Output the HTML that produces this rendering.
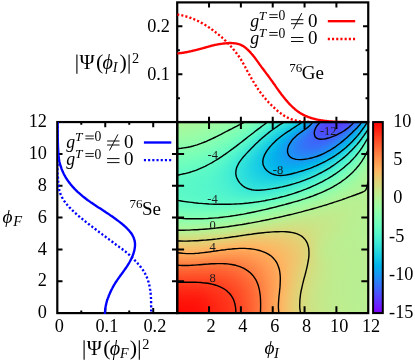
<!DOCTYPE html>
<html><head><meta charset="utf-8"><title>fig</title>
<style>html,body{margin:0;padding:0;background:#fff}body{width:415px;height:362px;overflow:hidden;font-family:"Liberation Serif",serif}</style>
</head><body>
<svg width="415" height="362" viewBox="0 0 415 362" style="display:block">
<rect width="415" height="362" fill="#fff"/>
<defs>
<linearGradient id="r0"><stop offset="0" stop-color="#adf599"/><stop offset="0.03704" stop-color="#abf69a"/><stop offset="0.07407" stop-color="#a9f79c"/><stop offset="0.1111" stop-color="#a6f89d"/><stop offset="0.1481" stop-color="#a4f99f"/><stop offset="0.1852" stop-color="#a0faa1"/><stop offset="0.2222" stop-color="#9cfba4"/><stop offset="0.2593" stop-color="#97fca7"/><stop offset="0.2963" stop-color="#92fdaa"/><stop offset="0.3333" stop-color="#8cfead"/><stop offset="0.3704" stop-color="#83ffb2"/><stop offset="0.4074" stop-color="#78ffb8"/><stop offset="0.4444" stop-color="#6afdc0"/><stop offset="0.4815" stop-color="#58f8c9"/><stop offset="0.5185" stop-color="#46efd1"/><stop offset="0.5556" stop-color="#36e6d8"/><stop offset="0.5926" stop-color="#28dbde"/><stop offset="0.6296" stop-color="#18cde4"/><stop offset="0.6667" stop-color="#04b8eb"/><stop offset="0.7037" stop-color="#1799f2"/><stop offset="0.7407" stop-color="#4061fa"/><stop offset="0.7778" stop-color="#5049fc"/><stop offset="0.8148" stop-color="#5542fd"/><stop offset="0.8519" stop-color="#583dfd"/><stop offset="0.8889" stop-color="#5444fd"/><stop offset="0.9259" stop-color="#3f63fa"/><stop offset="0.963" stop-color="#1997f2"/><stop offset="1" stop-color="#19cee3"/></linearGradient>
<linearGradient id="r1"><stop offset="0" stop-color="#abf69b"/><stop offset="0.03704" stop-color="#a9f79c"/><stop offset="0.07407" stop-color="#a7f89d"/><stop offset="0.1111" stop-color="#a4f99f"/><stop offset="0.1481" stop-color="#a1faa1"/><stop offset="0.1852" stop-color="#9efba3"/><stop offset="0.2222" stop-color="#99fca6"/><stop offset="0.2593" stop-color="#94fda9"/><stop offset="0.2963" stop-color="#8efeac"/><stop offset="0.3333" stop-color="#88ffb0"/><stop offset="0.3704" stop-color="#7fffb5"/><stop offset="0.4074" stop-color="#73febb"/><stop offset="0.4444" stop-color="#64fbc3"/><stop offset="0.4815" stop-color="#52f5cc"/><stop offset="0.5185" stop-color="#3febd4"/><stop offset="0.5556" stop-color="#30e1db"/><stop offset="0.5926" stop-color="#22d6e0"/><stop offset="0.6296" stop-color="#10c6e6"/><stop offset="0.6667" stop-color="#05afed"/><stop offset="0.7037" stop-color="#208df4"/><stop offset="0.7407" stop-color="#4658fb"/><stop offset="0.7778" stop-color="#5247fc"/><stop offset="0.8148" stop-color="#5444fd"/><stop offset="0.8519" stop-color="#5641fd"/><stop offset="0.8889" stop-color="#4f4bfc"/><stop offset="0.9259" stop-color="#366ff9"/><stop offset="0.963" stop-color="#0fa2f0"/><stop offset="1" stop-color="#22d6e0"/></linearGradient>
<linearGradient id="r2"><stop offset="0" stop-color="#a8f79c"/><stop offset="0.03704" stop-color="#a7f89d"/><stop offset="0.07407" stop-color="#a4f89f"/><stop offset="0.1111" stop-color="#a2f9a0"/><stop offset="0.1481" stop-color="#9ffaa2"/><stop offset="0.1852" stop-color="#9bfba5"/><stop offset="0.2222" stop-color="#96fda7"/><stop offset="0.2593" stop-color="#91feaa"/><stop offset="0.2963" stop-color="#8bfeae"/><stop offset="0.3333" stop-color="#84ffb2"/><stop offset="0.3704" stop-color="#7bffb7"/><stop offset="0.4074" stop-color="#6efdbe"/><stop offset="0.4444" stop-color="#5efac6"/><stop offset="0.4815" stop-color="#4bf2cf"/><stop offset="0.5185" stop-color="#38e7d7"/><stop offset="0.5556" stop-color="#2adcdd"/><stop offset="0.5926" stop-color="#1bcfe3"/><stop offset="0.6296" stop-color="#08bde9"/><stop offset="0.6667" stop-color="#0ea5ef"/><stop offset="0.7037" stop-color="#2a81f6"/><stop offset="0.7407" stop-color="#4a52fc"/><stop offset="0.7778" stop-color="#5246fd"/><stop offset="0.8148" stop-color="#5346fd"/><stop offset="0.8519" stop-color="#5246fd"/><stop offset="0.8889" stop-color="#4955fb"/><stop offset="0.9259" stop-color="#2d7df7"/><stop offset="0.963" stop-color="#05afed"/><stop offset="1" stop-color="#2cdedc"/></linearGradient>
<linearGradient id="r3"><stop offset="0" stop-color="#a6f89e"/><stop offset="0.03704" stop-color="#a4f99f"/><stop offset="0.07407" stop-color="#a2f9a0"/><stop offset="0.1111" stop-color="#9ffaa2"/><stop offset="0.1481" stop-color="#9cfba4"/><stop offset="0.1852" stop-color="#98fca6"/><stop offset="0.2222" stop-color="#93fda9"/><stop offset="0.2593" stop-color="#8dfeac"/><stop offset="0.2963" stop-color="#87ffb0"/><stop offset="0.3333" stop-color="#80ffb4"/><stop offset="0.3704" stop-color="#76ffba"/><stop offset="0.4074" stop-color="#68fcc1"/><stop offset="0.4444" stop-color="#57f7c9"/><stop offset="0.4815" stop-color="#44eed2"/><stop offset="0.5185" stop-color="#32e2da"/><stop offset="0.5556" stop-color="#23d7e0"/><stop offset="0.5926" stop-color="#13c8e5"/><stop offset="0.6296" stop-color="#01b3ec"/><stop offset="0.6667" stop-color="#179af2"/><stop offset="0.7037" stop-color="#3276f8"/><stop offset="0.7407" stop-color="#4c4ffc"/><stop offset="0.7778" stop-color="#5247fc"/><stop offset="0.8148" stop-color="#5148fc"/><stop offset="0.8519" stop-color="#4e4cfc"/><stop offset="0.8889" stop-color="#4160fa"/><stop offset="0.9259" stop-color="#228bf5"/><stop offset="0.963" stop-color="#05baea"/><stop offset="1" stop-color="#36e5d8"/></linearGradient>
<linearGradient id="r4"><stop offset="0" stop-color="#a3f99f"/><stop offset="0.03704" stop-color="#a2f9a0"/><stop offset="0.07407" stop-color="#9ffaa2"/><stop offset="0.1111" stop-color="#9dfba3"/><stop offset="0.1481" stop-color="#99fca5"/><stop offset="0.1852" stop-color="#95fda8"/><stop offset="0.2222" stop-color="#90feab"/><stop offset="0.2593" stop-color="#8afeae"/><stop offset="0.2963" stop-color="#84ffb2"/><stop offset="0.3333" stop-color="#7cffb6"/><stop offset="0.3704" stop-color="#71febc"/><stop offset="0.4074" stop-color="#62fbc4"/><stop offset="0.4444" stop-color="#50f4cd"/><stop offset="0.4815" stop-color="#3dead5"/><stop offset="0.5185" stop-color="#2bdddd"/><stop offset="0.5556" stop-color="#1cd1e2"/><stop offset="0.5926" stop-color="#0bc0e8"/><stop offset="0.6296" stop-color="#0aa9ee"/><stop offset="0.6667" stop-color="#1f8ff4"/><stop offset="0.7037" stop-color="#376ef9"/><stop offset="0.7407" stop-color="#4c4ffc"/><stop offset="0.7778" stop-color="#504afc"/><stop offset="0.8148" stop-color="#4e4cfc"/><stop offset="0.8519" stop-color="#4954fb"/><stop offset="0.8889" stop-color="#386df9"/><stop offset="0.9259" stop-color="#1898f2"/><stop offset="0.963" stop-color="#0fc4e7"/><stop offset="1" stop-color="#40ecd4"/></linearGradient>
<linearGradient id="r5"><stop offset="0" stop-color="#a1faa1"/><stop offset="0.03704" stop-color="#9ffaa2"/><stop offset="0.07407" stop-color="#9dfba3"/><stop offset="0.1111" stop-color="#9afca5"/><stop offset="0.1481" stop-color="#97fca7"/><stop offset="0.1852" stop-color="#92fdaa"/><stop offset="0.2222" stop-color="#8dfead"/><stop offset="0.2593" stop-color="#87ffb0"/><stop offset="0.2963" stop-color="#80ffb4"/><stop offset="0.3333" stop-color="#77ffb9"/><stop offset="0.3704" stop-color="#6cfdbf"/><stop offset="0.4074" stop-color="#5cf9c7"/><stop offset="0.4444" stop-color="#49f1d0"/><stop offset="0.4815" stop-color="#36e5d8"/><stop offset="0.5185" stop-color="#25d8df"/><stop offset="0.5556" stop-color="#15cae5"/><stop offset="0.5926" stop-color="#03b8eb"/><stop offset="0.6296" stop-color="#129ff1"/><stop offset="0.6667" stop-color="#2686f5"/><stop offset="0.7037" stop-color="#3b69f9"/><stop offset="0.7407" stop-color="#4b51fc"/><stop offset="0.7778" stop-color="#4d4dfc"/><stop offset="0.8148" stop-color="#4b51fc"/><stop offset="0.8519" stop-color="#435dfb"/><stop offset="0.8889" stop-color="#2e7af7"/><stop offset="0.9259" stop-color="#0ea4f0"/><stop offset="0.963" stop-color="#19cee4"/><stop offset="1" stop-color="#49f1d0"/></linearGradient>
<linearGradient id="r6"><stop offset="0" stop-color="#9efaa3"/><stop offset="0.03704" stop-color="#9dfba3"/><stop offset="0.07407" stop-color="#9afca5"/><stop offset="0.1111" stop-color="#97fca7"/><stop offset="0.1481" stop-color="#94fda9"/><stop offset="0.1852" stop-color="#8ffeab"/><stop offset="0.2222" stop-color="#8affaf"/><stop offset="0.2593" stop-color="#83ffb2"/><stop offset="0.2963" stop-color="#7cffb6"/><stop offset="0.3333" stop-color="#73febb"/><stop offset="0.3704" stop-color="#66fcc2"/><stop offset="0.4074" stop-color="#56f7ca"/><stop offset="0.4444" stop-color="#42edd3"/><stop offset="0.4815" stop-color="#2fe0db"/><stop offset="0.5185" stop-color="#1fd3e1"/><stop offset="0.5556" stop-color="#0fc4e7"/><stop offset="0.5926" stop-color="#05afed"/><stop offset="0.6296" stop-color="#1a95f3"/><stop offset="0.6667" stop-color="#2b7ef6"/><stop offset="0.7037" stop-color="#3c66fa"/><stop offset="0.7407" stop-color="#4855fb"/><stop offset="0.7778" stop-color="#4a52fc"/><stop offset="0.8148" stop-color="#4658fb"/><stop offset="0.8519" stop-color="#3c67fa"/><stop offset="0.8889" stop-color="#2587f5"/><stop offset="0.9259" stop-color="#06aeed"/><stop offset="0.963" stop-color="#23d6e0"/><stop offset="1" stop-color="#53f5cb"/></linearGradient>
<linearGradient id="r7"><stop offset="0" stop-color="#9bfba4"/><stop offset="0.03704" stop-color="#9afca5"/><stop offset="0.07407" stop-color="#98fca6"/><stop offset="0.1111" stop-color="#95fda8"/><stop offset="0.1481" stop-color="#91feaa"/><stop offset="0.1852" stop-color="#8cfead"/><stop offset="0.2222" stop-color="#86ffb0"/><stop offset="0.2593" stop-color="#80ffb4"/><stop offset="0.2963" stop-color="#78ffb8"/><stop offset="0.3333" stop-color="#6efebe"/><stop offset="0.3704" stop-color="#61fac4"/><stop offset="0.4074" stop-color="#4ff4cd"/><stop offset="0.4444" stop-color="#3ce9d6"/><stop offset="0.4815" stop-color="#29dcdd"/><stop offset="0.5185" stop-color="#19cee3"/><stop offset="0.5556" stop-color="#08bde9"/><stop offset="0.5926" stop-color="#0ca7ef"/><stop offset="0.6296" stop-color="#208ef4"/><stop offset="0.6667" stop-color="#2f79f7"/><stop offset="0.7037" stop-color="#3d66fa"/><stop offset="0.7407" stop-color="#4559fb"/><stop offset="0.7778" stop-color="#4658fb"/><stop offset="0.8148" stop-color="#4160fa"/><stop offset="0.8519" stop-color="#3472f8"/><stop offset="0.8889" stop-color="#1b93f3"/><stop offset="0.9259" stop-color="#03b8eb"/><stop offset="0.963" stop-color="#2ddfdc"/><stop offset="1" stop-color="#5cf9c7"/></linearGradient>
<linearGradient id="r8"><stop offset="0" stop-color="#99fca6"/><stop offset="0.03704" stop-color="#97fca7"/><stop offset="0.07407" stop-color="#95fda8"/><stop offset="0.1111" stop-color="#92fdaa"/><stop offset="0.1481" stop-color="#8efeac"/><stop offset="0.1852" stop-color="#89ffaf"/><stop offset="0.2222" stop-color="#83ffb2"/><stop offset="0.2593" stop-color="#7cffb6"/><stop offset="0.2963" stop-color="#74feba"/><stop offset="0.3333" stop-color="#6afdc0"/><stop offset="0.3704" stop-color="#5bf9c7"/><stop offset="0.4074" stop-color="#49f1d0"/><stop offset="0.4444" stop-color="#36e5d8"/><stop offset="0.4815" stop-color="#23d7e0"/><stop offset="0.5185" stop-color="#13c8e5"/><stop offset="0.5556" stop-color="#02b7eb"/><stop offset="0.5926" stop-color="#12a0f1"/><stop offset="0.6296" stop-color="#2488f5"/><stop offset="0.6667" stop-color="#3275f8"/><stop offset="0.7037" stop-color="#3d66fa"/><stop offset="0.7407" stop-color="#425efa"/><stop offset="0.7778" stop-color="#425ffa"/><stop offset="0.8148" stop-color="#3b68f9"/><stop offset="0.8519" stop-color="#2c7ef7"/><stop offset="0.8889" stop-color="#139ff1"/><stop offset="0.9259" stop-color="#0cc2e8"/><stop offset="0.963" stop-color="#37e6d8"/><stop offset="1" stop-color="#65fcc2"/></linearGradient>
<linearGradient id="r9"><stop offset="0" stop-color="#96fda8"/><stop offset="0.03704" stop-color="#94fda8"/><stop offset="0.07407" stop-color="#92fdaa"/><stop offset="0.1111" stop-color="#8ffeac"/><stop offset="0.1481" stop-color="#8bfeae"/><stop offset="0.1852" stop-color="#86ffb1"/><stop offset="0.2222" stop-color="#80ffb4"/><stop offset="0.2593" stop-color="#79ffb8"/><stop offset="0.2963" stop-color="#70febd"/><stop offset="0.3333" stop-color="#65fcc2"/><stop offset="0.3704" stop-color="#55f6ca"/><stop offset="0.4074" stop-color="#43edd3"/><stop offset="0.4444" stop-color="#30e1db"/><stop offset="0.4815" stop-color="#1ed3e2"/><stop offset="0.5185" stop-color="#0ec3e7"/><stop offset="0.5556" stop-color="#03b1ed"/><stop offset="0.5926" stop-color="#179af2"/><stop offset="0.6296" stop-color="#2883f6"/><stop offset="0.6667" stop-color="#3472f8"/><stop offset="0.7037" stop-color="#3c67fa"/><stop offset="0.7407" stop-color="#3f62fa"/><stop offset="0.7778" stop-color="#3d65fa"/><stop offset="0.8148" stop-color="#3571f8"/><stop offset="0.8519" stop-color="#2389f5"/><stop offset="0.8889" stop-color="#0aa9ee"/><stop offset="0.9259" stop-color="#16cbe4"/><stop offset="0.963" stop-color="#40ecd4"/><stop offset="1" stop-color="#6dfdbe"/></linearGradient>
<linearGradient id="r10"><stop offset="0" stop-color="#93fda9"/><stop offset="0.03704" stop-color="#91fdaa"/><stop offset="0.07407" stop-color="#8ffeab"/><stop offset="0.1111" stop-color="#8cfead"/><stop offset="0.1481" stop-color="#88ffb0"/><stop offset="0.1852" stop-color="#82ffb3"/><stop offset="0.2222" stop-color="#7cffb6"/><stop offset="0.2593" stop-color="#75feba"/><stop offset="0.2963" stop-color="#6cfdbf"/><stop offset="0.3333" stop-color="#60fac5"/><stop offset="0.3704" stop-color="#50f4cd"/><stop offset="0.4074" stop-color="#3dead5"/><stop offset="0.4444" stop-color="#2adddd"/><stop offset="0.4815" stop-color="#19cee3"/><stop offset="0.5185" stop-color="#09bee9"/><stop offset="0.5556" stop-color="#08abee"/><stop offset="0.5926" stop-color="#1a95f3"/><stop offset="0.6296" stop-color="#2a80f6"/><stop offset="0.6667" stop-color="#3572f8"/><stop offset="0.7037" stop-color="#3b69f9"/><stop offset="0.7407" stop-color="#3c67fa"/><stop offset="0.7778" stop-color="#386cf9"/><stop offset="0.8148" stop-color="#2e7bf7"/><stop offset="0.8519" stop-color="#1b94f3"/><stop offset="0.8889" stop-color="#01b3ec"/><stop offset="0.9259" stop-color="#20d4e1"/><stop offset="0.963" stop-color="#4af1d0"/><stop offset="1" stop-color="#74feba"/></linearGradient>
<linearGradient id="r11"><stop offset="0" stop-color="#90feab"/><stop offset="0.03704" stop-color="#8efeac"/><stop offset="0.07407" stop-color="#8cfead"/><stop offset="0.1111" stop-color="#89ffaf"/><stop offset="0.1481" stop-color="#84ffb2"/><stop offset="0.1852" stop-color="#7fffb5"/><stop offset="0.2222" stop-color="#79ffb8"/><stop offset="0.2593" stop-color="#71febc"/><stop offset="0.2963" stop-color="#68fcc1"/><stop offset="0.3333" stop-color="#5bf8c8"/><stop offset="0.3704" stop-color="#4af1cf"/><stop offset="0.4074" stop-color="#37e6d8"/><stop offset="0.4444" stop-color="#25d9df"/><stop offset="0.4815" stop-color="#15cae5"/><stop offset="0.5185" stop-color="#05baea"/><stop offset="0.5556" stop-color="#0ca7ef"/><stop offset="0.5926" stop-color="#1d92f3"/><stop offset="0.6296" stop-color="#2b7ff6"/><stop offset="0.6667" stop-color="#3472f8"/><stop offset="0.7037" stop-color="#396bf9"/><stop offset="0.7407" stop-color="#396cf9"/><stop offset="0.7778" stop-color="#3374f8"/><stop offset="0.8148" stop-color="#2784f6"/><stop offset="0.8519" stop-color="#139ef1"/><stop offset="0.8889" stop-color="#08bde9"/><stop offset="0.9259" stop-color="#2adddd"/><stop offset="0.963" stop-color="#52f5cc"/><stop offset="1" stop-color="#7bffb7"/></linearGradient>
<linearGradient id="r12"><stop offset="0" stop-color="#8dfead"/><stop offset="0.03704" stop-color="#8bfeae"/><stop offset="0.07407" stop-color="#89ffaf"/><stop offset="0.1111" stop-color="#85ffb1"/><stop offset="0.1481" stop-color="#81ffb4"/><stop offset="0.1852" stop-color="#7bffb7"/><stop offset="0.2222" stop-color="#75feba"/><stop offset="0.2593" stop-color="#6dfdbe"/><stop offset="0.2963" stop-color="#63fbc3"/><stop offset="0.3333" stop-color="#55f6ca"/><stop offset="0.3704" stop-color="#44eed2"/><stop offset="0.4074" stop-color="#32e3da"/><stop offset="0.4444" stop-color="#21d5e0"/><stop offset="0.4815" stop-color="#11c6e6"/><stop offset="0.5185" stop-color="#02b6eb"/><stop offset="0.5556" stop-color="#0ea4f0"/><stop offset="0.5926" stop-color="#1e90f4"/><stop offset="0.6296" stop-color="#2b7ff6"/><stop offset="0.6667" stop-color="#3374f8"/><stop offset="0.7037" stop-color="#366ff9"/><stop offset="0.7407" stop-color="#3472f8"/><stop offset="0.7778" stop-color="#2d7cf7"/><stop offset="0.8148" stop-color="#1f8ef4"/><stop offset="0.8519" stop-color="#0aa9ee"/><stop offset="0.8889" stop-color="#11c7e6"/><stop offset="0.9259" stop-color="#34e4d9"/><stop offset="0.963" stop-color="#5af8c8"/><stop offset="1" stop-color="#81ffb4"/></linearGradient>
<linearGradient id="r13"><stop offset="0" stop-color="#89ffaf"/><stop offset="0.03704" stop-color="#88ffb0"/><stop offset="0.07407" stop-color="#85ffb1"/><stop offset="0.1111" stop-color="#82ffb3"/><stop offset="0.1481" stop-color="#7dffb6"/><stop offset="0.1852" stop-color="#78ffb9"/><stop offset="0.2222" stop-color="#71febc"/><stop offset="0.2593" stop-color="#69fdc0"/><stop offset="0.2963" stop-color="#5ffac6"/><stop offset="0.3333" stop-color="#50f4cd"/><stop offset="0.3704" stop-color="#3febd4"/><stop offset="0.4074" stop-color="#2edfdc"/><stop offset="0.4444" stop-color="#1dd1e2"/><stop offset="0.4815" stop-color="#0dc3e7"/><stop offset="0.5185" stop-color="#01b3ec"/><stop offset="0.5556" stop-color="#10a1f0"/><stop offset="0.5926" stop-color="#1f8ff4"/><stop offset="0.6296" stop-color="#2a80f6"/><stop offset="0.6667" stop-color="#3177f8"/><stop offset="0.7037" stop-color="#3374f8"/><stop offset="0.7407" stop-color="#3078f7"/><stop offset="0.7778" stop-color="#2784f6"/><stop offset="0.8148" stop-color="#1799f2"/><stop offset="0.8519" stop-color="#01b3ec"/><stop offset="0.8889" stop-color="#1bd0e3"/><stop offset="0.9259" stop-color="#3eead5"/><stop offset="0.963" stop-color="#61fbc4"/><stop offset="1" stop-color="#87ffb0"/></linearGradient>
<linearGradient id="r14"><stop offset="0" stop-color="#86ffb1"/><stop offset="0.03704" stop-color="#84ffb2"/><stop offset="0.07407" stop-color="#82ffb3"/><stop offset="0.1111" stop-color="#7effb5"/><stop offset="0.1481" stop-color="#7affb8"/><stop offset="0.1852" stop-color="#74feba"/><stop offset="0.2222" stop-color="#6efdbe"/><stop offset="0.2593" stop-color="#65fcc2"/><stop offset="0.2963" stop-color="#5af8c8"/><stop offset="0.3333" stop-color="#4bf2cf"/><stop offset="0.3704" stop-color="#3ae8d6"/><stop offset="0.4074" stop-color="#2adcdd"/><stop offset="0.4444" stop-color="#1acee3"/><stop offset="0.4815" stop-color="#0bc0e8"/><stop offset="0.5185" stop-color="#04b0ed"/><stop offset="0.5556" stop-color="#12a0f1"/><stop offset="0.5926" stop-color="#1f8ff4"/><stop offset="0.6296" stop-color="#2982f6"/><stop offset="0.6667" stop-color="#2e7bf7"/><stop offset="0.7037" stop-color="#2f7af7"/><stop offset="0.7407" stop-color="#2a80f6"/><stop offset="0.7778" stop-color="#208ef4"/><stop offset="0.8148" stop-color="#0fa3f0"/><stop offset="0.8519" stop-color="#09bee9"/><stop offset="0.8889" stop-color="#26d9df"/><stop offset="0.9259" stop-color="#46efd1"/><stop offset="0.963" stop-color="#68fcc1"/><stop offset="1" stop-color="#8cfead"/></linearGradient>
<linearGradient id="r15"><stop offset="0" stop-color="#83ffb3"/><stop offset="0.03704" stop-color="#81ffb4"/><stop offset="0.07407" stop-color="#7effb5"/><stop offset="0.1111" stop-color="#7bffb7"/><stop offset="0.1481" stop-color="#76ffb9"/><stop offset="0.1852" stop-color="#71febc"/><stop offset="0.2222" stop-color="#6afdc0"/><stop offset="0.2593" stop-color="#61fbc4"/><stop offset="0.2963" stop-color="#55f6ca"/><stop offset="0.3333" stop-color="#46efd1"/><stop offset="0.3704" stop-color="#36e5d8"/><stop offset="0.4074" stop-color="#26d9df"/><stop offset="0.4444" stop-color="#17cce4"/><stop offset="0.4815" stop-color="#08bde9"/><stop offset="0.5185" stop-color="#05aeed"/><stop offset="0.5556" stop-color="#129ff1"/><stop offset="0.5926" stop-color="#1e90f4"/><stop offset="0.6296" stop-color="#2685f5"/><stop offset="0.6667" stop-color="#2a80f6"/><stop offset="0.7037" stop-color="#2a81f6"/><stop offset="0.7407" stop-color="#2488f5"/><stop offset="0.7778" stop-color="#1898f2"/><stop offset="0.8148" stop-color="#05aeed"/><stop offset="0.8519" stop-color="#13c8e6"/><stop offset="0.8889" stop-color="#2fe1db"/><stop offset="0.9259" stop-color="#4ef3cd"/><stop offset="0.963" stop-color="#6ffebd"/><stop offset="1" stop-color="#91feaa"/></linearGradient>
<linearGradient id="r16"><stop offset="0" stop-color="#7fffb5"/><stop offset="0.03704" stop-color="#7dffb6"/><stop offset="0.07407" stop-color="#7bffb7"/><stop offset="0.1111" stop-color="#77ffb9"/><stop offset="0.1481" stop-color="#73febb"/><stop offset="0.1852" stop-color="#6dfdbe"/><stop offset="0.2222" stop-color="#66fcc2"/><stop offset="0.2593" stop-color="#5df9c6"/><stop offset="0.2963" stop-color="#51f5cc"/><stop offset="0.3333" stop-color="#42edd3"/><stop offset="0.3704" stop-color="#32e3da"/><stop offset="0.4074" stop-color="#23d7e0"/><stop offset="0.4444" stop-color="#14c9e5"/><stop offset="0.4815" stop-color="#07bbea"/><stop offset="0.5185" stop-color="#06aded"/><stop offset="0.5556" stop-color="#129ff1"/><stop offset="0.5926" stop-color="#1c93f3"/><stop offset="0.6296" stop-color="#2389f5"/><stop offset="0.6667" stop-color="#2686f5"/><stop offset="0.7037" stop-color="#2488f5"/><stop offset="0.7407" stop-color="#1d92f3"/><stop offset="0.7778" stop-color="#0fa3f0"/><stop offset="0.8148" stop-color="#04b9ea"/><stop offset="0.8519" stop-color="#1dd1e2"/><stop offset="0.8889" stop-color="#39e7d7"/><stop offset="0.9259" stop-color="#56f7ca"/><stop offset="0.963" stop-color="#76ffba"/><stop offset="1" stop-color="#95fda8"/></linearGradient>
<linearGradient id="r17"><stop offset="0" stop-color="#7cffb6"/><stop offset="0.03704" stop-color="#7affb7"/><stop offset="0.07407" stop-color="#77ffb9"/><stop offset="0.1111" stop-color="#74febb"/><stop offset="0.1481" stop-color="#6ffebd"/><stop offset="0.1852" stop-color="#6afdc0"/><stop offset="0.2222" stop-color="#63fbc4"/><stop offset="0.2593" stop-color="#59f8c8"/><stop offset="0.2963" stop-color="#4df3ce"/><stop offset="0.3333" stop-color="#3eead5"/><stop offset="0.3704" stop-color="#2fe0db"/><stop offset="0.4074" stop-color="#20d4e1"/><stop offset="0.4444" stop-color="#12c8e6"/><stop offset="0.4815" stop-color="#06baea"/><stop offset="0.5185" stop-color="#06aded"/><stop offset="0.5556" stop-color="#11a0f0"/><stop offset="0.5926" stop-color="#1a95f3"/><stop offset="0.6296" stop-color="#1f8ef4"/><stop offset="0.6667" stop-color="#218df4"/><stop offset="0.7037" stop-color="#1d91f3"/><stop offset="0.7407" stop-color="#159cf1"/><stop offset="0.7778" stop-color="#06aeed"/><stop offset="0.8148" stop-color="#0ec4e7"/><stop offset="0.8519" stop-color="#26dade"/><stop offset="0.8889" stop-color="#42edd3"/><stop offset="0.9259" stop-color="#5ef9c6"/><stop offset="0.963" stop-color="#7cffb7"/><stop offset="1" stop-color="#99fca6"/></linearGradient>
<linearGradient id="r18"><stop offset="0" stop-color="#78ffb8"/><stop offset="0.03704" stop-color="#76ffb9"/><stop offset="0.07407" stop-color="#74febb"/><stop offset="0.1111" stop-color="#70febd"/><stop offset="0.1481" stop-color="#6cfdbf"/><stop offset="0.1852" stop-color="#66fcc2"/><stop offset="0.2222" stop-color="#5ffac5"/><stop offset="0.2593" stop-color="#56f7ca"/><stop offset="0.2963" stop-color="#49f1d0"/><stop offset="0.3333" stop-color="#3ae8d6"/><stop offset="0.3704" stop-color="#2cdedc"/><stop offset="0.4074" stop-color="#1ed3e2"/><stop offset="0.4444" stop-color="#11c6e6"/><stop offset="0.4815" stop-color="#05baea"/><stop offset="0.5185" stop-color="#06aded"/><stop offset="0.5556" stop-color="#10a2f0"/><stop offset="0.5926" stop-color="#1799f2"/><stop offset="0.6296" stop-color="#1b94f3"/><stop offset="0.6667" stop-color="#1b94f3"/><stop offset="0.7037" stop-color="#169af2"/><stop offset="0.7407" stop-color="#0ca7ef"/><stop offset="0.7778" stop-color="#04b9ea"/><stop offset="0.8148" stop-color="#18cde4"/><stop offset="0.8519" stop-color="#30e1db"/><stop offset="0.8889" stop-color="#4af1cf"/><stop offset="0.9259" stop-color="#65fcc3"/><stop offset="0.963" stop-color="#81ffb3"/><stop offset="1" stop-color="#9cfba4"/></linearGradient>
<linearGradient id="r19"><stop offset="0" stop-color="#75feba"/><stop offset="0.03704" stop-color="#73febb"/><stop offset="0.07407" stop-color="#70febd"/><stop offset="0.1111" stop-color="#6dfdbe"/><stop offset="0.1481" stop-color="#68fcc1"/><stop offset="0.1852" stop-color="#63fbc3"/><stop offset="0.2222" stop-color="#5cf9c7"/><stop offset="0.2593" stop-color="#52f5cc"/><stop offset="0.2963" stop-color="#45efd2"/><stop offset="0.3333" stop-color="#37e6d8"/><stop offset="0.3704" stop-color="#29dcdd"/><stop offset="0.4074" stop-color="#1dd1e2"/><stop offset="0.4444" stop-color="#11c6e6"/><stop offset="0.4815" stop-color="#05baea"/><stop offset="0.5185" stop-color="#05aeed"/><stop offset="0.5556" stop-color="#0ea4f0"/><stop offset="0.5926" stop-color="#149df1"/><stop offset="0.6296" stop-color="#169af2"/><stop offset="0.6667" stop-color="#149df1"/><stop offset="0.7037" stop-color="#0ea4f0"/><stop offset="0.7407" stop-color="#02b2ec"/><stop offset="0.7778" stop-color="#0ec3e7"/><stop offset="0.8148" stop-color="#22d6e0"/><stop offset="0.8519" stop-color="#39e7d7"/><stop offset="0.8889" stop-color="#52f5cc"/><stop offset="0.9259" stop-color="#6cfdbf"/><stop offset="0.963" stop-color="#86ffb0"/><stop offset="1" stop-color="#a0faa2"/></linearGradient>
<linearGradient id="r20"><stop offset="0" stop-color="#72febc"/><stop offset="0.03704" stop-color="#6ffebd"/><stop offset="0.07407" stop-color="#6dfdbe"/><stop offset="0.1111" stop-color="#6afdc0"/><stop offset="0.1481" stop-color="#65fcc2"/><stop offset="0.1852" stop-color="#60fac5"/><stop offset="0.2222" stop-color="#59f8c8"/><stop offset="0.2593" stop-color="#4ff4cd"/><stop offset="0.2963" stop-color="#42edd3"/><stop offset="0.3333" stop-color="#34e4d9"/><stop offset="0.3704" stop-color="#28dbde"/><stop offset="0.4074" stop-color="#1cd0e2"/><stop offset="0.4444" stop-color="#10c6e6"/><stop offset="0.4815" stop-color="#06bbea"/><stop offset="0.5185" stop-color="#04b0ed"/><stop offset="0.5556" stop-color="#0ca7ef"/><stop offset="0.5926" stop-color="#10a2f0"/><stop offset="0.6296" stop-color="#10a1f0"/><stop offset="0.6667" stop-color="#0da5ef"/><stop offset="0.7037" stop-color="#05aeed"/><stop offset="0.7407" stop-color="#07bce9"/><stop offset="0.7778" stop-color="#17cce4"/><stop offset="0.8148" stop-color="#2bdddd"/><stop offset="0.8519" stop-color="#42edd3"/><stop offset="0.8889" stop-color="#5af8c8"/><stop offset="0.9259" stop-color="#72febb"/><stop offset="0.963" stop-color="#8bfeae"/><stop offset="1" stop-color="#a3f9a0"/></linearGradient>
<linearGradient id="r21"><stop offset="0" stop-color="#6ffebd"/><stop offset="0.03704" stop-color="#6cfdbf"/><stop offset="0.07407" stop-color="#6afdc0"/><stop offset="0.1111" stop-color="#67fcc2"/><stop offset="0.1481" stop-color="#62fbc4"/><stop offset="0.1852" stop-color="#5df9c6"/><stop offset="0.2222" stop-color="#56f7ca"/><stop offset="0.2593" stop-color="#4df3ce"/><stop offset="0.2963" stop-color="#40ecd4"/><stop offset="0.3333" stop-color="#33e3da"/><stop offset="0.3704" stop-color="#26d9de"/><stop offset="0.4074" stop-color="#1bd0e3"/><stop offset="0.4444" stop-color="#11c6e6"/><stop offset="0.4815" stop-color="#07bce9"/><stop offset="0.5185" stop-color="#02b2ec"/><stop offset="0.5556" stop-color="#09aaee"/><stop offset="0.5926" stop-color="#0ba7ef"/><stop offset="0.6296" stop-color="#0aa8ef"/><stop offset="0.6667" stop-color="#06aeed"/><stop offset="0.7037" stop-color="#03b8eb"/><stop offset="0.7407" stop-color="#10c5e6"/><stop offset="0.7778" stop-color="#21d5e1"/><stop offset="0.8148" stop-color="#34e4d9"/><stop offset="0.8519" stop-color="#4af1cf"/><stop offset="0.8889" stop-color="#61fbc4"/><stop offset="0.9259" stop-color="#79ffb8"/><stop offset="0.963" stop-color="#90feab"/><stop offset="1" stop-color="#a5f89e"/></linearGradient>
<linearGradient id="r22"><stop offset="0" stop-color="#6cfdbf"/><stop offset="0.03704" stop-color="#69fdc0"/><stop offset="0.07407" stop-color="#67fcc1"/><stop offset="0.1111" stop-color="#64fbc3"/><stop offset="0.1481" stop-color="#60fac5"/><stop offset="0.1852" stop-color="#5bf9c7"/><stop offset="0.2222" stop-color="#54f6cb"/><stop offset="0.2593" stop-color="#4af1cf"/><stop offset="0.2963" stop-color="#3eebd5"/><stop offset="0.3333" stop-color="#31e2da"/><stop offset="0.3704" stop-color="#26d9df"/><stop offset="0.4074" stop-color="#1bd0e3"/><stop offset="0.4444" stop-color="#12c7e6"/><stop offset="0.4815" stop-color="#09bee9"/><stop offset="0.5185" stop-color="#00b5ec"/><stop offset="0.5556" stop-color="#05aeed"/><stop offset="0.5926" stop-color="#07adee"/><stop offset="0.6296" stop-color="#04b0ed"/><stop offset="0.6667" stop-color="#02b7eb"/><stop offset="0.7037" stop-color="#0cc1e8"/><stop offset="0.7407" stop-color="#19cee3"/><stop offset="0.7778" stop-color="#2adcdd"/><stop offset="0.8148" stop-color="#3dead5"/><stop offset="0.8519" stop-color="#52f5cc"/><stop offset="0.8889" stop-color="#68fcc1"/><stop offset="0.9259" stop-color="#7fffb5"/><stop offset="0.963" stop-color="#94fda8"/><stop offset="1" stop-color="#a8f79d"/></linearGradient>
<linearGradient id="r23"><stop offset="0" stop-color="#69fdc0"/><stop offset="0.03704" stop-color="#67fcc2"/><stop offset="0.07407" stop-color="#64fbc3"/><stop offset="0.1111" stop-color="#61fbc4"/><stop offset="0.1481" stop-color="#5ef9c6"/><stop offset="0.1852" stop-color="#59f8c8"/><stop offset="0.2222" stop-color="#52f5cc"/><stop offset="0.2593" stop-color="#49f1d0"/><stop offset="0.2963" stop-color="#3dead5"/><stop offset="0.3333" stop-color="#30e1db"/><stop offset="0.3704" stop-color="#25d9df"/><stop offset="0.4074" stop-color="#1bd0e3"/><stop offset="0.4444" stop-color="#13c8e6"/><stop offset="0.4815" stop-color="#0bc0e8"/><stop offset="0.5185" stop-color="#03b8eb"/><stop offset="0.5556" stop-color="#01b3ec"/><stop offset="0.5926" stop-color="#01b3ec"/><stop offset="0.6296" stop-color="#03b7eb"/><stop offset="0.6667" stop-color="#0abfe8"/><stop offset="0.7037" stop-color="#14cae5"/><stop offset="0.7407" stop-color="#22d6e0"/><stop offset="0.7778" stop-color="#32e3da"/><stop offset="0.8148" stop-color="#45efd1"/><stop offset="0.8519" stop-color="#5af8c8"/><stop offset="0.8889" stop-color="#6ffebd"/><stop offset="0.9259" stop-color="#84ffb2"/><stop offset="0.963" stop-color="#98fca6"/><stop offset="1" stop-color="#aaf69b"/></linearGradient>
<linearGradient id="r24"><stop offset="0" stop-color="#66fcc2"/><stop offset="0.03704" stop-color="#64fbc3"/><stop offset="0.07407" stop-color="#62fbc4"/><stop offset="0.1111" stop-color="#5ffac5"/><stop offset="0.1481" stop-color="#5cf9c7"/><stop offset="0.1852" stop-color="#57f7c9"/><stop offset="0.2222" stop-color="#50f4cc"/><stop offset="0.2593" stop-color="#47f0d1"/><stop offset="0.2963" stop-color="#3ce9d6"/><stop offset="0.3333" stop-color="#30e1db"/><stop offset="0.3704" stop-color="#25d9df"/><stop offset="0.4074" stop-color="#1cd1e2"/><stop offset="0.4444" stop-color="#14cae5"/><stop offset="0.4815" stop-color="#0dc2e7"/><stop offset="0.5185" stop-color="#06bbea"/><stop offset="0.5556" stop-color="#03b8eb"/><stop offset="0.5926" stop-color="#05b9ea"/><stop offset="0.6296" stop-color="#0abfe9"/><stop offset="0.6667" stop-color="#12c7e6"/><stop offset="0.7037" stop-color="#1dd1e2"/><stop offset="0.7407" stop-color="#2bdddd"/><stop offset="0.7778" stop-color="#3be9d6"/><stop offset="0.8148" stop-color="#4ef3ce"/><stop offset="0.8519" stop-color="#62fbc4"/><stop offset="0.8889" stop-color="#76ffba"/><stop offset="0.9259" stop-color="#8afeaf"/><stop offset="0.963" stop-color="#9cfba4"/><stop offset="1" stop-color="#acf59a"/></linearGradient>
<linearGradient id="r25"><stop offset="0" stop-color="#64fbc3"/><stop offset="0.03704" stop-color="#62fbc4"/><stop offset="0.07407" stop-color="#60fac5"/><stop offset="0.1111" stop-color="#5df9c6"/><stop offset="0.1481" stop-color="#5af8c8"/><stop offset="0.1852" stop-color="#56f7ca"/><stop offset="0.2222" stop-color="#4ff4cd"/><stop offset="0.2593" stop-color="#46efd1"/><stop offset="0.2963" stop-color="#3be9d6"/><stop offset="0.3333" stop-color="#30e1db"/><stop offset="0.3704" stop-color="#26d9df"/><stop offset="0.4074" stop-color="#1dd2e2"/><stop offset="0.4444" stop-color="#16cbe4"/><stop offset="0.4815" stop-color="#10c5e6"/><stop offset="0.5185" stop-color="#0abfe8"/><stop offset="0.5556" stop-color="#08bde9"/><stop offset="0.5926" stop-color="#0bc0e8"/><stop offset="0.6296" stop-color="#11c6e6"/><stop offset="0.6667" stop-color="#1acfe3"/><stop offset="0.7037" stop-color="#25d9df"/><stop offset="0.7407" stop-color="#33e3d9"/><stop offset="0.7778" stop-color="#44eed2"/><stop offset="0.8148" stop-color="#56f7ca"/><stop offset="0.8519" stop-color="#69fdc0"/><stop offset="0.8889" stop-color="#7cffb6"/><stop offset="0.9259" stop-color="#8ffeac"/><stop offset="0.963" stop-color="#9ffaa2"/><stop offset="1" stop-color="#aef599"/></linearGradient>
<linearGradient id="r26"><stop offset="0" stop-color="#62fbc4"/><stop offset="0.03704" stop-color="#60fac5"/><stop offset="0.07407" stop-color="#5efac6"/><stop offset="0.1111" stop-color="#5cf9c7"/><stop offset="0.1481" stop-color="#59f8c9"/><stop offset="0.1852" stop-color="#54f6cb"/><stop offset="0.2222" stop-color="#4ef3cd"/><stop offset="0.2593" stop-color="#46efd1"/><stop offset="0.2963" stop-color="#3be9d6"/><stop offset="0.3333" stop-color="#31e2da"/><stop offset="0.3704" stop-color="#27dade"/><stop offset="0.4074" stop-color="#1fd3e1"/><stop offset="0.4444" stop-color="#19cee4"/><stop offset="0.4815" stop-color="#13c8e5"/><stop offset="0.5185" stop-color="#0fc4e7"/><stop offset="0.5556" stop-color="#0ec3e7"/><stop offset="0.5926" stop-color="#11c7e6"/><stop offset="0.6296" stop-color="#19cde4"/><stop offset="0.6667" stop-color="#22d6e0"/><stop offset="0.7037" stop-color="#2edfdc"/><stop offset="0.7407" stop-color="#3ce9d6"/><stop offset="0.7778" stop-color="#4cf2ce"/><stop offset="0.8148" stop-color="#5efac6"/><stop offset="0.8519" stop-color="#70febc"/><stop offset="0.8889" stop-color="#82ffb3"/><stop offset="0.9259" stop-color="#93fda9"/><stop offset="0.963" stop-color="#a2f9a0"/><stop offset="1" stop-color="#aff498"/></linearGradient>
<linearGradient id="r27"><stop offset="0" stop-color="#60fac5"/><stop offset="0.03704" stop-color="#5efac6"/><stop offset="0.07407" stop-color="#5df9c7"/><stop offset="0.1111" stop-color="#5af8c8"/><stop offset="0.1481" stop-color="#58f7c9"/><stop offset="0.1852" stop-color="#53f6cb"/><stop offset="0.2222" stop-color="#4ef3ce"/><stop offset="0.2593" stop-color="#46efd1"/><stop offset="0.2963" stop-color="#3ce9d6"/><stop offset="0.3333" stop-color="#32e2da"/><stop offset="0.3704" stop-color="#28dbde"/><stop offset="0.4074" stop-color="#21d5e1"/><stop offset="0.4444" stop-color="#1bd0e3"/><stop offset="0.4815" stop-color="#17cce4"/><stop offset="0.5185" stop-color="#14c9e5"/><stop offset="0.5556" stop-color="#14c9e5"/><stop offset="0.5926" stop-color="#19cde4"/><stop offset="0.6296" stop-color="#20d4e1"/><stop offset="0.6667" stop-color="#2adcdd"/><stop offset="0.7037" stop-color="#36e5d8"/><stop offset="0.7407" stop-color="#44eed2"/><stop offset="0.7778" stop-color="#55f6ca"/><stop offset="0.8148" stop-color="#66fcc2"/><stop offset="0.8519" stop-color="#77ffb9"/><stop offset="0.8889" stop-color="#88ffaf"/><stop offset="0.9259" stop-color="#97fca7"/><stop offset="0.963" stop-color="#a4f89f"/><stop offset="1" stop-color="#b1f397"/></linearGradient>
<linearGradient id="r28"><stop offset="0" stop-color="#5ffac6"/><stop offset="0.03704" stop-color="#5df9c7"/><stop offset="0.07407" stop-color="#5bf9c7"/><stop offset="0.1111" stop-color="#59f8c8"/><stop offset="0.1481" stop-color="#57f7ca"/><stop offset="0.1852" stop-color="#53f5cb"/><stop offset="0.2222" stop-color="#4ef3ce"/><stop offset="0.2593" stop-color="#46efd1"/><stop offset="0.2963" stop-color="#3dead5"/><stop offset="0.3333" stop-color="#33e3d9"/><stop offset="0.3704" stop-color="#2adddd"/><stop offset="0.4074" stop-color="#23d7e0"/><stop offset="0.4444" stop-color="#1ed3e1"/><stop offset="0.4815" stop-color="#1bd0e3"/><stop offset="0.5185" stop-color="#19cee3"/><stop offset="0.5556" stop-color="#1bcfe3"/><stop offset="0.5926" stop-color="#20d4e1"/><stop offset="0.6296" stop-color="#28dbde"/><stop offset="0.6667" stop-color="#32e3da"/><stop offset="0.7037" stop-color="#3eebd5"/><stop offset="0.7407" stop-color="#4df3ce"/><stop offset="0.7778" stop-color="#5df9c6"/><stop offset="0.8148" stop-color="#6efdbe"/><stop offset="0.8519" stop-color="#7effb5"/><stop offset="0.8889" stop-color="#8dfeac"/><stop offset="0.9259" stop-color="#9bfba4"/><stop offset="0.963" stop-color="#a7f89d"/><stop offset="1" stop-color="#b2f396"/></linearGradient>
<linearGradient id="r29"><stop offset="0" stop-color="#5ef9c6"/><stop offset="0.03704" stop-color="#5cf9c7"/><stop offset="0.07407" stop-color="#5af8c8"/><stop offset="0.1111" stop-color="#58f8c9"/><stop offset="0.1481" stop-color="#56f7ca"/><stop offset="0.1852" stop-color="#52f5cc"/><stop offset="0.2222" stop-color="#4ef3ce"/><stop offset="0.2593" stop-color="#47f0d1"/><stop offset="0.2963" stop-color="#3eead5"/><stop offset="0.3333" stop-color="#35e4d9"/><stop offset="0.3704" stop-color="#2cdedc"/><stop offset="0.4074" stop-color="#26d9df"/><stop offset="0.4444" stop-color="#22d6e0"/><stop offset="0.4815" stop-color="#20d4e1"/><stop offset="0.5185" stop-color="#1fd4e1"/><stop offset="0.5556" stop-color="#22d6e0"/><stop offset="0.5926" stop-color="#28dbde"/><stop offset="0.6296" stop-color="#30e1db"/><stop offset="0.6667" stop-color="#3be8d6"/><stop offset="0.7037" stop-color="#47f0d1"/><stop offset="0.7407" stop-color="#56f7ca"/><stop offset="0.7778" stop-color="#65fcc2"/><stop offset="0.8148" stop-color="#75feba"/><stop offset="0.8519" stop-color="#84ffb2"/><stop offset="0.8889" stop-color="#92fdaa"/><stop offset="0.9259" stop-color="#9efaa2"/><stop offset="0.963" stop-color="#a9f79c"/><stop offset="1" stop-color="#b2f396"/></linearGradient>
<linearGradient id="r30"><stop offset="0" stop-color="#5df9c7"/><stop offset="0.03704" stop-color="#5bf9c8"/><stop offset="0.07407" stop-color="#59f8c8"/><stop offset="0.1111" stop-color="#58f7c9"/><stop offset="0.1481" stop-color="#56f7ca"/><stop offset="0.1852" stop-color="#52f5cc"/><stop offset="0.2222" stop-color="#4ef3ce"/><stop offset="0.2593" stop-color="#48f0d1"/><stop offset="0.2963" stop-color="#3febd4"/><stop offset="0.3333" stop-color="#37e6d8"/><stop offset="0.3704" stop-color="#2fe0db"/><stop offset="0.4074" stop-color="#29dcdd"/><stop offset="0.4444" stop-color="#26d9df"/><stop offset="0.4815" stop-color="#25d8df"/><stop offset="0.5185" stop-color="#26d9df"/><stop offset="0.5556" stop-color="#29dcdd"/><stop offset="0.5926" stop-color="#30e1db"/><stop offset="0.6296" stop-color="#39e7d7"/><stop offset="0.6667" stop-color="#43eed3"/><stop offset="0.7037" stop-color="#50f4cd"/><stop offset="0.7407" stop-color="#5efac6"/><stop offset="0.7778" stop-color="#6dfdbe"/><stop offset="0.8148" stop-color="#7cffb6"/><stop offset="0.8519" stop-color="#8afeae"/><stop offset="0.8889" stop-color="#97fca7"/><stop offset="0.9259" stop-color="#a2f9a0"/><stop offset="0.963" stop-color="#aaf69b"/><stop offset="1" stop-color="#b3f296"/></linearGradient>
<linearGradient id="r31"><stop offset="0" stop-color="#5cf9c7"/><stop offset="0.03704" stop-color="#5af8c8"/><stop offset="0.07407" stop-color="#59f8c9"/><stop offset="0.1111" stop-color="#57f7c9"/><stop offset="0.1481" stop-color="#55f6ca"/><stop offset="0.1852" stop-color="#52f5cc"/><stop offset="0.2222" stop-color="#4ef3ce"/><stop offset="0.2593" stop-color="#49f1d0"/><stop offset="0.2963" stop-color="#41ecd4"/><stop offset="0.3333" stop-color="#39e7d7"/><stop offset="0.3704" stop-color="#31e2da"/><stop offset="0.4074" stop-color="#2cdedc"/><stop offset="0.4444" stop-color="#2adddd"/><stop offset="0.4815" stop-color="#2adddd"/><stop offset="0.5185" stop-color="#2ddedc"/><stop offset="0.5556" stop-color="#31e2da"/><stop offset="0.5926" stop-color="#38e7d7"/><stop offset="0.6296" stop-color="#41ecd4"/><stop offset="0.6667" stop-color="#4cf2cf"/><stop offset="0.7037" stop-color="#58f8c9"/><stop offset="0.7407" stop-color="#66fcc2"/><stop offset="0.7778" stop-color="#75feba"/><stop offset="0.8148" stop-color="#83ffb3"/><stop offset="0.8519" stop-color="#90feab"/><stop offset="0.8889" stop-color="#9cfba4"/><stop offset="0.9259" stop-color="#a5f89e"/><stop offset="0.963" stop-color="#acf59a"/><stop offset="1" stop-color="#b3f295"/></linearGradient>
<linearGradient id="r32"><stop offset="0" stop-color="#5cf9c7"/><stop offset="0.03704" stop-color="#5af8c8"/><stop offset="0.07407" stop-color="#58f8c9"/><stop offset="0.1111" stop-color="#57f7c9"/><stop offset="0.1481" stop-color="#55f6ca"/><stop offset="0.1852" stop-color="#52f5cc"/><stop offset="0.2222" stop-color="#4ff4cd"/><stop offset="0.2593" stop-color="#4af1d0"/><stop offset="0.2963" stop-color="#42edd3"/><stop offset="0.3333" stop-color="#3be9d6"/><stop offset="0.3704" stop-color="#35e4d9"/><stop offset="0.4074" stop-color="#30e1db"/><stop offset="0.4444" stop-color="#2fe0db"/><stop offset="0.4815" stop-color="#30e1db"/><stop offset="0.5185" stop-color="#34e4d9"/><stop offset="0.5556" stop-color="#39e7d7"/><stop offset="0.5926" stop-color="#40ecd4"/><stop offset="0.6296" stop-color="#49f1d0"/><stop offset="0.6667" stop-color="#54f6cb"/><stop offset="0.7037" stop-color="#61fbc4"/><stop offset="0.7407" stop-color="#6ffebd"/><stop offset="0.7778" stop-color="#7cffb6"/><stop offset="0.8148" stop-color="#89ffaf"/><stop offset="0.8519" stop-color="#95fda8"/><stop offset="0.8889" stop-color="#a0faa2"/><stop offset="0.9259" stop-color="#a8f79d"/><stop offset="0.963" stop-color="#aef599"/><stop offset="1" stop-color="#b4f295"/></linearGradient>
<linearGradient id="r33"><stop offset="0" stop-color="#5cf9c7"/><stop offset="0.03704" stop-color="#5af8c8"/><stop offset="0.07407" stop-color="#58f8c9"/><stop offset="0.1111" stop-color="#57f7c9"/><stop offset="0.1481" stop-color="#55f6ca"/><stop offset="0.1852" stop-color="#53f5cb"/><stop offset="0.2222" stop-color="#4ff4cd"/><stop offset="0.2593" stop-color="#4bf2cf"/><stop offset="0.2963" stop-color="#44eed2"/><stop offset="0.3333" stop-color="#3eebd5"/><stop offset="0.3704" stop-color="#38e7d7"/><stop offset="0.4074" stop-color="#35e4d9"/><stop offset="0.4444" stop-color="#34e4d9"/><stop offset="0.4815" stop-color="#37e6d8"/><stop offset="0.5185" stop-color="#3be8d6"/><stop offset="0.5556" stop-color="#40ecd4"/><stop offset="0.5926" stop-color="#48f0d0"/><stop offset="0.6296" stop-color="#52f5cc"/><stop offset="0.6667" stop-color="#5df9c6"/><stop offset="0.7037" stop-color="#6afdc0"/><stop offset="0.7407" stop-color="#77ffb9"/><stop offset="0.7778" stop-color="#83ffb2"/><stop offset="0.8148" stop-color="#8ffeab"/><stop offset="0.8519" stop-color="#9bfba5"/><stop offset="0.8889" stop-color="#a4f99f"/><stop offset="0.9259" stop-color="#abf69b"/><stop offset="0.963" stop-color="#aff498"/><stop offset="1" stop-color="#b4f295"/></linearGradient>
<linearGradient id="r34"><stop offset="0" stop-color="#5cf9c7"/><stop offset="0.03704" stop-color="#5af8c8"/><stop offset="0.07407" stop-color="#58f8c9"/><stop offset="0.1111" stop-color="#57f7c9"/><stop offset="0.1481" stop-color="#56f7ca"/><stop offset="0.1852" stop-color="#53f6cb"/><stop offset="0.2222" stop-color="#50f4cd"/><stop offset="0.2593" stop-color="#4cf2ce"/><stop offset="0.2963" stop-color="#47f0d1"/><stop offset="0.3333" stop-color="#41ecd3"/><stop offset="0.3704" stop-color="#3ce9d5"/><stop offset="0.4074" stop-color="#3ae8d7"/><stop offset="0.4444" stop-color="#3ae8d6"/><stop offset="0.4815" stop-color="#3dead5"/><stop offset="0.5185" stop-color="#42edd3"/><stop offset="0.5556" stop-color="#48f0d0"/><stop offset="0.5926" stop-color="#50f4cd"/><stop offset="0.6296" stop-color="#5af8c8"/><stop offset="0.6667" stop-color="#66fcc2"/><stop offset="0.7037" stop-color="#72febc"/><stop offset="0.7407" stop-color="#7fffb5"/><stop offset="0.7778" stop-color="#8afeae"/><stop offset="0.8148" stop-color="#95fda8"/><stop offset="0.8519" stop-color="#9ffaa2"/><stop offset="0.8889" stop-color="#a8f79d"/><stop offset="0.9259" stop-color="#adf599"/><stop offset="0.963" stop-color="#b1f397"/><stop offset="1" stop-color="#b5f194"/></linearGradient>
<linearGradient id="r35"><stop offset="0" stop-color="#5cf9c7"/><stop offset="0.03704" stop-color="#5af8c8"/><stop offset="0.07407" stop-color="#59f8c8"/><stop offset="0.1111" stop-color="#58f7c9"/><stop offset="0.1481" stop-color="#56f7ca"/><stop offset="0.1852" stop-color="#54f6cb"/><stop offset="0.2222" stop-color="#51f5cc"/><stop offset="0.2593" stop-color="#4ef3ce"/><stop offset="0.2963" stop-color="#49f1d0"/><stop offset="0.3333" stop-color="#45efd2"/><stop offset="0.3704" stop-color="#41ecd3"/><stop offset="0.4074" stop-color="#3febd4"/><stop offset="0.4444" stop-color="#40ecd4"/><stop offset="0.4815" stop-color="#44eed2"/><stop offset="0.5185" stop-color="#49f1d0"/><stop offset="0.5556" stop-color="#50f4cd"/><stop offset="0.5926" stop-color="#59f8c8"/><stop offset="0.6296" stop-color="#63fbc3"/><stop offset="0.6667" stop-color="#6ffebd"/><stop offset="0.7037" stop-color="#7bffb7"/><stop offset="0.7407" stop-color="#86ffb1"/><stop offset="0.7778" stop-color="#91feaa"/><stop offset="0.8148" stop-color="#9bfba4"/><stop offset="0.8519" stop-color="#a4f99f"/><stop offset="0.8889" stop-color="#abf69b"/><stop offset="0.9259" stop-color="#b0f498"/><stop offset="0.963" stop-color="#b3f396"/><stop offset="1" stop-color="#b5f194"/></linearGradient>
<linearGradient id="r36"><stop offset="0" stop-color="#5df9c6"/><stop offset="0.03704" stop-color="#5bf9c7"/><stop offset="0.07407" stop-color="#5af8c8"/><stop offset="0.1111" stop-color="#58f8c9"/><stop offset="0.1481" stop-color="#57f7c9"/><stop offset="0.1852" stop-color="#55f6ca"/><stop offset="0.2222" stop-color="#53f5cb"/><stop offset="0.2593" stop-color="#50f4cd"/><stop offset="0.2963" stop-color="#4cf2ce"/><stop offset="0.3333" stop-color="#49f1d0"/><stop offset="0.3704" stop-color="#46efd1"/><stop offset="0.4074" stop-color="#45efd2"/><stop offset="0.4444" stop-color="#47f0d1"/><stop offset="0.4815" stop-color="#4bf2cf"/><stop offset="0.5185" stop-color="#51f5cc"/><stop offset="0.5556" stop-color="#59f8c8"/><stop offset="0.5926" stop-color="#62fbc4"/><stop offset="0.6296" stop-color="#6dfdbf"/><stop offset="0.6667" stop-color="#78ffb9"/><stop offset="0.7037" stop-color="#83ffb2"/><stop offset="0.7407" stop-color="#8efeac"/><stop offset="0.7778" stop-color="#98fca6"/><stop offset="0.8148" stop-color="#a1faa1"/><stop offset="0.8519" stop-color="#a8f79c"/><stop offset="0.8889" stop-color="#aef599"/><stop offset="0.9259" stop-color="#b2f396"/><stop offset="0.963" stop-color="#b4f295"/><stop offset="1" stop-color="#b6f193"/></linearGradient>
<linearGradient id="r37"><stop offset="0" stop-color="#5efac6"/><stop offset="0.03704" stop-color="#5cf9c7"/><stop offset="0.07407" stop-color="#5bf9c7"/><stop offset="0.1111" stop-color="#5af8c8"/><stop offset="0.1481" stop-color="#58f8c9"/><stop offset="0.1852" stop-color="#57f7c9"/><stop offset="0.2222" stop-color="#55f6ca"/><stop offset="0.2593" stop-color="#52f5cc"/><stop offset="0.2963" stop-color="#50f4cd"/><stop offset="0.3333" stop-color="#4df3ce"/><stop offset="0.3704" stop-color="#4cf2cf"/><stop offset="0.4074" stop-color="#4cf2ce"/><stop offset="0.4444" stop-color="#4ff4cd"/><stop offset="0.4815" stop-color="#53f6cb"/><stop offset="0.5185" stop-color="#5af8c8"/><stop offset="0.5556" stop-color="#62fbc4"/><stop offset="0.5926" stop-color="#6bfdbf"/><stop offset="0.6296" stop-color="#76ffba"/><stop offset="0.6667" stop-color="#81ffb4"/><stop offset="0.7037" stop-color="#8bfeae"/><stop offset="0.7407" stop-color="#95fda8"/><stop offset="0.7778" stop-color="#9efba3"/><stop offset="0.8148" stop-color="#a6f89e"/><stop offset="0.8519" stop-color="#acf59a"/><stop offset="0.8889" stop-color="#b1f397"/><stop offset="0.9259" stop-color="#b4f295"/><stop offset="0.963" stop-color="#b5f194"/><stop offset="1" stop-color="#b7f093"/></linearGradient>
<linearGradient id="r38"><stop offset="0" stop-color="#60fac5"/><stop offset="0.03704" stop-color="#5ef9c6"/><stop offset="0.07407" stop-color="#5cf9c7"/><stop offset="0.1111" stop-color="#5bf9c7"/><stop offset="0.1481" stop-color="#5af8c8"/><stop offset="0.1852" stop-color="#59f8c9"/><stop offset="0.2222" stop-color="#57f7c9"/><stop offset="0.2593" stop-color="#55f6ca"/><stop offset="0.2963" stop-color="#54f6cb"/><stop offset="0.3333" stop-color="#52f5cc"/><stop offset="0.3704" stop-color="#52f5cc"/><stop offset="0.4074" stop-color="#53f6cb"/><stop offset="0.4444" stop-color="#57f7ca"/><stop offset="0.4815" stop-color="#5cf9c7"/><stop offset="0.5185" stop-color="#63fbc4"/><stop offset="0.5556" stop-color="#6bfdbf"/><stop offset="0.5926" stop-color="#75feba"/><stop offset="0.6296" stop-color="#7fffb4"/><stop offset="0.6667" stop-color="#89ffaf"/><stop offset="0.7037" stop-color="#93fda9"/><stop offset="0.7407" stop-color="#9bfba4"/><stop offset="0.7778" stop-color="#a3f99f"/><stop offset="0.8148" stop-color="#aaf69b"/><stop offset="0.8519" stop-color="#b0f498"/><stop offset="0.8889" stop-color="#b3f295"/><stop offset="0.9259" stop-color="#b5f194"/><stop offset="0.963" stop-color="#b6f194"/><stop offset="1" stop-color="#b8f093"/></linearGradient>
<linearGradient id="r39"><stop offset="0" stop-color="#62fbc4"/><stop offset="0.03704" stop-color="#60fac5"/><stop offset="0.07407" stop-color="#5ffac6"/><stop offset="0.1111" stop-color="#5df9c6"/><stop offset="0.1481" stop-color="#5cf9c7"/><stop offset="0.1852" stop-color="#5bf9c7"/><stop offset="0.2222" stop-color="#5af8c8"/><stop offset="0.2593" stop-color="#59f8c8"/><stop offset="0.2963" stop-color="#58f7c9"/><stop offset="0.3333" stop-color="#58f7c9"/><stop offset="0.3704" stop-color="#58f8c9"/><stop offset="0.4074" stop-color="#5bf8c8"/><stop offset="0.4444" stop-color="#5ffac5"/><stop offset="0.4815" stop-color="#65fcc3"/><stop offset="0.5185" stop-color="#6cfdbf"/><stop offset="0.5556" stop-color="#75feba"/><stop offset="0.5926" stop-color="#7fffb5"/><stop offset="0.6296" stop-color="#88ffaf"/><stop offset="0.6667" stop-color="#91fdaa"/><stop offset="0.7037" stop-color="#9afca5"/><stop offset="0.7407" stop-color="#a2f9a0"/><stop offset="0.7778" stop-color="#a9f79c"/><stop offset="0.8148" stop-color="#aff498"/><stop offset="0.8519" stop-color="#b3f296"/><stop offset="0.8889" stop-color="#b6f194"/><stop offset="0.9259" stop-color="#b7f093"/><stop offset="0.963" stop-color="#b7f093"/><stop offset="1" stop-color="#b8f092"/></linearGradient>
<linearGradient id="r40"><stop offset="0" stop-color="#65fcc3"/><stop offset="0.03704" stop-color="#63fbc4"/><stop offset="0.07407" stop-color="#61fbc4"/><stop offset="0.1111" stop-color="#60fac5"/><stop offset="0.1481" stop-color="#5ffac5"/><stop offset="0.1852" stop-color="#5efac6"/><stop offset="0.2222" stop-color="#5ef9c6"/><stop offset="0.2593" stop-color="#5df9c6"/><stop offset="0.2963" stop-color="#5df9c6"/><stop offset="0.3333" stop-color="#5ef9c6"/><stop offset="0.3704" stop-color="#5ffac5"/><stop offset="0.4074" stop-color="#63fbc4"/><stop offset="0.4444" stop-color="#68fcc1"/><stop offset="0.4815" stop-color="#6efebe"/><stop offset="0.5185" stop-color="#76ffb9"/><stop offset="0.5556" stop-color="#7fffb5"/><stop offset="0.5926" stop-color="#88ffb0"/><stop offset="0.6296" stop-color="#91feab"/><stop offset="0.6667" stop-color="#99fca6"/><stop offset="0.7037" stop-color="#a0faa1"/><stop offset="0.7407" stop-color="#a7f79d"/><stop offset="0.7778" stop-color="#aef599"/><stop offset="0.8148" stop-color="#b2f396"/><stop offset="0.8519" stop-color="#b6f194"/><stop offset="0.8889" stop-color="#b7f093"/><stop offset="0.9259" stop-color="#b8f093"/><stop offset="0.963" stop-color="#b7f093"/><stop offset="1" stop-color="#b9ef92"/></linearGradient>
<linearGradient id="r41"><stop offset="0" stop-color="#68fcc1"/><stop offset="0.03704" stop-color="#66fcc2"/><stop offset="0.07407" stop-color="#64fbc3"/><stop offset="0.1111" stop-color="#63fbc3"/><stop offset="0.1481" stop-color="#63fbc4"/><stop offset="0.1852" stop-color="#62fbc4"/><stop offset="0.2222" stop-color="#62fbc4"/><stop offset="0.2593" stop-color="#62fbc4"/><stop offset="0.2963" stop-color="#62fbc4"/><stop offset="0.3333" stop-color="#64fbc3"/><stop offset="0.3704" stop-color="#67fcc1"/><stop offset="0.4074" stop-color="#6bfdbf"/><stop offset="0.4444" stop-color="#71febc"/><stop offset="0.4815" stop-color="#78ffb9"/><stop offset="0.5185" stop-color="#80ffb4"/><stop offset="0.5556" stop-color="#88ffaf"/><stop offset="0.5926" stop-color="#91feab"/><stop offset="0.6296" stop-color="#98fca6"/><stop offset="0.6667" stop-color="#a0faa2"/><stop offset="0.7037" stop-color="#a7f89d"/><stop offset="0.7407" stop-color="#adf59a"/><stop offset="0.7778" stop-color="#b2f396"/><stop offset="0.8148" stop-color="#b6f194"/><stop offset="0.8519" stop-color="#b8f092"/><stop offset="0.8889" stop-color="#b9ef92"/><stop offset="0.9259" stop-color="#b8f092"/><stop offset="0.963" stop-color="#b8f092"/><stop offset="1" stop-color="#b9ef92"/></linearGradient>
<linearGradient id="r42"><stop offset="0" stop-color="#6cfdbf"/><stop offset="0.03704" stop-color="#6afdc0"/><stop offset="0.07407" stop-color="#68fcc1"/><stop offset="0.1111" stop-color="#67fcc1"/><stop offset="0.1481" stop-color="#67fcc2"/><stop offset="0.1852" stop-color="#66fcc2"/><stop offset="0.2222" stop-color="#66fcc2"/><stop offset="0.2593" stop-color="#67fcc1"/><stop offset="0.2963" stop-color="#69fcc1"/><stop offset="0.3333" stop-color="#6bfdbf"/><stop offset="0.3704" stop-color="#6ffebd"/><stop offset="0.4074" stop-color="#74febb"/><stop offset="0.4444" stop-color="#7affb7"/><stop offset="0.4815" stop-color="#81ffb3"/><stop offset="0.5185" stop-color="#89ffaf"/><stop offset="0.5556" stop-color="#91feaa"/><stop offset="0.5926" stop-color="#98fca6"/><stop offset="0.6296" stop-color="#a0faa2"/><stop offset="0.6667" stop-color="#a6f89e"/><stop offset="0.7037" stop-color="#acf59a"/><stop offset="0.7407" stop-color="#b2f396"/><stop offset="0.7778" stop-color="#b6f194"/><stop offset="0.8148" stop-color="#b8ef92"/><stop offset="0.8519" stop-color="#baef91"/><stop offset="0.8889" stop-color="#baef91"/><stop offset="0.9259" stop-color="#b9ef92"/><stop offset="0.963" stop-color="#b8f092"/><stop offset="1" stop-color="#b9ef92"/></linearGradient>
<linearGradient id="r43"><stop offset="0" stop-color="#70febc"/><stop offset="0.03704" stop-color="#6efebe"/><stop offset="0.07407" stop-color="#6dfdbf"/><stop offset="0.1111" stop-color="#6cfdbf"/><stop offset="0.1481" stop-color="#6bfdbf"/><stop offset="0.1852" stop-color="#6bfdbf"/><stop offset="0.2222" stop-color="#6cfdbf"/><stop offset="0.2593" stop-color="#6dfdbe"/><stop offset="0.2963" stop-color="#6ffebd"/><stop offset="0.3333" stop-color="#72febb"/><stop offset="0.3704" stop-color="#77ffb9"/><stop offset="0.4074" stop-color="#7cffb6"/><stop offset="0.4444" stop-color="#83ffb3"/><stop offset="0.4815" stop-color="#8afeae"/><stop offset="0.5185" stop-color="#92fdaa"/><stop offset="0.5556" stop-color="#99fca6"/><stop offset="0.5926" stop-color="#a0faa2"/><stop offset="0.6296" stop-color="#a6f89e"/><stop offset="0.6667" stop-color="#acf59a"/><stop offset="0.7037" stop-color="#b1f397"/><stop offset="0.7407" stop-color="#b6f194"/><stop offset="0.7778" stop-color="#b9ef92"/><stop offset="0.8148" stop-color="#bbee91"/><stop offset="0.8519" stop-color="#bbee90"/><stop offset="0.8889" stop-color="#bbee91"/><stop offset="0.9259" stop-color="#b9ef92"/><stop offset="0.963" stop-color="#b8f092"/><stop offset="1" stop-color="#b9ef92"/></linearGradient>
<linearGradient id="r44"><stop offset="0" stop-color="#75feba"/><stop offset="0.03704" stop-color="#73febb"/><stop offset="0.07407" stop-color="#71febc"/><stop offset="0.1111" stop-color="#71febc"/><stop offset="0.1481" stop-color="#70febd"/><stop offset="0.1852" stop-color="#71febc"/><stop offset="0.2222" stop-color="#72febc"/><stop offset="0.2593" stop-color="#73febb"/><stop offset="0.2963" stop-color="#76ffb9"/><stop offset="0.3333" stop-color="#7affb7"/><stop offset="0.3704" stop-color="#7fffb5"/><stop offset="0.4074" stop-color="#85ffb1"/><stop offset="0.4444" stop-color="#8bfeae"/><stop offset="0.4815" stop-color="#92fdaa"/><stop offset="0.5185" stop-color="#99fca5"/><stop offset="0.5556" stop-color="#a0faa1"/><stop offset="0.5926" stop-color="#a6f89d"/><stop offset="0.6296" stop-color="#acf59a"/><stop offset="0.6667" stop-color="#b1f397"/><stop offset="0.7037" stop-color="#b6f194"/><stop offset="0.7407" stop-color="#b9ef91"/><stop offset="0.7778" stop-color="#bcee90"/><stop offset="0.8148" stop-color="#bded8f"/><stop offset="0.8519" stop-color="#bced8f"/><stop offset="0.8889" stop-color="#bbee90"/><stop offset="0.9259" stop-color="#baef91"/><stop offset="0.963" stop-color="#b8f092"/><stop offset="1" stop-color="#b8ef92"/></linearGradient>
<linearGradient id="r45"><stop offset="0" stop-color="#7affb7"/><stop offset="0.03704" stop-color="#78ffb8"/><stop offset="0.07407" stop-color="#77ffb9"/><stop offset="0.1111" stop-color="#76ffba"/><stop offset="0.1481" stop-color="#76ffba"/><stop offset="0.1852" stop-color="#77ffb9"/><stop offset="0.2222" stop-color="#78ffb8"/><stop offset="0.2593" stop-color="#7affb7"/><stop offset="0.2963" stop-color="#7effb5"/><stop offset="0.3333" stop-color="#82ffb3"/><stop offset="0.3704" stop-color="#87ffb0"/><stop offset="0.4074" stop-color="#8dfead"/><stop offset="0.4444" stop-color="#94fda9"/><stop offset="0.4815" stop-color="#9afca5"/><stop offset="0.5185" stop-color="#a1faa1"/><stop offset="0.5556" stop-color="#a7f89d"/><stop offset="0.5926" stop-color="#adf59a"/><stop offset="0.6296" stop-color="#b2f396"/><stop offset="0.6667" stop-color="#b6f193"/><stop offset="0.7037" stop-color="#baef91"/><stop offset="0.7407" stop-color="#bded8f"/><stop offset="0.7778" stop-color="#beec8f"/><stop offset="0.8148" stop-color="#beec8e"/><stop offset="0.8519" stop-color="#bded8f"/><stop offset="0.8889" stop-color="#bcee90"/><stop offset="0.9259" stop-color="#baef91"/><stop offset="0.963" stop-color="#b8f092"/><stop offset="1" stop-color="#b8f092"/></linearGradient>
<linearGradient id="r46"><stop offset="0" stop-color="#80ffb4"/><stop offset="0.03704" stop-color="#7dffb5"/><stop offset="0.07407" stop-color="#7cffb6"/><stop offset="0.1111" stop-color="#7cffb6"/><stop offset="0.1481" stop-color="#7cffb6"/><stop offset="0.1852" stop-color="#7dffb6"/><stop offset="0.2222" stop-color="#7fffb5"/><stop offset="0.2593" stop-color="#82ffb3"/><stop offset="0.2963" stop-color="#85ffb1"/><stop offset="0.3333" stop-color="#8afeae"/><stop offset="0.3704" stop-color="#8ffeab"/><stop offset="0.4074" stop-color="#95fda8"/><stop offset="0.4444" stop-color="#9bfba4"/><stop offset="0.4815" stop-color="#a2f9a0"/><stop offset="0.5185" stop-color="#a8f79d"/><stop offset="0.5556" stop-color="#adf599"/><stop offset="0.5926" stop-color="#b3f396"/><stop offset="0.6296" stop-color="#b7f093"/><stop offset="0.6667" stop-color="#bbee91"/><stop offset="0.7037" stop-color="#beed8f"/><stop offset="0.7407" stop-color="#bfec8e"/><stop offset="0.7778" stop-color="#c0eb8d"/><stop offset="0.8148" stop-color="#bfeb8e"/><stop offset="0.8519" stop-color="#beec8e"/><stop offset="0.8889" stop-color="#bcee90"/><stop offset="0.9259" stop-color="#baef91"/><stop offset="0.963" stop-color="#b8f092"/><stop offset="1" stop-color="#b8f092"/></linearGradient>
<linearGradient id="r47"><stop offset="0" stop-color="#85ffb1"/><stop offset="0.03704" stop-color="#83ffb2"/><stop offset="0.07407" stop-color="#82ffb3"/><stop offset="0.1111" stop-color="#82ffb3"/><stop offset="0.1481" stop-color="#83ffb3"/><stop offset="0.1852" stop-color="#84ffb2"/><stop offset="0.2222" stop-color="#86ffb1"/><stop offset="0.2593" stop-color="#89ffaf"/><stop offset="0.2963" stop-color="#8dfead"/><stop offset="0.3333" stop-color="#92fdaa"/><stop offset="0.3704" stop-color="#97fca7"/><stop offset="0.4074" stop-color="#9dfba3"/><stop offset="0.4444" stop-color="#a3f9a0"/><stop offset="0.4815" stop-color="#a9f79c"/><stop offset="0.5185" stop-color="#aef499"/><stop offset="0.5556" stop-color="#b3f295"/><stop offset="0.5926" stop-color="#b8f092"/><stop offset="0.6296" stop-color="#bced90"/><stop offset="0.6667" stop-color="#bfec8e"/><stop offset="0.7037" stop-color="#c1eb8d"/><stop offset="0.7407" stop-color="#c2ea8c"/><stop offset="0.7778" stop-color="#c1ea8c"/><stop offset="0.8148" stop-color="#c0eb8d"/><stop offset="0.8519" stop-color="#beec8e"/><stop offset="0.8889" stop-color="#bced90"/><stop offset="0.9259" stop-color="#baef91"/><stop offset="0.963" stop-color="#b8f093"/><stop offset="1" stop-color="#b8f093"/></linearGradient>
<linearGradient id="r48"><stop offset="0" stop-color="#8bfeae"/><stop offset="0.03704" stop-color="#8affaf"/><stop offset="0.07407" stop-color="#89ffaf"/><stop offset="0.1111" stop-color="#89ffaf"/><stop offset="0.1481" stop-color="#8affaf"/><stop offset="0.1852" stop-color="#8bfeae"/><stop offset="0.2222" stop-color="#8efeac"/><stop offset="0.2593" stop-color="#91feaa"/><stop offset="0.2963" stop-color="#95fda8"/><stop offset="0.3333" stop-color="#9afca5"/><stop offset="0.3704" stop-color="#9ffaa2"/><stop offset="0.4074" stop-color="#a5f89f"/><stop offset="0.4444" stop-color="#aaf69b"/><stop offset="0.4815" stop-color="#b0f498"/><stop offset="0.5185" stop-color="#b5f194"/><stop offset="0.5556" stop-color="#b9ef91"/><stop offset="0.5926" stop-color="#bded8f"/><stop offset="0.6296" stop-color="#c1eb8d"/><stop offset="0.6667" stop-color="#c3e98b"/><stop offset="0.7037" stop-color="#c4e98b"/><stop offset="0.7407" stop-color="#c4e98b"/><stop offset="0.7778" stop-color="#c3e98b"/><stop offset="0.8148" stop-color="#c1eb8d"/><stop offset="0.8519" stop-color="#bfec8e"/><stop offset="0.8889" stop-color="#bced90"/><stop offset="0.9259" stop-color="#b9ef91"/><stop offset="0.963" stop-color="#b7f093"/><stop offset="1" stop-color="#b7f093"/></linearGradient>
<linearGradient id="r49"><stop offset="0" stop-color="#91fdaa"/><stop offset="0.03704" stop-color="#90feab"/><stop offset="0.07407" stop-color="#90feab"/><stop offset="0.1111" stop-color="#90feab"/><stop offset="0.1481" stop-color="#91feaa"/><stop offset="0.1852" stop-color="#93fda9"/><stop offset="0.2222" stop-color="#96fda8"/><stop offset="0.2593" stop-color="#99fca6"/><stop offset="0.2963" stop-color="#9dfba3"/><stop offset="0.3333" stop-color="#a2f9a0"/><stop offset="0.3704" stop-color="#a7f79d"/><stop offset="0.4074" stop-color="#acf59a"/><stop offset="0.4444" stop-color="#b2f396"/><stop offset="0.4815" stop-color="#b7f093"/><stop offset="0.5185" stop-color="#bbee90"/><stop offset="0.5556" stop-color="#bfec8e"/><stop offset="0.5926" stop-color="#c3ea8c"/><stop offset="0.6296" stop-color="#c5e88a"/><stop offset="0.6667" stop-color="#c6e789"/><stop offset="0.7037" stop-color="#c6e789"/><stop offset="0.7407" stop-color="#c5e88a"/><stop offset="0.7778" stop-color="#c4e98b"/><stop offset="0.8148" stop-color="#c1ea8c"/><stop offset="0.8519" stop-color="#bfec8e"/><stop offset="0.8889" stop-color="#bcee90"/><stop offset="0.9259" stop-color="#b9ef92"/><stop offset="0.963" stop-color="#b7f093"/><stop offset="1" stop-color="#b7f093"/></linearGradient>
<linearGradient id="r50"><stop offset="0" stop-color="#98fca6"/><stop offset="0.03704" stop-color="#97fca7"/><stop offset="0.07407" stop-color="#97fca7"/><stop offset="0.1111" stop-color="#97fca7"/><stop offset="0.1481" stop-color="#99fca6"/><stop offset="0.1852" stop-color="#9bfba5"/><stop offset="0.2222" stop-color="#9efba3"/><stop offset="0.2593" stop-color="#a1f9a1"/><stop offset="0.2963" stop-color="#a5f89e"/><stop offset="0.3333" stop-color="#aaf69b"/><stop offset="0.3704" stop-color="#aff498"/><stop offset="0.4074" stop-color="#b4f295"/><stop offset="0.4444" stop-color="#b9ef92"/><stop offset="0.4815" stop-color="#bded8f"/><stop offset="0.5185" stop-color="#c2ea8c"/><stop offset="0.5556" stop-color="#c5e88a"/><stop offset="0.5926" stop-color="#c7e688"/><stop offset="0.6296" stop-color="#c9e587"/><stop offset="0.6667" stop-color="#c9e587"/><stop offset="0.7037" stop-color="#c8e688"/><stop offset="0.7407" stop-color="#c7e789"/><stop offset="0.7778" stop-color="#c4e88a"/><stop offset="0.8148" stop-color="#c2ea8c"/><stop offset="0.8519" stop-color="#bfec8e"/><stop offset="0.8889" stop-color="#bcee90"/><stop offset="0.9259" stop-color="#b9ef92"/><stop offset="0.963" stop-color="#b7f093"/><stop offset="1" stop-color="#b7f093"/></linearGradient>
<linearGradient id="r51"><stop offset="0" stop-color="#9ffaa2"/><stop offset="0.03704" stop-color="#9efba3"/><stop offset="0.07407" stop-color="#9efba3"/><stop offset="0.1111" stop-color="#9ffaa2"/><stop offset="0.1481" stop-color="#a1faa1"/><stop offset="0.1852" stop-color="#a3f9a0"/><stop offset="0.2222" stop-color="#a6f89e"/><stop offset="0.2593" stop-color="#a9f79c"/><stop offset="0.2963" stop-color="#aef599"/><stop offset="0.3333" stop-color="#b2f396"/><stop offset="0.3704" stop-color="#b7f093"/><stop offset="0.4074" stop-color="#bbee90"/><stop offset="0.4444" stop-color="#c0eb8d"/><stop offset="0.4815" stop-color="#c4e98b"/><stop offset="0.5185" stop-color="#c8e688"/><stop offset="0.5556" stop-color="#cae486"/><stop offset="0.5926" stop-color="#cce385"/><stop offset="0.6296" stop-color="#cde385"/><stop offset="0.6667" stop-color="#cce385"/><stop offset="0.7037" stop-color="#cae486"/><stop offset="0.7407" stop-color="#c8e688"/><stop offset="0.7778" stop-color="#c5e88a"/><stop offset="0.8148" stop-color="#c2ea8c"/><stop offset="0.8519" stop-color="#bfec8e"/><stop offset="0.8889" stop-color="#bcee90"/><stop offset="0.9259" stop-color="#b9ef92"/><stop offset="0.963" stop-color="#b7f093"/><stop offset="1" stop-color="#b7f093"/></linearGradient>
<linearGradient id="r52"><stop offset="0" stop-color="#a5f89e"/><stop offset="0.03704" stop-color="#a5f89e"/><stop offset="0.07407" stop-color="#a5f89e"/><stop offset="0.1111" stop-color="#a7f89d"/><stop offset="0.1481" stop-color="#a8f79c"/><stop offset="0.1852" stop-color="#abf69b"/><stop offset="0.2222" stop-color="#aef599"/><stop offset="0.2593" stop-color="#b2f397"/><stop offset="0.2963" stop-color="#b5f194"/><stop offset="0.3333" stop-color="#baef91"/><stop offset="0.3704" stop-color="#beec8e"/><stop offset="0.4074" stop-color="#c3e98b"/><stop offset="0.4444" stop-color="#c7e789"/><stop offset="0.4815" stop-color="#cbe486"/><stop offset="0.5185" stop-color="#cde284"/><stop offset="0.5556" stop-color="#cfe183"/><stop offset="0.5926" stop-color="#d0e082"/><stop offset="0.6296" stop-color="#d0e082"/><stop offset="0.6667" stop-color="#cfe183"/><stop offset="0.7037" stop-color="#cce385"/><stop offset="0.7407" stop-color="#c9e687"/><stop offset="0.7778" stop-color="#c5e88a"/><stop offset="0.8148" stop-color="#c2ea8c"/><stop offset="0.8519" stop-color="#beec8e"/><stop offset="0.8889" stop-color="#bbee90"/><stop offset="0.9259" stop-color="#b9ef92"/><stop offset="0.963" stop-color="#b7f093"/><stop offset="1" stop-color="#b7f093"/></linearGradient>
<linearGradient id="r53"><stop offset="0" stop-color="#acf59a"/><stop offset="0.03704" stop-color="#acf59a"/><stop offset="0.07407" stop-color="#adf599"/><stop offset="0.1111" stop-color="#aef498"/><stop offset="0.1481" stop-color="#b0f497"/><stop offset="0.1852" stop-color="#b3f296"/><stop offset="0.2222" stop-color="#b6f194"/><stop offset="0.2593" stop-color="#b9ef92"/><stop offset="0.2963" stop-color="#bded8f"/><stop offset="0.3333" stop-color="#c1ea8c"/><stop offset="0.3704" stop-color="#c6e889"/><stop offset="0.4074" stop-color="#cae587"/><stop offset="0.4444" stop-color="#cee284"/><stop offset="0.4815" stop-color="#d1e082"/><stop offset="0.5185" stop-color="#d3de80"/><stop offset="0.5556" stop-color="#d4dd80"/><stop offset="0.5926" stop-color="#d4dd80"/><stop offset="0.6296" stop-color="#d3de80"/><stop offset="0.6667" stop-color="#d1df82"/><stop offset="0.7037" stop-color="#cee284"/><stop offset="0.7407" stop-color="#c9e587"/><stop offset="0.7778" stop-color="#c5e88a"/><stop offset="0.8148" stop-color="#c1ea8c"/><stop offset="0.8519" stop-color="#beec8e"/><stop offset="0.8889" stop-color="#bbee90"/><stop offset="0.9259" stop-color="#b8ef92"/><stop offset="0.963" stop-color="#b7f093"/><stop offset="1" stop-color="#b7f093"/></linearGradient>
<linearGradient id="r54"><stop offset="0" stop-color="#b4f295"/><stop offset="0.03704" stop-color="#b4f295"/><stop offset="0.07407" stop-color="#b5f195"/><stop offset="0.1111" stop-color="#b6f194"/><stop offset="0.1481" stop-color="#b8f092"/><stop offset="0.1852" stop-color="#bbee91"/><stop offset="0.2222" stop-color="#beed8f"/><stop offset="0.2593" stop-color="#c1eb8d"/><stop offset="0.2963" stop-color="#c5e88a"/><stop offset="0.3333" stop-color="#c9e687"/><stop offset="0.3704" stop-color="#cde385"/><stop offset="0.4074" stop-color="#d1e082"/><stop offset="0.4444" stop-color="#d4dd80"/><stop offset="0.4815" stop-color="#d7db7e"/><stop offset="0.5185" stop-color="#d8da7d"/><stop offset="0.5556" stop-color="#d9d97d"/><stop offset="0.5926" stop-color="#d8da7d"/><stop offset="0.6296" stop-color="#d6db7e"/><stop offset="0.6667" stop-color="#d3de80"/><stop offset="0.7037" stop-color="#cfe183"/><stop offset="0.7407" stop-color="#cae587"/><stop offset="0.7778" stop-color="#c5e88a"/><stop offset="0.8148" stop-color="#c1ea8c"/><stop offset="0.8519" stop-color="#beec8f"/><stop offset="0.8889" stop-color="#bbee91"/><stop offset="0.9259" stop-color="#b8f092"/><stop offset="0.963" stop-color="#b7f093"/><stop offset="1" stop-color="#b7f093"/></linearGradient>
<linearGradient id="r55"><stop offset="0" stop-color="#bbee90"/><stop offset="0.03704" stop-color="#bbee90"/><stop offset="0.07407" stop-color="#bced90"/><stop offset="0.1111" stop-color="#beec8f"/><stop offset="0.1481" stop-color="#c0eb8d"/><stop offset="0.1852" stop-color="#c2ea8c"/><stop offset="0.2222" stop-color="#c5e88a"/><stop offset="0.2593" stop-color="#c8e688"/><stop offset="0.2963" stop-color="#cce385"/><stop offset="0.3333" stop-color="#d0e083"/><stop offset="0.3704" stop-color="#d4dd80"/><stop offset="0.4074" stop-color="#d7da7d"/><stop offset="0.4444" stop-color="#dad87c"/><stop offset="0.4815" stop-color="#dcd77a"/><stop offset="0.5185" stop-color="#ddd67a"/><stop offset="0.5556" stop-color="#ddd67a"/><stop offset="0.5926" stop-color="#dcd77a"/><stop offset="0.6296" stop-color="#d9d97c"/><stop offset="0.6667" stop-color="#d6dc7f"/><stop offset="0.7037" stop-color="#d0e082"/><stop offset="0.7407" stop-color="#cae587"/><stop offset="0.7778" stop-color="#c5e88a"/><stop offset="0.8148" stop-color="#c1eb8d"/><stop offset="0.8519" stop-color="#bded8f"/><stop offset="0.8889" stop-color="#bbee91"/><stop offset="0.9259" stop-color="#b8f092"/><stop offset="0.963" stop-color="#b7f093"/><stop offset="1" stop-color="#b7f093"/></linearGradient>
<linearGradient id="r56"><stop offset="0" stop-color="#c3e98b"/><stop offset="0.03704" stop-color="#c3e98b"/><stop offset="0.07407" stop-color="#c4e98b"/><stop offset="0.1111" stop-color="#c5e88a"/><stop offset="0.1481" stop-color="#c7e688"/><stop offset="0.1852" stop-color="#cae587"/><stop offset="0.2222" stop-color="#cde385"/><stop offset="0.2593" stop-color="#d0e083"/><stop offset="0.2963" stop-color="#d3de80"/><stop offset="0.3333" stop-color="#d7db7e"/><stop offset="0.3704" stop-color="#dbd87b"/><stop offset="0.4074" stop-color="#ded579"/><stop offset="0.4444" stop-color="#e0d378"/><stop offset="0.4815" stop-color="#e1d277"/><stop offset="0.5185" stop-color="#e2d276"/><stop offset="0.5556" stop-color="#e1d277"/><stop offset="0.5926" stop-color="#dfd478"/><stop offset="0.6296" stop-color="#dcd77a"/><stop offset="0.6667" stop-color="#d7da7d"/><stop offset="0.7037" stop-color="#d1df82"/><stop offset="0.7407" stop-color="#cae486"/><stop offset="0.7778" stop-color="#c4e88a"/><stop offset="0.8148" stop-color="#c0eb8d"/><stop offset="0.8519" stop-color="#bded8f"/><stop offset="0.8889" stop-color="#baee91"/><stop offset="0.9259" stop-color="#b8f092"/><stop offset="0.963" stop-color="#b7f093"/><stop offset="1" stop-color="#b8f093"/></linearGradient>
<linearGradient id="r57"><stop offset="0" stop-color="#cae486"/><stop offset="0.03704" stop-color="#cae486"/><stop offset="0.07407" stop-color="#cbe486"/><stop offset="0.1111" stop-color="#cde385"/><stop offset="0.1481" stop-color="#cfe183"/><stop offset="0.1852" stop-color="#d1e082"/><stop offset="0.2222" stop-color="#d4dd80"/><stop offset="0.2593" stop-color="#d7db7e"/><stop offset="0.2963" stop-color="#dbd87b"/><stop offset="0.3333" stop-color="#ded579"/><stop offset="0.3704" stop-color="#e1d277"/><stop offset="0.4074" stop-color="#e4d075"/><stop offset="0.4444" stop-color="#e5ce74"/><stop offset="0.4815" stop-color="#e6ce73"/><stop offset="0.5185" stop-color="#e6ce74"/><stop offset="0.5556" stop-color="#e5cf74"/><stop offset="0.5926" stop-color="#e2d176"/><stop offset="0.6296" stop-color="#ded579"/><stop offset="0.6667" stop-color="#d9d97c"/><stop offset="0.7037" stop-color="#d2df81"/><stop offset="0.7407" stop-color="#cae486"/><stop offset="0.7778" stop-color="#c4e98b"/><stop offset="0.8148" stop-color="#c0eb8d"/><stop offset="0.8519" stop-color="#bded8f"/><stop offset="0.8889" stop-color="#baef91"/><stop offset="0.9259" stop-color="#b8f092"/><stop offset="0.963" stop-color="#b7f093"/><stop offset="1" stop-color="#b8f093"/></linearGradient>
<linearGradient id="r58"><stop offset="0" stop-color="#d2df81"/><stop offset="0.03704" stop-color="#d2df81"/><stop offset="0.07407" stop-color="#d3de81"/><stop offset="0.1111" stop-color="#d4dd80"/><stop offset="0.1481" stop-color="#d6dc7f"/><stop offset="0.1852" stop-color="#d8da7d"/><stop offset="0.2222" stop-color="#dbd87b"/><stop offset="0.2593" stop-color="#ded579"/><stop offset="0.2963" stop-color="#e2d276"/><stop offset="0.3333" stop-color="#e5cf74"/><stop offset="0.3704" stop-color="#e8cc72"/><stop offset="0.4074" stop-color="#eaca71"/><stop offset="0.4444" stop-color="#eaca70"/><stop offset="0.4815" stop-color="#ebca70"/><stop offset="0.5185" stop-color="#eaca71"/><stop offset="0.5556" stop-color="#e8cc72"/><stop offset="0.5926" stop-color="#e5cf74"/><stop offset="0.6296" stop-color="#e1d377"/><stop offset="0.6667" stop-color="#dbd87b"/><stop offset="0.7037" stop-color="#d3de81"/><stop offset="0.7407" stop-color="#cae587"/><stop offset="0.7778" stop-color="#c3e98b"/><stop offset="0.8148" stop-color="#bfec8e"/><stop offset="0.8519" stop-color="#bced90"/><stop offset="0.8889" stop-color="#baef91"/><stop offset="0.9259" stop-color="#b8f092"/><stop offset="0.963" stop-color="#b8f093"/><stop offset="1" stop-color="#b8f092"/></linearGradient>
<linearGradient id="r59"><stop offset="0" stop-color="#d9d97c"/><stop offset="0.03704" stop-color="#d9d97c"/><stop offset="0.07407" stop-color="#dad97c"/><stop offset="0.1111" stop-color="#dbd87b"/><stop offset="0.1481" stop-color="#ddd67a"/><stop offset="0.1852" stop-color="#dfd478"/><stop offset="0.2222" stop-color="#e2d176"/><stop offset="0.2593" stop-color="#e5ce74"/><stop offset="0.2963" stop-color="#e9cb72"/><stop offset="0.3333" stop-color="#ecc96f"/><stop offset="0.3704" stop-color="#eec66e"/><stop offset="0.4074" stop-color="#efc56d"/><stop offset="0.4444" stop-color="#efc56d"/><stop offset="0.4815" stop-color="#efc66d"/><stop offset="0.5185" stop-color="#edc76e"/><stop offset="0.5556" stop-color="#ebc970"/><stop offset="0.5926" stop-color="#e7cd72"/><stop offset="0.6296" stop-color="#e3d176"/><stop offset="0.6667" stop-color="#ddd67a"/><stop offset="0.7037" stop-color="#d4dd80"/><stop offset="0.7407" stop-color="#cae587"/><stop offset="0.7778" stop-color="#c3ea8c"/><stop offset="0.8148" stop-color="#beec8e"/><stop offset="0.8519" stop-color="#bcee90"/><stop offset="0.8889" stop-color="#baef91"/><stop offset="0.9259" stop-color="#b8ef92"/><stop offset="0.963" stop-color="#b8f093"/><stop offset="1" stop-color="#b8f092"/></linearGradient>
<linearGradient id="r60"><stop offset="0" stop-color="#e1d377"/><stop offset="0.03704" stop-color="#e0d378"/><stop offset="0.07407" stop-color="#e0d377"/><stop offset="0.1111" stop-color="#e1d277"/><stop offset="0.1481" stop-color="#e3d075"/><stop offset="0.1852" stop-color="#e6ce73"/><stop offset="0.2222" stop-color="#e9cb71"/><stop offset="0.2593" stop-color="#ecc86f"/><stop offset="0.2963" stop-color="#f0c56d"/><stop offset="0.3333" stop-color="#f2c26b"/><stop offset="0.3704" stop-color="#f4c06a"/><stop offset="0.4074" stop-color="#f4c069"/><stop offset="0.4444" stop-color="#f4c16a"/><stop offset="0.4815" stop-color="#f2c26b"/><stop offset="0.5185" stop-color="#f0c46c"/><stop offset="0.5556" stop-color="#edc76e"/><stop offset="0.5926" stop-color="#eaca71"/><stop offset="0.6296" stop-color="#e5cf74"/><stop offset="0.6667" stop-color="#ded579"/><stop offset="0.7037" stop-color="#d4dd80"/><stop offset="0.7407" stop-color="#c9e587"/><stop offset="0.7778" stop-color="#c2ea8c"/><stop offset="0.8148" stop-color="#beec8e"/><stop offset="0.8519" stop-color="#bcee90"/><stop offset="0.8889" stop-color="#baef91"/><stop offset="0.9259" stop-color="#b9ef92"/><stop offset="0.963" stop-color="#b8f092"/><stop offset="1" stop-color="#b8f092"/></linearGradient>
<linearGradient id="r61"><stop offset="0" stop-color="#e8cc72"/><stop offset="0.03704" stop-color="#e7cd73"/><stop offset="0.07407" stop-color="#e7cd73"/><stop offset="0.1111" stop-color="#e8cc72"/><stop offset="0.1481" stop-color="#eaca71"/><stop offset="0.1852" stop-color="#edc86f"/><stop offset="0.2222" stop-color="#f0c46c"/><stop offset="0.2593" stop-color="#f3c16a"/><stop offset="0.2963" stop-color="#f6be68"/><stop offset="0.3333" stop-color="#f8bc66"/><stop offset="0.3704" stop-color="#f9bb66"/><stop offset="0.4074" stop-color="#f9bb66"/><stop offset="0.4444" stop-color="#f8bc67"/><stop offset="0.4815" stop-color="#f6be68"/><stop offset="0.5185" stop-color="#f3c16a"/><stop offset="0.5556" stop-color="#f0c46c"/><stop offset="0.5926" stop-color="#ecc86f"/><stop offset="0.6296" stop-color="#e6cd73"/><stop offset="0.6667" stop-color="#dfd478"/><stop offset="0.7037" stop-color="#d5dc7f"/><stop offset="0.7407" stop-color="#c9e687"/><stop offset="0.7778" stop-color="#c1ea8c"/><stop offset="0.8148" stop-color="#beed8f"/><stop offset="0.8519" stop-color="#bbee90"/><stop offset="0.8889" stop-color="#baef91"/><stop offset="0.9259" stop-color="#b9ef92"/><stop offset="0.963" stop-color="#b8f092"/><stop offset="1" stop-color="#b8f092"/></linearGradient>
<linearGradient id="r62"><stop offset="0" stop-color="#eec66d"/><stop offset="0.03704" stop-color="#edc76e"/><stop offset="0.07407" stop-color="#edc76e"/><stop offset="0.1111" stop-color="#eec66e"/><stop offset="0.1481" stop-color="#f0c46c"/><stop offset="0.1852" stop-color="#f3c16a"/><stop offset="0.2222" stop-color="#f7bd68"/><stop offset="0.2593" stop-color="#faba65"/><stop offset="0.2963" stop-color="#fdb763"/><stop offset="0.3333" stop-color="#feb562"/><stop offset="0.3704" stop-color="#ffb562"/><stop offset="0.4074" stop-color="#feb663"/><stop offset="0.4444" stop-color="#fcb864"/><stop offset="0.4815" stop-color="#f9bb66"/><stop offset="0.5185" stop-color="#f6be68"/><stop offset="0.5556" stop-color="#f2c26b"/><stop offset="0.5926" stop-color="#edc76e"/><stop offset="0.6296" stop-color="#e8cc72"/><stop offset="0.6667" stop-color="#e1d377"/><stop offset="0.7037" stop-color="#d5dc7f"/><stop offset="0.7407" stop-color="#c8e688"/><stop offset="0.7778" stop-color="#c1eb8d"/><stop offset="0.8148" stop-color="#bded8f"/><stop offset="0.8519" stop-color="#bbee90"/><stop offset="0.8889" stop-color="#baef91"/><stop offset="0.9259" stop-color="#b9ef92"/><stop offset="0.963" stop-color="#b8f092"/><stop offset="1" stop-color="#b9ef92"/></linearGradient>
<linearGradient id="r63"><stop offset="0" stop-color="#f5bf69"/><stop offset="0.03704" stop-color="#f4c06a"/><stop offset="0.07407" stop-color="#f3c16a"/><stop offset="0.1111" stop-color="#f5c069"/><stop offset="0.1481" stop-color="#f7bd67"/><stop offset="0.1852" stop-color="#faba65"/><stop offset="0.2222" stop-color="#fdb663"/><stop offset="0.2593" stop-color="#ffb260"/><stop offset="0.2963" stop-color="#ffb05f"/><stop offset="0.3333" stop-color="#ffaf5e"/><stop offset="0.3704" stop-color="#ffaf5e"/><stop offset="0.4074" stop-color="#ffb160"/><stop offset="0.4444" stop-color="#ffb461"/><stop offset="0.4815" stop-color="#fcb864"/><stop offset="0.5185" stop-color="#f8bc66"/><stop offset="0.5556" stop-color="#f4c069"/><stop offset="0.5926" stop-color="#efc56d"/><stop offset="0.6296" stop-color="#e9cb71"/><stop offset="0.6667" stop-color="#e1d277"/><stop offset="0.7037" stop-color="#d6dc7f"/><stop offset="0.7407" stop-color="#c8e688"/><stop offset="0.7778" stop-color="#c0eb8d"/><stop offset="0.8148" stop-color="#bded8f"/><stop offset="0.8519" stop-color="#bbee90"/><stop offset="0.8889" stop-color="#baef91"/><stop offset="0.9259" stop-color="#b9ef92"/><stop offset="0.963" stop-color="#b8f092"/><stop offset="1" stop-color="#b9ef92"/></linearGradient>
<linearGradient id="r64"><stop offset="0" stop-color="#fcb864"/><stop offset="0.03704" stop-color="#faba65"/><stop offset="0.07407" stop-color="#faba65"/><stop offset="0.1111" stop-color="#fbb965"/><stop offset="0.1481" stop-color="#fdb663"/><stop offset="0.1852" stop-color="#ffb360"/><stop offset="0.2222" stop-color="#ffaf5e"/><stop offset="0.2593" stop-color="#ffab5c"/><stop offset="0.2963" stop-color="#ffa95a"/><stop offset="0.3333" stop-color="#ffa85a"/><stop offset="0.3704" stop-color="#ffaa5b"/><stop offset="0.4074" stop-color="#ffac5d"/><stop offset="0.4444" stop-color="#ffb05f"/><stop offset="0.4815" stop-color="#ffb562"/><stop offset="0.5185" stop-color="#fab965"/><stop offset="0.5556" stop-color="#f6be68"/><stop offset="0.5926" stop-color="#f0c46c"/><stop offset="0.6296" stop-color="#eaca71"/><stop offset="0.6667" stop-color="#e2d276"/><stop offset="0.7037" stop-color="#d6dc7e"/><stop offset="0.7407" stop-color="#c8e688"/><stop offset="0.7778" stop-color="#c0eb8d"/><stop offset="0.8148" stop-color="#bded8f"/><stop offset="0.8519" stop-color="#bbee90"/><stop offset="0.8889" stop-color="#baef91"/><stop offset="0.9259" stop-color="#b9ef92"/><stop offset="0.963" stop-color="#b9ef92"/><stop offset="1" stop-color="#b9ef92"/></linearGradient>
<linearGradient id="r65"><stop offset="0" stop-color="#ffb05f"/><stop offset="0.03704" stop-color="#ffb360"/><stop offset="0.07407" stop-color="#ffb361"/><stop offset="0.1111" stop-color="#ffb260"/><stop offset="0.1481" stop-color="#ffaf5e"/><stop offset="0.1852" stop-color="#ffab5b"/><stop offset="0.2222" stop-color="#ffa759"/><stop offset="0.2593" stop-color="#ffa457"/><stop offset="0.2963" stop-color="#ffa256"/><stop offset="0.3333" stop-color="#ffa256"/><stop offset="0.3704" stop-color="#ffa457"/><stop offset="0.4074" stop-color="#ffa85a"/><stop offset="0.4444" stop-color="#ffad5d"/><stop offset="0.4815" stop-color="#ffb260"/><stop offset="0.5185" stop-color="#fdb763"/><stop offset="0.5556" stop-color="#f7bd67"/><stop offset="0.5926" stop-color="#f1c36b"/><stop offset="0.6296" stop-color="#ebca70"/><stop offset="0.6667" stop-color="#e2d176"/><stop offset="0.7037" stop-color="#d6dc7e"/><stop offset="0.7407" stop-color="#c8e688"/><stop offset="0.7778" stop-color="#c0eb8d"/><stop offset="0.8148" stop-color="#bded8f"/><stop offset="0.8519" stop-color="#bcee90"/><stop offset="0.8889" stop-color="#baee91"/><stop offset="0.9259" stop-color="#b9ef92"/><stop offset="0.963" stop-color="#b9ef92"/><stop offset="1" stop-color="#b9ef92"/></linearGradient>
<linearGradient id="r66"><stop offset="0" stop-color="#ffa85a"/><stop offset="0.03704" stop-color="#ffab5c"/><stop offset="0.07407" stop-color="#ffab5c"/><stop offset="0.1111" stop-color="#ffaa5b"/><stop offset="0.1481" stop-color="#ffa659"/><stop offset="0.1852" stop-color="#ffa356"/><stop offset="0.2222" stop-color="#ff9f54"/><stop offset="0.2593" stop-color="#ff9c53"/><stop offset="0.2963" stop-color="#ff9b52"/><stop offset="0.3333" stop-color="#ff9c53"/><stop offset="0.3704" stop-color="#ff9f54"/><stop offset="0.4074" stop-color="#ffa357"/><stop offset="0.4444" stop-color="#ffa95a"/><stop offset="0.4815" stop-color="#ffaf5e"/><stop offset="0.5185" stop-color="#feb562"/><stop offset="0.5556" stop-color="#f9bb66"/><stop offset="0.5926" stop-color="#f2c26b"/><stop offset="0.6296" stop-color="#ebc970"/><stop offset="0.6667" stop-color="#e2d176"/><stop offset="0.7037" stop-color="#d6dc7e"/><stop offset="0.7407" stop-color="#c8e688"/><stop offset="0.7778" stop-color="#c1eb8d"/><stop offset="0.8148" stop-color="#bded8f"/><stop offset="0.8519" stop-color="#bcee90"/><stop offset="0.8889" stop-color="#baee91"/><stop offset="0.9259" stop-color="#b9ef92"/><stop offset="0.963" stop-color="#b9ef92"/><stop offset="1" stop-color="#b9ef92"/></linearGradient>
<linearGradient id="r67"><stop offset="0" stop-color="#ffa055"/><stop offset="0.03704" stop-color="#ffa356"/><stop offset="0.07407" stop-color="#ffa357"/><stop offset="0.1111" stop-color="#ffa156"/><stop offset="0.1481" stop-color="#ff9e54"/><stop offset="0.1852" stop-color="#ff9a51"/><stop offset="0.2222" stop-color="#ff974f"/><stop offset="0.2593" stop-color="#ff954e"/><stop offset="0.2963" stop-color="#ff954e"/><stop offset="0.3333" stop-color="#ff964f"/><stop offset="0.3704" stop-color="#ff9a51"/><stop offset="0.4074" stop-color="#ff9f54"/><stop offset="0.4444" stop-color="#ffa658"/><stop offset="0.4815" stop-color="#ffac5c"/><stop offset="0.5185" stop-color="#ffb361"/><stop offset="0.5556" stop-color="#faba65"/><stop offset="0.5926" stop-color="#f3c16a"/><stop offset="0.6296" stop-color="#ebc970"/><stop offset="0.6667" stop-color="#e2d176"/><stop offset="0.7037" stop-color="#d6dc7e"/><stop offset="0.7407" stop-color="#c9e587"/><stop offset="0.7778" stop-color="#c1ea8c"/><stop offset="0.8148" stop-color="#beed8f"/><stop offset="0.8519" stop-color="#bced90"/><stop offset="0.8889" stop-color="#bbee91"/><stop offset="0.9259" stop-color="#b9ef91"/><stop offset="0.963" stop-color="#b9ef92"/><stop offset="1" stop-color="#b9ef92"/></linearGradient>
<linearGradient id="r68"><stop offset="0" stop-color="#ff9850"/><stop offset="0.03704" stop-color="#ff9a51"/><stop offset="0.07407" stop-color="#ff9a51"/><stop offset="0.1111" stop-color="#ff9850"/><stop offset="0.1481" stop-color="#ff954e"/><stop offset="0.1852" stop-color="#ff924c"/><stop offset="0.2222" stop-color="#ff8f4b"/><stop offset="0.2593" stop-color="#ff8e4a"/><stop offset="0.2963" stop-color="#ff8e4a"/><stop offset="0.3333" stop-color="#ff914c"/><stop offset="0.3704" stop-color="#ff954e"/><stop offset="0.4074" stop-color="#ff9b52"/><stop offset="0.4444" stop-color="#ffa256"/><stop offset="0.4815" stop-color="#ffaa5b"/><stop offset="0.5185" stop-color="#ffb160"/><stop offset="0.5556" stop-color="#fbb965"/><stop offset="0.5926" stop-color="#f3c16a"/><stop offset="0.6296" stop-color="#ebc970"/><stop offset="0.6667" stop-color="#e2d276"/><stop offset="0.7037" stop-color="#d6dc7f"/><stop offset="0.7407" stop-color="#cae587"/><stop offset="0.7778" stop-color="#c2ea8c"/><stop offset="0.8148" stop-color="#beec8e"/><stop offset="0.8519" stop-color="#bced90"/><stop offset="0.8889" stop-color="#bbee91"/><stop offset="0.9259" stop-color="#baef91"/><stop offset="0.963" stop-color="#b9ef92"/><stop offset="1" stop-color="#b9ef92"/></linearGradient>
<linearGradient id="r69"><stop offset="0" stop-color="#ff904b"/><stop offset="0.03704" stop-color="#ff914c"/><stop offset="0.07407" stop-color="#ff914c"/><stop offset="0.1111" stop-color="#ff8f4b"/><stop offset="0.1481" stop-color="#ff8c49"/><stop offset="0.1852" stop-color="#ff8947"/><stop offset="0.2222" stop-color="#ff8746"/><stop offset="0.2593" stop-color="#ff8746"/><stop offset="0.2963" stop-color="#ff8847"/><stop offset="0.3333" stop-color="#ff8b49"/><stop offset="0.3704" stop-color="#ff914c"/><stop offset="0.4074" stop-color="#ff9750"/><stop offset="0.4444" stop-color="#ff9f54"/><stop offset="0.4815" stop-color="#ffa759"/><stop offset="0.5185" stop-color="#ffb05f"/><stop offset="0.5556" stop-color="#fcb864"/><stop offset="0.5926" stop-color="#f4c06a"/><stop offset="0.6296" stop-color="#ebc970"/><stop offset="0.6667" stop-color="#e1d277"/><stop offset="0.7037" stop-color="#d6dc7f"/><stop offset="0.7407" stop-color="#cae587"/><stop offset="0.7778" stop-color="#c2ea8c"/><stop offset="0.8148" stop-color="#beec8e"/><stop offset="0.8519" stop-color="#bded8f"/><stop offset="0.8889" stop-color="#bbee90"/><stop offset="0.9259" stop-color="#baef91"/><stop offset="0.963" stop-color="#b9ef92"/><stop offset="1" stop-color="#b9ef92"/></linearGradient>
<linearGradient id="r70"><stop offset="0" stop-color="#ff8746"/><stop offset="0.03704" stop-color="#ff8947"/><stop offset="0.07407" stop-color="#ff8847"/><stop offset="0.1111" stop-color="#ff8646"/><stop offset="0.1481" stop-color="#ff8344"/><stop offset="0.1852" stop-color="#ff8143"/><stop offset="0.2222" stop-color="#ff7f42"/><stop offset="0.2593" stop-color="#ff8042"/><stop offset="0.2963" stop-color="#ff8243"/><stop offset="0.3333" stop-color="#ff8646"/><stop offset="0.3704" stop-color="#ff8c49"/><stop offset="0.4074" stop-color="#ff934d"/><stop offset="0.4444" stop-color="#ff9c52"/><stop offset="0.4815" stop-color="#ffa558"/><stop offset="0.5185" stop-color="#ffae5e"/><stop offset="0.5556" stop-color="#fcb763"/><stop offset="0.5926" stop-color="#f4c06a"/><stop offset="0.6296" stop-color="#ebc970"/><stop offset="0.6667" stop-color="#e1d377"/><stop offset="0.7037" stop-color="#d5dc7f"/><stop offset="0.7407" stop-color="#cae486"/><stop offset="0.7778" stop-color="#c3ea8b"/><stop offset="0.8148" stop-color="#bfec8e"/><stop offset="0.8519" stop-color="#bded8f"/><stop offset="0.8889" stop-color="#bbee90"/><stop offset="0.9259" stop-color="#baef91"/><stop offset="0.963" stop-color="#b9ef92"/><stop offset="1" stop-color="#b9ef92"/></linearGradient>
<linearGradient id="r71"><stop offset="0" stop-color="#ff7f42"/><stop offset="0.03704" stop-color="#ff8042"/><stop offset="0.07407" stop-color="#ff7f42"/><stop offset="0.1111" stop-color="#ff7d41"/><stop offset="0.1481" stop-color="#ff7a3f"/><stop offset="0.1852" stop-color="#ff793e"/><stop offset="0.2222" stop-color="#ff783e"/><stop offset="0.2593" stop-color="#ff793f"/><stop offset="0.2963" stop-color="#ff7c40"/><stop offset="0.3333" stop-color="#ff8143"/><stop offset="0.3704" stop-color="#ff8847"/><stop offset="0.4074" stop-color="#ff904b"/><stop offset="0.4444" stop-color="#ff9951"/><stop offset="0.4815" stop-color="#ffa357"/><stop offset="0.5185" stop-color="#ffad5d"/><stop offset="0.5556" stop-color="#fdb663"/><stop offset="0.5926" stop-color="#f4c069"/><stop offset="0.6296" stop-color="#eaca70"/><stop offset="0.6667" stop-color="#e0d378"/><stop offset="0.7037" stop-color="#d5dd7f"/><stop offset="0.7407" stop-color="#cae486"/><stop offset="0.7778" stop-color="#c3e98b"/><stop offset="0.8148" stop-color="#bfec8e"/><stop offset="0.8519" stop-color="#bded8f"/><stop offset="0.8889" stop-color="#bbee90"/><stop offset="0.9259" stop-color="#baef91"/><stop offset="0.963" stop-color="#b9ef92"/><stop offset="1" stop-color="#b9ef92"/></linearGradient>
<linearGradient id="r72"><stop offset="0" stop-color="#ff773d"/><stop offset="0.03704" stop-color="#ff773d"/><stop offset="0.07407" stop-color="#ff773d"/><stop offset="0.1111" stop-color="#ff743c"/><stop offset="0.1481" stop-color="#ff723b"/><stop offset="0.1852" stop-color="#ff713a"/><stop offset="0.2222" stop-color="#ff713a"/><stop offset="0.2593" stop-color="#ff733b"/><stop offset="0.2963" stop-color="#ff773d"/><stop offset="0.3333" stop-color="#ff7c40"/><stop offset="0.3704" stop-color="#ff8444"/><stop offset="0.4074" stop-color="#ff8c49"/><stop offset="0.4444" stop-color="#ff964f"/><stop offset="0.4815" stop-color="#ffa155"/><stop offset="0.5185" stop-color="#ffab5c"/><stop offset="0.5556" stop-color="#feb663"/><stop offset="0.5926" stop-color="#f4c069"/><stop offset="0.6296" stop-color="#eaca71"/><stop offset="0.6667" stop-color="#dfd478"/><stop offset="0.7037" stop-color="#d4dd80"/><stop offset="0.7407" stop-color="#cae486"/><stop offset="0.7778" stop-color="#c3e98b"/><stop offset="0.8148" stop-color="#bfec8e"/><stop offset="0.8519" stop-color="#bded8f"/><stop offset="0.8889" stop-color="#bbee90"/><stop offset="0.9259" stop-color="#baef91"/><stop offset="0.963" stop-color="#b9ef92"/><stop offset="1" stop-color="#b9ef92"/></linearGradient>
<linearGradient id="r73"><stop offset="0" stop-color="#ff6f39"/><stop offset="0.03704" stop-color="#ff6f39"/><stop offset="0.07407" stop-color="#ff6e39"/><stop offset="0.1111" stop-color="#ff6c38"/><stop offset="0.1481" stop-color="#ff6b37"/><stop offset="0.1852" stop-color="#ff6a36"/><stop offset="0.2222" stop-color="#ff6b37"/><stop offset="0.2593" stop-color="#ff6d38"/><stop offset="0.2963" stop-color="#ff723a"/><stop offset="0.3333" stop-color="#ff783e"/><stop offset="0.3704" stop-color="#ff8042"/><stop offset="0.4074" stop-color="#ff8947"/><stop offset="0.4444" stop-color="#ff944e"/><stop offset="0.4815" stop-color="#ff9f54"/><stop offset="0.5185" stop-color="#ffaa5b"/><stop offset="0.5556" stop-color="#feb562"/><stop offset="0.5926" stop-color="#f4c06a"/><stop offset="0.6296" stop-color="#e9cb71"/><stop offset="0.6667" stop-color="#dfd479"/><stop offset="0.7037" stop-color="#d4dd80"/><stop offset="0.7407" stop-color="#cae486"/><stop offset="0.7778" stop-color="#c3e98b"/><stop offset="0.8148" stop-color="#bfec8e"/><stop offset="0.8519" stop-color="#bded8f"/><stop offset="0.8889" stop-color="#bbee90"/><stop offset="0.9259" stop-color="#baef91"/><stop offset="0.963" stop-color="#b9ef92"/><stop offset="1" stop-color="#b9ef92"/></linearGradient>
<linearGradient id="r74"><stop offset="0" stop-color="#ff6835"/><stop offset="0.03704" stop-color="#ff6735"/><stop offset="0.07407" stop-color="#ff6634"/><stop offset="0.1111" stop-color="#ff6534"/><stop offset="0.1481" stop-color="#ff6433"/><stop offset="0.1852" stop-color="#ff6333"/><stop offset="0.2222" stop-color="#ff6533"/><stop offset="0.2593" stop-color="#ff6835"/><stop offset="0.2963" stop-color="#ff6d38"/><stop offset="0.3333" stop-color="#ff733b"/><stop offset="0.3704" stop-color="#ff7c40"/><stop offset="0.4074" stop-color="#ff8646"/><stop offset="0.4444" stop-color="#ff914c"/><stop offset="0.4815" stop-color="#ff9d53"/><stop offset="0.5185" stop-color="#ffa95a"/><stop offset="0.5556" stop-color="#feb562"/><stop offset="0.5926" stop-color="#f4c06a"/><stop offset="0.6296" stop-color="#e9cb71"/><stop offset="0.6667" stop-color="#ded579"/><stop offset="0.7037" stop-color="#d3de80"/><stop offset="0.7407" stop-color="#cae486"/><stop offset="0.7778" stop-color="#c4e98b"/><stop offset="0.8148" stop-color="#bfec8e"/><stop offset="0.8519" stop-color="#bded8f"/><stop offset="0.8889" stop-color="#bbee90"/><stop offset="0.9259" stop-color="#baef91"/><stop offset="0.963" stop-color="#b9ef92"/><stop offset="1" stop-color="#b9ef92"/></linearGradient>
<linearGradient id="r75"><stop offset="0" stop-color="#ff6031"/><stop offset="0.03704" stop-color="#ff6031"/><stop offset="0.07407" stop-color="#ff5f30"/><stop offset="0.1111" stop-color="#ff5e30"/><stop offset="0.1481" stop-color="#ff5d2f"/><stop offset="0.1852" stop-color="#ff5d2f"/><stop offset="0.2222" stop-color="#ff5f30"/><stop offset="0.2593" stop-color="#ff6232"/><stop offset="0.2963" stop-color="#ff6835"/><stop offset="0.3333" stop-color="#ff6f39"/><stop offset="0.3704" stop-color="#ff783e"/><stop offset="0.4074" stop-color="#ff8344"/><stop offset="0.4444" stop-color="#ff8f4b"/><stop offset="0.4815" stop-color="#ff9c52"/><stop offset="0.5185" stop-color="#ffa85a"/><stop offset="0.5556" stop-color="#ffb562"/><stop offset="0.5926" stop-color="#f3c16a"/><stop offset="0.6296" stop-color="#e8cc72"/><stop offset="0.6667" stop-color="#ddd67a"/><stop offset="0.7037" stop-color="#d3de81"/><stop offset="0.7407" stop-color="#cae587"/><stop offset="0.7778" stop-color="#c4e98b"/><stop offset="0.8148" stop-color="#bfec8e"/><stop offset="0.8519" stop-color="#bded8f"/><stop offset="0.8889" stop-color="#bbee90"/><stop offset="0.9259" stop-color="#baef91"/><stop offset="0.963" stop-color="#b9ef92"/><stop offset="1" stop-color="#b9ef92"/></linearGradient>
<linearGradient id="r76"><stop offset="0" stop-color="#ff592d"/><stop offset="0.03704" stop-color="#ff592d"/><stop offset="0.07407" stop-color="#ff582d"/><stop offset="0.1111" stop-color="#ff572c"/><stop offset="0.1481" stop-color="#ff572c"/><stop offset="0.1852" stop-color="#ff582c"/><stop offset="0.2222" stop-color="#ff5a2e"/><stop offset="0.2593" stop-color="#ff5d30"/><stop offset="0.2963" stop-color="#ff6333"/><stop offset="0.3333" stop-color="#ff6b37"/><stop offset="0.3704" stop-color="#ff753c"/><stop offset="0.4074" stop-color="#ff8042"/><stop offset="0.4444" stop-color="#ff8d49"/><stop offset="0.4815" stop-color="#ff9a51"/><stop offset="0.5185" stop-color="#ffa759"/><stop offset="0.5556" stop-color="#ffb562"/><stop offset="0.5926" stop-color="#f3c16a"/><stop offset="0.6296" stop-color="#e7cd72"/><stop offset="0.6667" stop-color="#dcd67a"/><stop offset="0.7037" stop-color="#d2df81"/><stop offset="0.7407" stop-color="#cae587"/><stop offset="0.7778" stop-color="#c3e98b"/><stop offset="0.8148" stop-color="#bfec8e"/><stop offset="0.8519" stop-color="#bded8f"/><stop offset="0.8889" stop-color="#bbee91"/><stop offset="0.9259" stop-color="#baef91"/><stop offset="0.963" stop-color="#b9ef92"/><stop offset="1" stop-color="#b9ef92"/></linearGradient>
<linearGradient id="r77"><stop offset="0" stop-color="#ff532a"/><stop offset="0.03704" stop-color="#ff522a"/><stop offset="0.07407" stop-color="#ff5129"/><stop offset="0.1111" stop-color="#ff5129"/><stop offset="0.1481" stop-color="#ff5129"/><stop offset="0.1852" stop-color="#ff522a"/><stop offset="0.2222" stop-color="#ff552b"/><stop offset="0.2593" stop-color="#ff592d"/><stop offset="0.2963" stop-color="#ff5f30"/><stop offset="0.3333" stop-color="#ff6835"/><stop offset="0.3704" stop-color="#ff723a"/><stop offset="0.4074" stop-color="#ff7d41"/><stop offset="0.4444" stop-color="#ff8b48"/><stop offset="0.4815" stop-color="#ff9951"/><stop offset="0.5185" stop-color="#ffa759"/><stop offset="0.5556" stop-color="#ffb562"/><stop offset="0.5926" stop-color="#f3c26a"/><stop offset="0.6296" stop-color="#e7cd73"/><stop offset="0.6667" stop-color="#dcd77b"/><stop offset="0.7037" stop-color="#d2df81"/><stop offset="0.7407" stop-color="#c9e587"/><stop offset="0.7778" stop-color="#c3e98b"/><stop offset="0.8148" stop-color="#bfec8e"/><stop offset="0.8519" stop-color="#bded8f"/><stop offset="0.8889" stop-color="#bbee91"/><stop offset="0.9259" stop-color="#baef91"/><stop offset="0.963" stop-color="#b9ef92"/><stop offset="1" stop-color="#b9ef92"/></linearGradient>
<linearGradient id="r78"><stop offset="0" stop-color="#ff4c27"/><stop offset="0.03704" stop-color="#ff4b26"/><stop offset="0.07407" stop-color="#ff4b26"/><stop offset="0.1111" stop-color="#ff4b26"/><stop offset="0.1481" stop-color="#ff4c26"/><stop offset="0.1852" stop-color="#ff4d27"/><stop offset="0.2222" stop-color="#ff5028"/><stop offset="0.2593" stop-color="#ff552b"/><stop offset="0.2963" stop-color="#ff5b2e"/><stop offset="0.3333" stop-color="#ff6433"/><stop offset="0.3704" stop-color="#ff6f39"/><stop offset="0.4074" stop-color="#ff7b40"/><stop offset="0.4444" stop-color="#ff8947"/><stop offset="0.4815" stop-color="#ff9850"/><stop offset="0.5185" stop-color="#ffa659"/><stop offset="0.5556" stop-color="#ffb562"/><stop offset="0.5926" stop-color="#f2c26b"/><stop offset="0.6296" stop-color="#e6ce73"/><stop offset="0.6667" stop-color="#dbd87b"/><stop offset="0.7037" stop-color="#d1df82"/><stop offset="0.7407" stop-color="#c9e587"/><stop offset="0.7778" stop-color="#c3e98b"/><stop offset="0.8148" stop-color="#bfec8e"/><stop offset="0.8519" stop-color="#bded8f"/><stop offset="0.8889" stop-color="#bbee91"/><stop offset="0.9259" stop-color="#baef91"/><stop offset="0.963" stop-color="#b9ef92"/><stop offset="1" stop-color="#b9ef92"/></linearGradient>
<linearGradient id="r79"><stop offset="0" stop-color="#ff4623"/><stop offset="0.03704" stop-color="#ff4523"/><stop offset="0.07407" stop-color="#ff4523"/><stop offset="0.1111" stop-color="#ff4523"/><stop offset="0.1481" stop-color="#ff4623"/><stop offset="0.1852" stop-color="#ff4825"/><stop offset="0.2222" stop-color="#ff4c26"/><stop offset="0.2593" stop-color="#ff5129"/><stop offset="0.2963" stop-color="#ff572c"/><stop offset="0.3333" stop-color="#ff6131"/><stop offset="0.3704" stop-color="#ff6c37"/><stop offset="0.4074" stop-color="#ff793e"/><stop offset="0.4444" stop-color="#ff8746"/><stop offset="0.4815" stop-color="#ff974f"/><stop offset="0.5185" stop-color="#ffa659"/><stop offset="0.5556" stop-color="#ffb562"/><stop offset="0.5926" stop-color="#f2c36b"/><stop offset="0.6296" stop-color="#e5cf74"/><stop offset="0.6667" stop-color="#dad87c"/><stop offset="0.7037" stop-color="#d0e082"/><stop offset="0.7407" stop-color="#c9e587"/><stop offset="0.7778" stop-color="#c3e98b"/><stop offset="0.8148" stop-color="#bfec8e"/><stop offset="0.8519" stop-color="#bced8f"/><stop offset="0.8889" stop-color="#bbee91"/><stop offset="0.9259" stop-color="#b9ef91"/><stop offset="0.963" stop-color="#b9ef92"/><stop offset="1" stop-color="#b9ef92"/></linearGradient>
<linearGradient id="r80"><stop offset="0" stop-color="#ff4020"/><stop offset="0.03704" stop-color="#ff3f20"/><stop offset="0.07407" stop-color="#ff3f20"/><stop offset="0.1111" stop-color="#ff4020"/><stop offset="0.1481" stop-color="#ff4121"/><stop offset="0.1852" stop-color="#ff4422"/><stop offset="0.2222" stop-color="#ff4724"/><stop offset="0.2593" stop-color="#ff4d27"/><stop offset="0.2963" stop-color="#ff542b"/><stop offset="0.3333" stop-color="#ff5e30"/><stop offset="0.3704" stop-color="#ff6936"/><stop offset="0.4074" stop-color="#ff773d"/><stop offset="0.4444" stop-color="#ff8646"/><stop offset="0.4815" stop-color="#ff964f"/><stop offset="0.5185" stop-color="#ffa658"/><stop offset="0.5556" stop-color="#feb562"/><stop offset="0.5926" stop-color="#f1c36c"/><stop offset="0.6296" stop-color="#e4cf75"/><stop offset="0.6667" stop-color="#d9d97c"/><stop offset="0.7037" stop-color="#d0e083"/><stop offset="0.7407" stop-color="#c8e688"/><stop offset="0.7778" stop-color="#c3e98b"/><stop offset="0.8148" stop-color="#bfec8e"/><stop offset="0.8519" stop-color="#bced90"/><stop offset="0.8889" stop-color="#bbee91"/><stop offset="0.9259" stop-color="#b9ef91"/><stop offset="0.963" stop-color="#b9ef92"/><stop offset="1" stop-color="#b9ef92"/></linearGradient>
<linearGradient id="r81"><stop offset="0" stop-color="#ff3a1d"/><stop offset="0.03704" stop-color="#ff3a1d"/><stop offset="0.07407" stop-color="#ff391d"/><stop offset="0.1111" stop-color="#ff3a1d"/><stop offset="0.1481" stop-color="#ff3c1e"/><stop offset="0.1852" stop-color="#ff4020"/><stop offset="0.2222" stop-color="#ff4422"/><stop offset="0.2593" stop-color="#ff4925"/><stop offset="0.2963" stop-color="#ff5129"/><stop offset="0.3333" stop-color="#ff5b2e"/><stop offset="0.3704" stop-color="#ff6735"/><stop offset="0.4074" stop-color="#ff753c"/><stop offset="0.4444" stop-color="#ff8545"/><stop offset="0.4815" stop-color="#ff954e"/><stop offset="0.5185" stop-color="#ffa658"/><stop offset="0.5556" stop-color="#feb562"/><stop offset="0.5926" stop-color="#f0c46c"/><stop offset="0.6296" stop-color="#e4d075"/><stop offset="0.6667" stop-color="#d8da7d"/><stop offset="0.7037" stop-color="#cfe183"/><stop offset="0.7407" stop-color="#c8e688"/><stop offset="0.7778" stop-color="#c3ea8c"/><stop offset="0.8148" stop-color="#bfec8e"/><stop offset="0.8519" stop-color="#bced90"/><stop offset="0.8889" stop-color="#bbee91"/><stop offset="0.9259" stop-color="#b9ef92"/><stop offset="0.963" stop-color="#b9ef92"/><stop offset="1" stop-color="#b8ef92"/></linearGradient>
<linearGradient id="r82"><stop offset="0" stop-color="#ff351b"/><stop offset="0.03704" stop-color="#ff341a"/><stop offset="0.07407" stop-color="#ff341a"/><stop offset="0.1111" stop-color="#ff351b"/><stop offset="0.1481" stop-color="#ff381c"/><stop offset="0.1852" stop-color="#ff3c1e"/><stop offset="0.2222" stop-color="#ff4020"/><stop offset="0.2593" stop-color="#ff4623"/><stop offset="0.2963" stop-color="#ff4e27"/><stop offset="0.3333" stop-color="#ff582d"/><stop offset="0.3704" stop-color="#ff6533"/><stop offset="0.4074" stop-color="#ff733b"/><stop offset="0.4444" stop-color="#ff8344"/><stop offset="0.4815" stop-color="#ff954e"/><stop offset="0.5185" stop-color="#ffa658"/><stop offset="0.5556" stop-color="#feb663"/><stop offset="0.5926" stop-color="#f0c46d"/><stop offset="0.6296" stop-color="#e3d176"/><stop offset="0.6667" stop-color="#d8da7d"/><stop offset="0.7037" stop-color="#cfe183"/><stop offset="0.7407" stop-color="#c8e688"/><stop offset="0.7778" stop-color="#c2ea8c"/><stop offset="0.8148" stop-color="#bfec8e"/><stop offset="0.8519" stop-color="#bced90"/><stop offset="0.8889" stop-color="#bbee91"/><stop offset="0.9259" stop-color="#b9ef92"/><stop offset="0.963" stop-color="#b9ef92"/><stop offset="1" stop-color="#b8f092"/></linearGradient>
<linearGradient id="r83"><stop offset="0" stop-color="#ff3018"/><stop offset="0.03704" stop-color="#ff2f17"/><stop offset="0.07407" stop-color="#ff2f18"/><stop offset="0.1111" stop-color="#ff3018"/><stop offset="0.1481" stop-color="#ff331a"/><stop offset="0.1852" stop-color="#ff381c"/><stop offset="0.2222" stop-color="#ff3d1f"/><stop offset="0.2593" stop-color="#ff4322"/><stop offset="0.2963" stop-color="#ff4b26"/><stop offset="0.3333" stop-color="#ff562b"/><stop offset="0.3704" stop-color="#ff6332"/><stop offset="0.4074" stop-color="#ff723a"/><stop offset="0.4444" stop-color="#ff8244"/><stop offset="0.4815" stop-color="#ff944e"/><stop offset="0.5185" stop-color="#ffa659"/><stop offset="0.5556" stop-color="#fdb663"/><stop offset="0.5926" stop-color="#efc56d"/><stop offset="0.6296" stop-color="#e2d176"/><stop offset="0.6667" stop-color="#d7db7e"/><stop offset="0.7037" stop-color="#cee284"/><stop offset="0.7407" stop-color="#c7e788"/><stop offset="0.7778" stop-color="#c2ea8c"/><stop offset="0.8148" stop-color="#bfec8e"/><stop offset="0.8519" stop-color="#bced90"/><stop offset="0.8889" stop-color="#bbee91"/><stop offset="0.9259" stop-color="#b9ef92"/><stop offset="0.963" stop-color="#b8ef92"/><stop offset="1" stop-color="#b8f092"/></linearGradient>
<linearGradient id="r84"><stop offset="0" stop-color="#ff2b16"/><stop offset="0.03704" stop-color="#ff2a15"/><stop offset="0.07407" stop-color="#ff2a15"/><stop offset="0.1111" stop-color="#ff2b16"/><stop offset="0.1481" stop-color="#ff2f18"/><stop offset="0.1852" stop-color="#ff341a"/><stop offset="0.2222" stop-color="#ff3a1d"/><stop offset="0.2593" stop-color="#ff4020"/><stop offset="0.2963" stop-color="#ff4925"/><stop offset="0.3333" stop-color="#ff532a"/><stop offset="0.3704" stop-color="#ff6131"/><stop offset="0.4074" stop-color="#ff703a"/><stop offset="0.4444" stop-color="#ff8243"/><stop offset="0.4815" stop-color="#ff944e"/><stop offset="0.5185" stop-color="#ffa659"/><stop offset="0.5556" stop-color="#fdb763"/><stop offset="0.5926" stop-color="#eec66d"/><stop offset="0.6296" stop-color="#e2d277"/><stop offset="0.6667" stop-color="#d6db7e"/><stop offset="0.7037" stop-color="#cee284"/><stop offset="0.7407" stop-color="#c7e789"/><stop offset="0.7778" stop-color="#c2ea8c"/><stop offset="0.8148" stop-color="#bfec8e"/><stop offset="0.8519" stop-color="#bced90"/><stop offset="0.8889" stop-color="#bbee91"/><stop offset="0.9259" stop-color="#b9ef92"/><stop offset="0.963" stop-color="#b8ef92"/><stop offset="1" stop-color="#b8f092"/></linearGradient>
<linearGradient id="r85"><stop offset="0" stop-color="#ff2713"/><stop offset="0.03704" stop-color="#ff2513"/><stop offset="0.07407" stop-color="#ff2513"/><stop offset="0.1111" stop-color="#ff2714"/><stop offset="0.1481" stop-color="#ff2b16"/><stop offset="0.1852" stop-color="#ff3119"/><stop offset="0.2222" stop-color="#ff371c"/><stop offset="0.2593" stop-color="#ff3e1f"/><stop offset="0.2963" stop-color="#ff4623"/><stop offset="0.3333" stop-color="#ff5129"/><stop offset="0.3704" stop-color="#ff5f30"/><stop offset="0.4074" stop-color="#ff6f39"/><stop offset="0.4444" stop-color="#ff8143"/><stop offset="0.4815" stop-color="#ff944e"/><stop offset="0.5185" stop-color="#ffa759"/><stop offset="0.5556" stop-color="#fcb864"/><stop offset="0.5926" stop-color="#eec66e"/><stop offset="0.6296" stop-color="#e1d277"/><stop offset="0.6667" stop-color="#d6dc7f"/><stop offset="0.7037" stop-color="#cde284"/><stop offset="0.7407" stop-color="#c6e789"/><stop offset="0.7778" stop-color="#c2ea8c"/><stop offset="0.8148" stop-color="#bfec8e"/><stop offset="0.8519" stop-color="#bced90"/><stop offset="0.8889" stop-color="#bbee91"/><stop offset="0.9259" stop-color="#b9ef92"/><stop offset="0.963" stop-color="#b8ef92"/><stop offset="1" stop-color="#b8f092"/></linearGradient>
<linearGradient id="r86"><stop offset="0" stop-color="#ff2211"/><stop offset="0.03704" stop-color="#ff2111"/><stop offset="0.07407" stop-color="#ff2111"/><stop offset="0.1111" stop-color="#ff2311"/><stop offset="0.1481" stop-color="#ff2814"/><stop offset="0.1852" stop-color="#ff2e17"/><stop offset="0.2222" stop-color="#ff351a"/><stop offset="0.2593" stop-color="#ff3c1e"/><stop offset="0.2963" stop-color="#ff4422"/><stop offset="0.3333" stop-color="#ff5028"/><stop offset="0.3704" stop-color="#ff5e30"/><stop offset="0.4074" stop-color="#ff6e38"/><stop offset="0.4444" stop-color="#ff8042"/><stop offset="0.4815" stop-color="#ff944e"/><stop offset="0.5185" stop-color="#ffa759"/><stop offset="0.5556" stop-color="#fbb864"/><stop offset="0.5926" stop-color="#edc76e"/><stop offset="0.6296" stop-color="#e0d377"/><stop offset="0.6667" stop-color="#d5dc7f"/><stop offset="0.7037" stop-color="#cde385"/><stop offset="0.7407" stop-color="#c6e789"/><stop offset="0.7778" stop-color="#c2ea8c"/><stop offset="0.8148" stop-color="#bfec8e"/><stop offset="0.8519" stop-color="#bced90"/><stop offset="0.8889" stop-color="#bbee91"/><stop offset="0.9259" stop-color="#b9ef92"/><stop offset="0.963" stop-color="#b8f092"/><stop offset="1" stop-color="#b8f092"/></linearGradient>
<linearGradient id="r87"><stop offset="0" stop-color="#ff1f0f"/><stop offset="0.03704" stop-color="#ff1d0f"/><stop offset="0.07407" stop-color="#ff1d0f"/><stop offset="0.1111" stop-color="#ff1f10"/><stop offset="0.1481" stop-color="#ff2412"/><stop offset="0.1852" stop-color="#ff2c16"/><stop offset="0.2222" stop-color="#ff3319"/><stop offset="0.2593" stop-color="#ff3a1d"/><stop offset="0.2963" stop-color="#ff4222"/><stop offset="0.3333" stop-color="#ff4e28"/><stop offset="0.3704" stop-color="#ff5d2f"/><stop offset="0.4074" stop-color="#ff6d38"/><stop offset="0.4444" stop-color="#ff8042"/><stop offset="0.4815" stop-color="#ff944e"/><stop offset="0.5185" stop-color="#ffa759"/><stop offset="0.5556" stop-color="#fbb965"/><stop offset="0.5926" stop-color="#edc76f"/><stop offset="0.6296" stop-color="#e0d378"/><stop offset="0.6667" stop-color="#d5dc7f"/><stop offset="0.7037" stop-color="#cde385"/><stop offset="0.7407" stop-color="#c6e789"/><stop offset="0.7778" stop-color="#c2ea8c"/><stop offset="0.8148" stop-color="#bfec8e"/><stop offset="0.8519" stop-color="#bced8f"/><stop offset="0.8889" stop-color="#bbee91"/><stop offset="0.9259" stop-color="#b9ef92"/><stop offset="0.963" stop-color="#b8f092"/><stop offset="1" stop-color="#b8f092"/></linearGradient>
<linearGradient id="r88"><stop offset="0" stop-color="#ff1b0e"/><stop offset="0.03704" stop-color="#ff1a0d"/><stop offset="0.07407" stop-color="#ff1a0d"/><stop offset="0.1111" stop-color="#ff1c0e"/><stop offset="0.1481" stop-color="#ff2111"/><stop offset="0.1852" stop-color="#ff2915"/><stop offset="0.2222" stop-color="#ff3118"/><stop offset="0.2593" stop-color="#ff381c"/><stop offset="0.2963" stop-color="#ff4121"/><stop offset="0.3333" stop-color="#ff4d27"/><stop offset="0.3704" stop-color="#ff5c2f"/><stop offset="0.4074" stop-color="#ff6d38"/><stop offset="0.4444" stop-color="#ff8042"/><stop offset="0.4815" stop-color="#ff944e"/><stop offset="0.5185" stop-color="#ffa85a"/><stop offset="0.5556" stop-color="#fab965"/><stop offset="0.5926" stop-color="#ecc86f"/><stop offset="0.6296" stop-color="#dfd478"/><stop offset="0.6667" stop-color="#d5dd7f"/><stop offset="0.7037" stop-color="#cce385"/><stop offset="0.7407" stop-color="#c6e789"/><stop offset="0.7778" stop-color="#c1ea8c"/><stop offset="0.8148" stop-color="#bfec8e"/><stop offset="0.8519" stop-color="#bded8f"/><stop offset="0.8889" stop-color="#bbee91"/><stop offset="0.9259" stop-color="#b9ef92"/><stop offset="0.963" stop-color="#b8f092"/><stop offset="1" stop-color="#b8f092"/></linearGradient>
<linearGradient id="r89"><stop offset="0" stop-color="#ff180c"/><stop offset="0.03704" stop-color="#ff170c"/><stop offset="0.07407" stop-color="#ff170c"/><stop offset="0.1111" stop-color="#ff190c"/><stop offset="0.1481" stop-color="#ff1f10"/><stop offset="0.1852" stop-color="#ff2814"/><stop offset="0.2222" stop-color="#ff2f18"/><stop offset="0.2593" stop-color="#ff371b"/><stop offset="0.2963" stop-color="#ff4020"/><stop offset="0.3333" stop-color="#ff4c26"/><stop offset="0.3704" stop-color="#ff5b2e"/><stop offset="0.4074" stop-color="#ff6c37"/><stop offset="0.4444" stop-color="#ff7f42"/><stop offset="0.4815" stop-color="#ff944e"/><stop offset="0.5185" stop-color="#ffa85a"/><stop offset="0.5556" stop-color="#faba65"/><stop offset="0.5926" stop-color="#ecc86f"/><stop offset="0.6296" stop-color="#dfd478"/><stop offset="0.6667" stop-color="#d5dd7f"/><stop offset="0.7037" stop-color="#cce385"/><stop offset="0.7407" stop-color="#c6e789"/><stop offset="0.7778" stop-color="#c2ea8c"/><stop offset="0.8148" stop-color="#bfec8e"/><stop offset="0.8519" stop-color="#bded8f"/><stop offset="0.8889" stop-color="#bbee91"/><stop offset="0.9259" stop-color="#b9ef92"/><stop offset="0.963" stop-color="#b8ef92"/><stop offset="1" stop-color="#b8f092"/></linearGradient>
<linearGradient id="r90"><stop offset="0" stop-color="#ff150b"/><stop offset="0.03704" stop-color="#ff140a"/><stop offset="0.07407" stop-color="#ff150a"/><stop offset="0.1111" stop-color="#ff170b"/><stop offset="0.1481" stop-color="#ff1d0f"/><stop offset="0.1852" stop-color="#ff2613"/><stop offset="0.2222" stop-color="#ff2e17"/><stop offset="0.2593" stop-color="#ff351b"/><stop offset="0.2963" stop-color="#ff3e1f"/><stop offset="0.3333" stop-color="#ff4b26"/><stop offset="0.3704" stop-color="#ff5a2e"/><stop offset="0.4074" stop-color="#ff6c37"/><stop offset="0.4444" stop-color="#ff7f42"/><stop offset="0.4815" stop-color="#ff944e"/><stop offset="0.5185" stop-color="#ffa95a"/><stop offset="0.5556" stop-color="#faba65"/><stop offset="0.5926" stop-color="#ecc96f"/><stop offset="0.6296" stop-color="#dfd478"/><stop offset="0.6667" stop-color="#d4dd80"/><stop offset="0.7037" stop-color="#cce385"/><stop offset="0.7407" stop-color="#c6e789"/><stop offset="0.7778" stop-color="#c2ea8c"/><stop offset="0.8148" stop-color="#bfec8e"/><stop offset="0.8519" stop-color="#bded8f"/><stop offset="0.8889" stop-color="#bbee90"/><stop offset="0.9259" stop-color="#b9ef91"/><stop offset="0.963" stop-color="#b8ef92"/><stop offset="1" stop-color="#b8f092"/></linearGradient>
<linearGradient id="r91"><stop offset="0" stop-color="#ff1309"/><stop offset="0.03704" stop-color="#ff1209"/><stop offset="0.07407" stop-color="#ff1209"/><stop offset="0.1111" stop-color="#ff150a"/><stop offset="0.1481" stop-color="#ff1c0e"/><stop offset="0.1852" stop-color="#ff2512"/><stop offset="0.2222" stop-color="#ff2d17"/><stop offset="0.2593" stop-color="#ff341a"/><stop offset="0.2963" stop-color="#ff3e1f"/><stop offset="0.3333" stop-color="#ff4a26"/><stop offset="0.3704" stop-color="#ff5a2e"/><stop offset="0.4074" stop-color="#ff6b37"/><stop offset="0.4444" stop-color="#ff7f42"/><stop offset="0.4815" stop-color="#ff944e"/><stop offset="0.5185" stop-color="#ffa95a"/><stop offset="0.5556" stop-color="#faba66"/><stop offset="0.5926" stop-color="#ebc970"/><stop offset="0.6296" stop-color="#dfd478"/><stop offset="0.6667" stop-color="#d4dd80"/><stop offset="0.7037" stop-color="#cce385"/><stop offset="0.7407" stop-color="#c6e789"/><stop offset="0.7778" stop-color="#c2ea8c"/><stop offset="0.8148" stop-color="#bfec8e"/><stop offset="0.8519" stop-color="#bded8f"/><stop offset="0.8889" stop-color="#bbee90"/><stop offset="0.9259" stop-color="#baef91"/><stop offset="0.963" stop-color="#b9ef92"/><stop offset="1" stop-color="#b8f092"/></linearGradient>
<linearGradient id="r92"><stop offset="0" stop-color="#ff1108"/><stop offset="0.03704" stop-color="#ff1008"/><stop offset="0.07407" stop-color="#ff1108"/><stop offset="0.1111" stop-color="#ff130a"/><stop offset="0.1481" stop-color="#ff1a0d"/><stop offset="0.1852" stop-color="#ff2412"/><stop offset="0.2222" stop-color="#ff2c16"/><stop offset="0.2593" stop-color="#ff341a"/><stop offset="0.2963" stop-color="#ff3d1f"/><stop offset="0.3333" stop-color="#ff4a25"/><stop offset="0.3704" stop-color="#ff592d"/><stop offset="0.4074" stop-color="#ff6b37"/><stop offset="0.4444" stop-color="#ff7f42"/><stop offset="0.4815" stop-color="#ff944e"/><stop offset="0.5185" stop-color="#ffa95a"/><stop offset="0.5556" stop-color="#faba66"/><stop offset="0.5926" stop-color="#ebc970"/><stop offset="0.6296" stop-color="#dfd478"/><stop offset="0.6667" stop-color="#d5dd7f"/><stop offset="0.7037" stop-color="#cce385"/><stop offset="0.7407" stop-color="#c6e789"/><stop offset="0.7778" stop-color="#c2ea8c"/><stop offset="0.8148" stop-color="#bfec8e"/><stop offset="0.8519" stop-color="#bded8f"/><stop offset="0.8889" stop-color="#bbee90"/><stop offset="0.9259" stop-color="#baef91"/><stop offset="0.963" stop-color="#b9ef92"/><stop offset="1" stop-color="#b8f092"/></linearGradient>
<linearGradient id="r93"><stop offset="0" stop-color="#ff0f07"/><stop offset="0.03704" stop-color="#ff0e07"/><stop offset="0.07407" stop-color="#ff0f08"/><stop offset="0.1111" stop-color="#ff1209"/><stop offset="0.1481" stop-color="#ff190d"/><stop offset="0.1852" stop-color="#ff2311"/><stop offset="0.2222" stop-color="#ff2b16"/><stop offset="0.2593" stop-color="#ff331a"/><stop offset="0.2963" stop-color="#ff3c1e"/><stop offset="0.3333" stop-color="#ff4925"/><stop offset="0.3704" stop-color="#ff592d"/><stop offset="0.4074" stop-color="#ff6b37"/><stop offset="0.4444" stop-color="#ff7f42"/><stop offset="0.4815" stop-color="#ff944e"/><stop offset="0.5185" stop-color="#ffa95a"/><stop offset="0.5556" stop-color="#faba65"/><stop offset="0.5926" stop-color="#ecc970"/><stop offset="0.6296" stop-color="#dfd478"/><stop offset="0.6667" stop-color="#d5dd7f"/><stop offset="0.7037" stop-color="#cde385"/><stop offset="0.7407" stop-color="#c7e789"/><stop offset="0.7778" stop-color="#c2ea8c"/><stop offset="0.8148" stop-color="#bfeb8e"/><stop offset="0.8519" stop-color="#bded8f"/><stop offset="0.8889" stop-color="#bbee90"/><stop offset="0.9259" stop-color="#baef91"/><stop offset="0.963" stop-color="#b9ef92"/><stop offset="1" stop-color="#b8ef92"/></linearGradient>
<linearGradient id="r94"><stop offset="0" stop-color="#ff0c06"/><stop offset="0.03704" stop-color="#ff0d06"/><stop offset="0.07407" stop-color="#ff0e07"/><stop offset="0.1111" stop-color="#ff1109"/><stop offset="0.1481" stop-color="#ff180c"/><stop offset="0.1852" stop-color="#ff2211"/><stop offset="0.2222" stop-color="#ff2a15"/><stop offset="0.2593" stop-color="#ff3219"/><stop offset="0.2963" stop-color="#ff3c1e"/><stop offset="0.3333" stop-color="#ff4925"/><stop offset="0.3704" stop-color="#ff592d"/><stop offset="0.4074" stop-color="#ff6b37"/><stop offset="0.4444" stop-color="#ff7f42"/><stop offset="0.4815" stop-color="#ff944e"/><stop offset="0.5185" stop-color="#ffa95a"/><stop offset="0.5556" stop-color="#faba65"/><stop offset="0.5926" stop-color="#ecc86f"/><stop offset="0.6296" stop-color="#dfd478"/><stop offset="0.6667" stop-color="#d5dc7f"/><stop offset="0.7037" stop-color="#cde284"/><stop offset="0.7407" stop-color="#c7e788"/><stop offset="0.7778" stop-color="#c3e98b"/><stop offset="0.8148" stop-color="#c0eb8d"/><stop offset="0.8519" stop-color="#bded8f"/><stop offset="0.8889" stop-color="#bcee90"/><stop offset="0.9259" stop-color="#baef91"/><stop offset="0.963" stop-color="#b9ef92"/><stop offset="1" stop-color="#b9ef92"/></linearGradient>
<linearGradient id="r95"><stop offset="0" stop-color="#ff0a05"/><stop offset="0.03704" stop-color="#ff0b05"/><stop offset="0.07407" stop-color="#ff0c06"/><stop offset="0.1111" stop-color="#ff1008"/><stop offset="0.1481" stop-color="#ff180c"/><stop offset="0.1852" stop-color="#ff2110"/><stop offset="0.2222" stop-color="#ff2915"/><stop offset="0.2593" stop-color="#ff3219"/><stop offset="0.2963" stop-color="#ff3c1e"/><stop offset="0.3333" stop-color="#ff4925"/><stop offset="0.3704" stop-color="#ff592d"/><stop offset="0.4074" stop-color="#ff6b37"/><stop offset="0.4444" stop-color="#ff8042"/><stop offset="0.4815" stop-color="#ff944e"/><stop offset="0.5185" stop-color="#ffa85a"/><stop offset="0.5556" stop-color="#faba65"/><stop offset="0.5926" stop-color="#ecc86f"/><stop offset="0.6296" stop-color="#e0d378"/><stop offset="0.6667" stop-color="#d6dc7f"/><stop offset="0.7037" stop-color="#cee284"/><stop offset="0.7407" stop-color="#c8e688"/><stop offset="0.7778" stop-color="#c3e98b"/><stop offset="0.8148" stop-color="#c0eb8d"/><stop offset="0.8519" stop-color="#beec8f"/><stop offset="0.8889" stop-color="#bcee90"/><stop offset="0.9259" stop-color="#baee91"/><stop offset="0.963" stop-color="#b9ef92"/><stop offset="1" stop-color="#b9ef92"/></linearGradient>
<linearGradient id="cb" x1="0" y1="0" x2="0" y2="1"><stop offset="0" stop-color="#ff0000"/><stop offset="0.025" stop-color="#ff140a"/><stop offset="0.05" stop-color="#ff2814"/><stop offset="0.075" stop-color="#ff3c1e"/><stop offset="0.1" stop-color="#ff4f28"/><stop offset="0.125" stop-color="#ff6232"/><stop offset="0.15" stop-color="#ff743c"/><stop offset="0.175" stop-color="#ff8545"/><stop offset="0.2" stop-color="#ff964f"/><stop offset="0.225" stop-color="#ffa658"/><stop offset="0.25" stop-color="#ffb462"/><stop offset="0.275" stop-color="#f2c26b"/><stop offset="0.3" stop-color="#e5ce74"/><stop offset="0.325" stop-color="#d9d97d"/><stop offset="0.35" stop-color="#cce385"/><stop offset="0.375" stop-color="#bfec8e"/><stop offset="0.4" stop-color="#b2f396"/><stop offset="0.425" stop-color="#a6f89e"/><stop offset="0.45" stop-color="#99fca6"/><stop offset="0.475" stop-color="#8cfead"/><stop offset="0.5" stop-color="#80ffb4"/><stop offset="0.525" stop-color="#73febb"/><stop offset="0.55" stop-color="#66fcc2"/><stop offset="0.575" stop-color="#59f8c8"/><stop offset="0.6" stop-color="#4df3ce"/><stop offset="0.625" stop-color="#40ecd4"/><stop offset="0.65" stop-color="#33e3d9"/><stop offset="0.675" stop-color="#26d9de"/><stop offset="0.7" stop-color="#19cee3"/><stop offset="0.725" stop-color="#0dc2e8"/><stop offset="0.75" stop-color="#00b4ec"/><stop offset="0.775" stop-color="#0da6ef"/><stop offset="0.8" stop-color="#1996f3"/><stop offset="0.825" stop-color="#2685f5"/><stop offset="0.85" stop-color="#3374f8"/><stop offset="0.875" stop-color="#4062fa"/><stop offset="0.9" stop-color="#4c4ffc"/><stop offset="0.925" stop-color="#593cfd"/><stop offset="0.95" stop-color="#6628fe"/><stop offset="0.975" stop-color="#7314ff"/><stop offset="1" stop-color="#8000ff"/></linearGradient>
<filter id="idn" x="0" y="0" width="415" height="362" filterUnits="userSpaceOnUse"><feOffset dx="0" dy="0"/></filter>
</defs>
<g shape-rendering="crispEdges"><rect x="177.20" y="122.06" width="191.04" height="2.39" fill="url(#r0)"/><rect x="177.20" y="124.05" width="191.04" height="2.39" fill="url(#r1)"/><rect x="177.20" y="126.04" width="191.04" height="2.39" fill="url(#r2)"/><rect x="177.20" y="128.03" width="191.04" height="2.39" fill="url(#r3)"/><rect x="177.20" y="130.02" width="191.04" height="2.39" fill="url(#r4)"/><rect x="177.20" y="132.01" width="191.04" height="2.39" fill="url(#r5)"/><rect x="177.20" y="134.00" width="191.04" height="2.39" fill="url(#r6)"/><rect x="177.20" y="135.99" width="191.04" height="2.39" fill="url(#r7)"/><rect x="177.20" y="137.98" width="191.04" height="2.39" fill="url(#r8)"/><rect x="177.20" y="139.97" width="191.04" height="2.39" fill="url(#r9)"/><rect x="177.20" y="141.96" width="191.04" height="2.39" fill="url(#r10)"/><rect x="177.20" y="143.95" width="191.04" height="2.39" fill="url(#r11)"/><rect x="177.20" y="145.94" width="191.04" height="2.39" fill="url(#r12)"/><rect x="177.20" y="147.93" width="191.04" height="2.39" fill="url(#r13)"/><rect x="177.20" y="149.92" width="191.04" height="2.39" fill="url(#r14)"/><rect x="177.20" y="151.91" width="191.04" height="2.39" fill="url(#r15)"/><rect x="177.20" y="153.90" width="191.04" height="2.39" fill="url(#r16)"/><rect x="177.20" y="155.89" width="191.04" height="2.39" fill="url(#r17)"/><rect x="177.20" y="157.88" width="191.04" height="2.39" fill="url(#r18)"/><rect x="177.20" y="159.87" width="191.04" height="2.39" fill="url(#r19)"/><rect x="177.20" y="161.86" width="191.04" height="2.39" fill="url(#r20)"/><rect x="177.20" y="163.85" width="191.04" height="2.39" fill="url(#r21)"/><rect x="177.20" y="165.84" width="191.04" height="2.39" fill="url(#r22)"/><rect x="177.20" y="167.83" width="191.04" height="2.39" fill="url(#r23)"/><rect x="177.20" y="169.82" width="191.04" height="2.39" fill="url(#r24)"/><rect x="177.20" y="171.81" width="191.04" height="2.39" fill="url(#r25)"/><rect x="177.20" y="173.80" width="191.04" height="2.39" fill="url(#r26)"/><rect x="177.20" y="175.79" width="191.04" height="2.39" fill="url(#r27)"/><rect x="177.20" y="177.78" width="191.04" height="2.39" fill="url(#r28)"/><rect x="177.20" y="179.77" width="191.04" height="2.39" fill="url(#r29)"/><rect x="177.20" y="181.76" width="191.04" height="2.39" fill="url(#r30)"/><rect x="177.20" y="183.75" width="191.04" height="2.39" fill="url(#r31)"/><rect x="177.20" y="185.74" width="191.04" height="2.39" fill="url(#r32)"/><rect x="177.20" y="187.73" width="191.04" height="2.39" fill="url(#r33)"/><rect x="177.20" y="189.72" width="191.04" height="2.39" fill="url(#r34)"/><rect x="177.20" y="191.71" width="191.04" height="2.39" fill="url(#r35)"/><rect x="177.20" y="193.70" width="191.04" height="2.39" fill="url(#r36)"/><rect x="177.20" y="195.69" width="191.04" height="2.39" fill="url(#r37)"/><rect x="177.20" y="197.68" width="191.04" height="2.39" fill="url(#r38)"/><rect x="177.20" y="199.67" width="191.04" height="2.39" fill="url(#r39)"/><rect x="177.20" y="201.66" width="191.04" height="2.39" fill="url(#r40)"/><rect x="177.20" y="203.65" width="191.04" height="2.39" fill="url(#r41)"/><rect x="177.20" y="205.64" width="191.04" height="2.39" fill="url(#r42)"/><rect x="177.20" y="207.63" width="191.04" height="2.39" fill="url(#r43)"/><rect x="177.20" y="209.62" width="191.04" height="2.39" fill="url(#r44)"/><rect x="177.20" y="211.61" width="191.04" height="2.39" fill="url(#r45)"/><rect x="177.20" y="213.60" width="191.04" height="2.39" fill="url(#r46)"/><rect x="177.20" y="215.59" width="191.04" height="2.39" fill="url(#r47)"/><rect x="177.20" y="217.58" width="191.04" height="2.39" fill="url(#r48)"/><rect x="177.20" y="219.57" width="191.04" height="2.39" fill="url(#r49)"/><rect x="177.20" y="221.56" width="191.04" height="2.39" fill="url(#r50)"/><rect x="177.20" y="223.55" width="191.04" height="2.39" fill="url(#r51)"/><rect x="177.20" y="225.54" width="191.04" height="2.39" fill="url(#r52)"/><rect x="177.20" y="227.53" width="191.04" height="2.39" fill="url(#r53)"/><rect x="177.20" y="229.52" width="191.04" height="2.39" fill="url(#r54)"/><rect x="177.20" y="231.51" width="191.04" height="2.39" fill="url(#r55)"/><rect x="177.20" y="233.50" width="191.04" height="2.39" fill="url(#r56)"/><rect x="177.20" y="235.49" width="191.04" height="2.39" fill="url(#r57)"/><rect x="177.20" y="237.48" width="191.04" height="2.39" fill="url(#r58)"/><rect x="177.20" y="239.47" width="191.04" height="2.39" fill="url(#r59)"/><rect x="177.20" y="241.46" width="191.04" height="2.39" fill="url(#r60)"/><rect x="177.20" y="243.45" width="191.04" height="2.39" fill="url(#r61)"/><rect x="177.20" y="245.44" width="191.04" height="2.39" fill="url(#r62)"/><rect x="177.20" y="247.43" width="191.04" height="2.39" fill="url(#r63)"/><rect x="177.20" y="249.42" width="191.04" height="2.39" fill="url(#r64)"/><rect x="177.20" y="251.41" width="191.04" height="2.39" fill="url(#r65)"/><rect x="177.20" y="253.40" width="191.04" height="2.39" fill="url(#r66)"/><rect x="177.20" y="255.39" width="191.04" height="2.39" fill="url(#r67)"/><rect x="177.20" y="257.38" width="191.04" height="2.39" fill="url(#r68)"/><rect x="177.20" y="259.37" width="191.04" height="2.39" fill="url(#r69)"/><rect x="177.20" y="261.36" width="191.04" height="2.39" fill="url(#r70)"/><rect x="177.20" y="263.35" width="191.04" height="2.39" fill="url(#r71)"/><rect x="177.20" y="265.34" width="191.04" height="2.39" fill="url(#r72)"/><rect x="177.20" y="267.33" width="191.04" height="2.39" fill="url(#r73)"/><rect x="177.20" y="269.32" width="191.04" height="2.39" fill="url(#r74)"/><rect x="177.20" y="271.31" width="191.04" height="2.39" fill="url(#r75)"/><rect x="177.20" y="273.30" width="191.04" height="2.39" fill="url(#r76)"/><rect x="177.20" y="275.29" width="191.04" height="2.39" fill="url(#r77)"/><rect x="177.20" y="277.28" width="191.04" height="2.39" fill="url(#r78)"/><rect x="177.20" y="279.27" width="191.04" height="2.39" fill="url(#r79)"/><rect x="177.20" y="281.26" width="191.04" height="2.39" fill="url(#r80)"/><rect x="177.20" y="283.25" width="191.04" height="2.39" fill="url(#r81)"/><rect x="177.20" y="285.24" width="191.04" height="2.39" fill="url(#r82)"/><rect x="177.20" y="287.23" width="191.04" height="2.39" fill="url(#r83)"/><rect x="177.20" y="289.22" width="191.04" height="2.39" fill="url(#r84)"/><rect x="177.20" y="291.21" width="191.04" height="2.39" fill="url(#r85)"/><rect x="177.20" y="293.20" width="191.04" height="2.39" fill="url(#r86)"/><rect x="177.20" y="295.19" width="191.04" height="2.39" fill="url(#r87)"/><rect x="177.20" y="297.18" width="191.04" height="2.39" fill="url(#r88)"/><rect x="177.20" y="299.17" width="191.04" height="2.39" fill="url(#r89)"/><rect x="177.20" y="301.16" width="191.04" height="2.39" fill="url(#r90)"/><rect x="177.20" y="303.15" width="191.04" height="2.39" fill="url(#r91)"/><rect x="177.20" y="305.14" width="191.04" height="2.39" fill="url(#r92)"/><rect x="177.20" y="307.13" width="191.04" height="2.39" fill="url(#r93)"/><rect x="177.20" y="309.12" width="191.04" height="2.39" fill="url(#r94)"/><rect x="177.20" y="311.11" width="191.04" height="2.39" fill="url(#r95)"/></g>
<path d="M354.0,122.1 352.9,123.4 351.7,124.7 350.2,126.0 348.7,127.4 347.0,128.7 345.7,129.6 344.4,130.6 343.0,131.5 341.0,132.7 339.1,133.7 337.7,134.4 335.8,135.3 333.7,136.2 332.4,136.7 329.8,137.6 328.4,138.0 325.8,138.7 323.1,139.1 320.5,139.2 317.8,138.7 316.4,138.0 315.1,136.7 314.3,134.0 314.4,131.3 315.2,129.0 316.0,127.4 316.8,126.0 317.9,124.7 319.2,123.3 320.2,122.1 M361.7,122.1 360.8,123.4 359.8,124.7 358.6,126.0 357.4,127.4 356.1,128.7 354.8,130.0 353.4,131.3 352.1,132.7 350.7,134.0 349.3,135.3 347.8,136.7 346.4,138.0 344.8,139.3 343.3,140.6 341.7,141.9 340.4,143.0 339.1,144.0 337.7,145.0 336.4,146.0 334.5,147.3 332.5,148.6 331.1,149.5 329.8,150.3 328.1,151.2 325.8,152.5 324.5,153.2 323.0,153.9 320.5,155.0 319.2,155.5 316.5,156.5 315.2,156.9 312.5,157.7 311.2,158.0 308.5,158.6 305.9,159.1 304.6,159.3 301.9,159.5 299.3,159.6 296.6,159.4 295.3,159.2 292.6,158.4 291.3,157.7 289.8,156.6 288.6,155.2 287.6,152.6 287.5,149.9 288.1,147.3 288.6,145.7 289.9,143.3 290.8,142.0 291.7,140.6 292.8,139.3 294.1,138.0 295.5,136.7 297.0,135.3 298.6,134.0 300.4,132.7 301.9,131.6 303.2,130.7 304.6,129.7 306.0,128.7 307.7,127.4 309.3,126.0 310.6,124.7 311.8,123.4 312.8,122.1 312.8,122.1 M367.5,122.1 366.6,123.4 365.6,124.9 364.3,126.9 362.9,128.7 362.0,130.0 361.0,131.3 360.0,132.7 358.9,134.0 357.6,135.6 356.3,137.1 355.0,138.6 353.6,140.1 352.3,141.4 351.0,142.8 349.7,144.1 348.3,145.3 347.0,146.5 345.7,147.7 344.4,148.8 343.0,149.9 341.3,151.2 339.5,152.6 337.7,153.8 336.4,154.8 335.1,155.7 333.7,156.6 331.6,157.9 329.8,158.9 328.4,159.7 327.0,160.5 324.5,161.9 323.1,162.5 321.8,163.2 319.2,164.4 317.8,165.0 316.0,165.8 313.8,166.7 312.5,167.3 309.9,168.3 308.5,168.8 305.9,169.7 304.6,170.2 301.9,171.0 300.6,171.4 297.9,172.2 296.6,172.6 293.9,173.3 292.0,173.8 290.0,174.3 287.3,174.8 285.4,175.1 283.3,175.4 280.7,175.5 278.0,175.4 276.4,175.1 274.0,174.5 272.0,173.8 270.1,172.8 268.7,172.0 267.4,171.0 266.1,169.7 264.8,168.1 263.6,165.8 263.1,164.5 262.8,161.9 263.1,159.2 263.4,157.9 264.4,155.2 265.1,153.9 266.1,152.2 267.4,150.2 268.6,148.6 269.6,147.3 270.8,145.9 272.0,144.6 273.3,143.3 274.6,142.0 276.0,140.6 277.5,139.3 279.1,138.0 280.7,136.8 282.0,135.8 283.3,134.8 284.7,133.8 286.3,132.7 288.3,131.3 290.0,130.3 291.3,129.4 292.6,128.5 294.4,127.4 296.4,126.0 297.9,125.0 299.3,124.1 300.6,123.1 301.9,122.1 M368.2,129.5 366.9,131.2 365.9,132.7 364.9,134.0 364.0,135.3 362.9,136.8 361.6,138.7 360.3,140.4 359.1,142.0 358.0,143.3 356.9,144.6 355.7,145.9 354.5,147.3 353.3,148.6 352.0,149.9 350.7,151.2 349.3,152.6 347.9,153.9 346.5,155.2 345.0,156.6 343.4,157.9 341.8,159.2 340.4,160.3 339.1,161.3 337.7,162.3 336.4,163.3 334.7,164.5 332.7,165.8 331.1,166.9 329.8,167.8 328.4,168.6 326.3,169.8 324.5,170.9 323.1,171.6 321.6,172.5 319.2,173.7 317.8,174.4 316.4,175.1 313.8,176.3 312.5,176.9 310.5,177.8 308.5,178.6 307.2,179.1 304.6,180.2 303.2,180.7 300.6,181.6 299.3,182.1 296.6,182.9 295.3,183.4 292.6,184.1 291.3,184.5 288.6,185.3 286.7,185.7 284.7,186.3 282.0,186.9 280.7,187.1 278.0,187.7 275.4,188.2 274.0,188.4 271.4,188.9 268.7,189.3 266.1,189.6 264.8,189.8 262.1,190.0 259.5,190.2 256.8,190.2 254.1,190.0 251.9,189.7 250.2,189.3 247.5,188.5 246.2,187.9 244.6,187.1 242.7,185.7 241.2,184.4 240.0,183.1 238.9,181.8 238.1,180.4 236.9,178.1 236.3,176.5 235.8,173.8 235.9,171.1 236.4,168.5 236.9,167.0 238.1,164.5 238.8,163.2 239.6,161.9 240.9,160.1 242.2,158.4 243.5,156.8 244.9,155.3 246.1,153.9 247.3,152.6 248.6,151.2 249.9,149.9 251.2,148.6 252.5,147.3 253.8,145.9 255.1,144.6 256.5,143.3 257.9,142.0 259.3,140.6 260.8,139.3 262.1,138.1 263.4,137.0 264.8,135.9 266.1,134.8 267.4,133.7 268.7,132.6 270.4,131.3 272.2,130.0 274.0,128.7 275.4,127.7 276.7,126.8 278.0,125.9 279.9,124.7 282.0,123.4 283.3,122.5 284.1,122.1 M177.2,175.6 178.5,175.0 181.2,174.4 183.8,173.8 185.2,173.6 187.8,172.9 189.3,172.5 191.8,171.7 193.4,171.1 195.8,170.3 197.1,169.8 199.8,168.7 201.1,168.1 203.2,167.2 205.1,166.3 206.4,165.6 208.5,164.5 210.4,163.5 211.7,162.8 213.2,161.9 215.5,160.5 217.0,159.6 218.3,158.8 219.7,157.9 221.7,156.6 223.6,155.2 225.0,154.3 226.3,153.4 227.6,152.5 229.3,151.2 231.1,149.9 232.9,148.6 234.2,147.6 235.6,146.6 236.9,145.6 238.2,144.6 239.9,143.3 241.6,142.0 243.3,140.6 244.9,139.4 246.2,138.4 247.5,137.3 248.8,136.3 250.2,135.3 251.8,134.0 253.5,132.7 255.2,131.3 256.8,130.1 258.1,129.1 259.5,128.1 260.8,127.1 262.2,126.0 264.0,124.7 265.7,123.4 267.1,122.1 267.1,122.1 M368.2,138.0 367.2,139.3 366.3,140.6 365.5,142.0 364.3,144.0 363.1,145.9 362.2,147.3 361.3,148.6 360.3,150.1 359.0,151.9 357.6,153.6 356.3,155.2 355.2,156.6 354.0,157.9 352.8,159.2 351.5,160.5 350.2,161.9 348.8,163.2 347.3,164.5 345.8,165.8 344.4,167.1 343.0,168.2 341.7,169.2 340.4,170.2 339.1,171.2 337.3,172.5 335.4,173.8 333.7,174.9 332.4,175.8 331.1,176.6 329.1,177.8 327.1,179.0 325.8,179.7 324.5,180.4 322.0,181.8 320.5,182.5 319.2,183.2 316.7,184.4 315.2,185.1 313.8,185.7 311.2,186.9 309.9,187.5 307.6,188.4 305.9,189.1 304.3,189.7 301.9,190.6 300.6,191.1 297.9,192.0 296.6,192.5 293.9,193.4 292.6,193.8 290.0,194.6 288.6,195.0 286.0,195.8 283.9,196.4 282.0,196.8 279.4,197.5 278.0,197.9 275.4,198.5 273.0,199.0 271.4,199.4 268.7,199.9 266.5,200.3 264.8,200.7 262.1,201.1 259.5,201.6 258.1,201.8 255.5,202.1 252.8,202.5 250.2,202.8 248.5,203.0 246.2,203.2 243.5,203.5 240.9,203.7 238.2,203.9 235.6,204.0 232.9,204.1 230.3,204.2 227.6,204.3 226.3,204.3 223.6,204.3 221.0,204.3 219.0,204.3 217.0,204.3 214.3,204.2 211.7,204.1 209.0,204.0 206.4,203.8 203.7,203.6 201.1,203.4 198.4,203.2 196.5,203.0 194.4,202.8 191.8,202.4 189.1,202.1 186.5,201.8 185.2,201.6 182.5,201.2 179.9,200.8 178.3,200.3 177.2,199.8 M368.2,149.9 366.9,152.4 366.1,153.9 365.4,155.2 364.3,157.3 363.1,159.2 362.3,160.5 361.4,161.9 360.3,163.4 359.0,165.2 357.6,166.8 356.3,168.4 355.0,169.8 353.8,171.1 352.5,172.5 351.1,173.8 349.7,175.1 348.3,176.3 347.0,177.4 345.7,178.5 344.4,179.5 343.0,180.4 341.2,181.8 339.2,183.1 337.7,184.0 336.4,184.9 334.9,185.7 332.6,187.1 331.1,187.9 329.8,188.6 327.5,189.7 325.8,190.5 324.5,191.1 321.8,192.3 320.5,192.9 318.6,193.7 316.5,194.5 315.2,195.0 312.5,196.1 311.2,196.5 308.5,197.5 307.2,197.9 304.6,198.8 303.2,199.2 300.6,200.1 299.3,200.5 296.6,201.3 295.2,201.7 292.6,202.4 290.6,203.0 288.6,203.5 286.0,204.2 284.7,204.6 282.0,205.3 280.7,205.6 278.0,206.3 275.6,207.0 274.0,207.4 271.4,208.0 270.1,208.3 267.4,209.0 264.8,209.6 263.4,209.9 260.8,210.5 258.9,210.9 256.8,211.4 254.1,212.0 252.7,212.3 250.2,212.8 247.5,213.3 246.1,213.6 243.5,214.1 240.9,214.5 238.7,214.9 236.9,215.2 234.2,215.6 231.6,216.0 230.1,216.3 227.6,216.6 225.0,216.9 222.3,217.2 219.7,217.5 218.3,217.7 215.7,217.9 213.0,218.1 210.4,218.3 207.7,218.5 205.1,218.6 202.4,218.7 199.8,218.8 197.1,218.8 194.4,218.8 191.8,218.8 189.1,218.8 186.5,218.7 183.8,218.6 181.2,218.4 178.5,218.2 177.2,218.1 M177.2,148.7 178.5,148.5 181.2,148.3 183.8,147.9 186.5,147.5 187.8,147.3 190.5,146.7 193.1,146.0 194.4,145.6 197.1,144.8 198.4,144.3 201.1,143.4 202.4,142.9 204.7,142.0 206.4,141.3 207.8,140.6 210.4,139.5 211.7,138.9 213.6,138.0 215.7,137.0 217.0,136.3 218.9,135.3 221.0,134.3 222.3,133.6 224.1,132.7 226.3,131.5 227.6,130.8 229.2,130.0 231.6,128.8 232.9,128.1 234.3,127.4 236.9,126.1 238.2,125.4 239.7,124.7 242.2,123.4 243.5,122.6 244.5,122.1 M368.2,181.3 367.8,183.1 367.2,185.7 366.9,187.1 365.9,189.7 364.7,191.0 362.9,192.0 361.6,192.5 359.0,193.5 357.6,194.0 355.0,195.0 353.6,195.5 351.2,196.4 349.7,196.9 347.6,197.7 345.7,198.4 343.8,199.0 341.7,199.8 340.0,200.3 337.7,201.1 336.1,201.7 333.7,202.4 332.0,203.0 329.8,203.7 327.8,204.3 325.8,205.0 323.5,205.6 321.8,206.2 319.2,206.9 317.8,207.3 315.2,208.1 313.8,208.5 311.2,209.2 309.7,209.6 307.2,210.3 304.8,210.9 303.2,211.4 300.6,212.1 299.3,212.4 296.6,213.1 294.5,213.6 292.6,214.1 290.0,214.7 288.6,215.0 286.0,215.6 283.4,216.3 282.0,216.6 279.4,217.2 277.5,217.6 275.4,218.0 272.7,218.6 271.4,218.9 268.7,219.5 266.1,220.0 264.8,220.3 262.1,220.8 259.5,221.4 258.1,221.6 255.5,222.1 252.8,222.6 251.3,222.9 248.8,223.3 246.2,223.8 243.8,224.2 242.2,224.5 239.6,224.9 236.9,225.3 235.5,225.5 232.9,225.9 230.3,226.3 227.6,226.7 226.1,226.9 223.6,227.2 221.0,227.5 218.3,227.8 215.7,228.1 214.3,228.3 211.7,228.5 209.0,228.8 206.4,229.0 203.7,229.2 201.1,229.4 199.4,229.5 197.1,229.7 194.4,229.8 191.8,229.9 189.1,230.1 186.5,230.1 183.8,230.2 181.2,230.3 178.5,230.3 177.2,230.2 M300.6,313.1 300.1,310.4 299.8,307.8 299.7,305.1 299.8,302.5 299.9,299.8 300.2,297.2 300.5,294.5 300.7,293.2 301.2,290.5 301.8,287.9 302.1,286.6 302.7,283.9 303.2,281.9 303.7,279.9 304.4,277.3 304.8,276.0 305.5,273.3 305.9,271.7 306.5,269.3 307.1,266.7 307.4,265.3 307.9,262.7 308.4,260.0 308.6,258.7 308.9,256.1 309.0,253.4 308.9,250.7 308.7,248.1 308.4,246.8 307.6,244.1 307.1,242.8 305.9,240.6 304.6,238.9 303.2,237.5 301.9,236.4 300.6,235.5 299.3,234.8 296.6,233.7 295.3,233.3 292.6,232.6 290.2,232.2 288.6,232.0 286.0,231.7 283.3,231.6 280.7,231.6 278.0,231.7 275.4,231.8 272.7,231.9 270.1,232.1 268.7,232.2 266.1,232.4 263.4,232.7 260.8,233.0 258.1,233.3 256.5,233.5 254.1,233.8 251.5,234.2 248.8,234.5 246.8,234.8 244.9,235.1 242.2,235.5 239.6,235.9 237.7,236.2 235.6,236.5 232.9,236.8 230.3,237.2 228.2,237.5 226.3,237.7 223.6,238.1 221.0,238.4 218.3,238.7 217.0,238.9 214.3,239.2 211.7,239.5 209.0,239.7 206.4,240.0 204.7,240.1 202.4,240.3 199.8,240.5 197.1,240.7 194.4,240.8 191.8,240.9 189.1,241.0 186.5,241.1 183.8,241.1 181.2,241.0 178.5,241.0 177.2,241.0 M278.8,313.1 278.6,310.4 278.4,307.8 278.4,305.1 278.5,302.5 278.7,299.8 278.9,297.2 279.2,294.5 279.4,293.1 279.6,290.5 279.9,287.9 280.1,285.2 280.2,282.6 280.3,279.9 280.3,277.3 280.1,274.6 279.8,272.0 279.4,269.7 278.9,268.0 278.0,265.5 277.4,264.0 276.7,262.7 275.4,260.6 274.0,258.9 272.7,257.5 271.4,256.3 270.1,255.3 268.7,254.4 266.9,253.4 264.8,252.4 263.4,251.8 260.8,250.9 259.5,250.5 256.8,249.9 254.6,249.4 252.8,249.1 250.2,248.8 247.5,248.6 244.9,248.4 242.2,248.4 239.6,248.4 236.9,248.6 234.2,248.7 231.6,249.0 228.9,249.2 227.2,249.4 225.0,249.7 222.3,250.0 219.7,250.4 217.4,250.7 215.7,251.0 213.0,251.4 210.4,251.8 208.1,252.1 206.4,252.3 203.7,252.6 201.1,252.9 198.4,253.2 195.8,253.4 194.4,253.5 191.8,253.6 189.1,253.6 186.5,253.6 183.8,253.4 182.5,253.3 179.9,253.0 177.2,252.8 177.2,252.8 M260.5,313.1 260.5,310.4 260.6,307.8 260.6,305.1 260.6,302.5 260.5,299.8 260.4,297.2 260.1,294.5 259.7,291.9 259.5,290.3 258.9,287.9 258.2,285.2 257.7,283.9 256.8,281.7 255.9,279.9 255.1,278.6 254.1,277.1 252.8,275.4 251.5,274.0 250.2,272.7 248.8,271.6 247.5,270.6 245.5,269.3 243.5,268.2 242.2,267.6 239.9,266.7 238.2,266.1 235.8,265.3 234.2,265.0 231.6,264.5 228.9,264.1 227.6,263.9 225.0,263.7 222.3,263.6 219.7,263.6 217.0,263.6 214.3,263.7 211.7,263.8 209.0,264.0 207.7,264.1 205.1,264.3 202.4,264.5 199.8,264.7 197.1,264.9 194.4,265.1 191.8,265.3 190.5,265.4 187.8,265.5 185.2,265.5 182.5,265.5 179.9,265.4 178.5,265.3 177.2,265.3 M235.8,313.1 235.8,310.4 235.6,307.9 235.4,306.5 234.9,303.8 234.2,301.6 233.6,299.8 232.9,298.4 231.6,296.2 230.4,294.5 229.3,293.2 227.9,291.9 226.4,290.5 225.0,289.5 223.6,288.7 222.2,287.9 219.7,286.7 218.3,286.1 215.8,285.2 214.3,284.8 211.7,284.1 210.4,283.8 207.7,283.3 205.1,283.0 202.4,282.7 201.1,282.5 198.4,282.4 195.8,282.2 193.1,282.2 190.5,282.2 187.8,282.2 185.2,282.2 182.5,282.3 179.9,282.3 177.2,282.5 177.2,282.5" fill="none" stroke="#000" stroke-width="1.4" stroke-linejoin="round"/>
<g filter="url(#idn)">
<text x="212.8" y="158.8" font-family="Liberation Serif, serif" font-size="12.5" text-anchor="middle" fill="#1a1a1a">-4</text>
<text x="212.5" y="203" font-family="Liberation Serif, serif" font-size="12.5" text-anchor="middle" fill="#1a1a1a">-4</text>
<text x="212.7" y="229.1" font-family="Liberation Serif, serif" font-size="12.5" text-anchor="middle" fill="#1a1a1a">0</text>
<text x="212.5" y="250.5" font-family="Liberation Serif, serif" font-size="12.5" text-anchor="middle" fill="#1a1a1a">4</text>
<text x="212.6" y="282.4" font-family="Liberation Serif, serif" font-size="12.5" text-anchor="middle" fill="#1a1a1a">8</text>
<text x="278" y="174" font-family="Liberation Serif, serif" font-size="12.5" text-anchor="middle" fill="#1a1a1a">-8</text>
<text x="328.3" y="135.4" font-family="Liberation Serif, serif" font-size="12.5" text-anchor="middle" fill="#1a1a1a">-12</text>
</g>
<g fill="none" stroke="#000" stroke-width="2.2">
<rect x="177.2" y="2.4" width="191.04" height="119.66"/>
<rect x="57.3" y="122.06" width="119.90" height="191.04"/>
</g>
<path d="M209.04,122.06v-5.2M209.04,2.4v5.2M57.3,281.26h5.2M177.2,281.26h-5.2M240.88,122.06v-5.2M240.88,2.4v5.2M57.3,249.42h5.2M177.2,249.42h-5.2M272.72,122.06v-5.2M272.72,2.4v5.2M57.3,217.58h5.2M177.2,217.58h-5.2M304.56,122.06v-5.2M304.56,2.4v5.2M57.3,185.74h5.2M177.2,185.74h-5.2M336.40,122.06v-5.2M336.40,2.4v5.2M57.3,153.90h5.2M177.2,153.90h-5.2M177.2,98.13h2.7M368.24,98.13h-2.7M81.28,313.1v-2.7M81.28,122.06v2.7M177.2,74.20h5.2M368.24,74.20h-5.2M105.26,313.1v-5.2M105.26,122.06v5.2M177.2,50.26h2.7M368.24,50.26h-2.7M129.24,313.1v-2.7M129.24,122.06v2.7M177.2,26.33h5.2M368.24,26.33h-5.2M153.22,313.1v-5.2M153.22,122.06v5.2" stroke="#000" stroke-width="2.0" fill="none"/>
<clipPath id="ct"><rect x="177.2" y="2.4" width="191.04" height="120.66"/></clipPath>
<clipPath id="cl"><rect x="58.099999999999994" y="122.06" width="119.10" height="192.04"/></clipPath>
<g clip-path="url(#ct)" fill="none" stroke="#f00" stroke-width="2.35">
<path d="M177.2,53.4 177.7,53.4 178.2,53.4 178.6,53.3 179.1,53.3 179.6,53.2 180.1,53.1 180.5,53.1 181.0,53.0 181.5,53.0 182.0,52.9 182.5,52.8 182.9,52.7 183.4,52.7 183.9,52.6 184.4,52.5 184.9,52.4 185.3,52.3 185.8,52.2 186.3,52.2 186.8,52.1 187.2,52.0 187.7,51.9 188.2,51.8 188.7,51.7 189.2,51.6 189.6,51.5 190.1,51.4 190.6,51.3 191.1,51.2 191.5,51.1 192.0,51.0 192.5,50.9 193.0,50.7 193.5,50.6 193.9,50.5 194.4,50.4 194.9,50.3 195.4,50.2 195.8,50.0 196.3,49.9 196.8,49.8 197.3,49.7 197.8,49.6 198.2,49.4 198.7,49.3 199.2,49.2 199.7,49.1 200.2,48.9 200.6,48.8 201.1,48.7 201.6,48.6 202.1,48.4 202.5,48.3 203.0,48.2 203.5,48.0 204.0,47.9 204.5,47.8 204.9,47.6 205.4,47.5 205.9,47.4 206.4,47.2 206.8,47.1 207.3,46.9 207.8,46.8 208.3,46.7 208.8,46.5 209.2,46.4 209.7,46.3 210.2,46.1 210.7,46.0 211.2,45.9 211.6,45.7 212.1,45.6 212.6,45.5 213.1,45.4 213.5,45.3 214.0,45.2 214.5,45.0 215.0,44.9 215.5,44.8 215.9,44.8 216.4,44.7 216.9,44.6 217.4,44.5 217.8,44.4 218.3,44.3 218.8,44.2 219.3,44.1 219.8,44.1 220.2,44.0 220.7,43.9 221.2,43.8 221.7,43.8 222.2,43.7 222.6,43.6 223.1,43.6 223.6,43.5 224.1,43.5 224.5,43.4 225.0,43.3 225.5,43.3 226.0,43.3 226.5,43.2 226.9,43.2 227.4,43.1 227.9,43.1 228.4,43.1 228.8,43.1 229.3,43.0 229.8,43.0 230.3,43.0 230.8,43.0 231.2,43.0 231.7,43.1 232.2,43.1 232.7,43.1 233.1,43.1 233.6,43.2 234.1,43.2 234.6,43.3 235.1,43.4 235.5,43.4 236.0,43.5 236.5,43.6 237.0,43.7 237.5,43.8 237.9,43.9 238.4,44.1 238.9,44.2 239.4,44.3 239.8,44.5 240.3,44.7 240.8,44.9 241.3,45.1 241.8,45.3 242.2,45.6 242.7,45.8 243.2,46.1 243.7,46.4 244.1,46.7 244.6,47.1 245.1,47.4 245.6,47.8 246.1,48.2 246.5,48.6 247.0,49.1 247.5,49.5 248.0,50.0 248.5,50.4 248.9,50.9 249.4,51.4 249.9,51.9 250.4,52.4 250.8,52.9 251.3,53.5 251.8,54.0 252.3,54.6 252.8,55.1 253.2,55.7 253.7,56.3 254.2,56.9 254.7,57.5 255.1,58.2 255.6,58.8 256.1,59.5 256.6,60.1 257.1,60.8 257.5,61.4 258.0,62.1 258.5,62.8 259.0,63.4 259.4,64.1 259.9,64.8 260.4,65.4 260.9,66.1 261.4,66.8 261.8,67.4 262.3,68.1 262.8,68.7 263.3,69.3 263.8,70.0 264.2,70.6 264.7,71.2 265.2,71.9 265.7,72.5 266.1,73.1 266.6,73.8 267.1,74.4 267.6,75.0 268.1,75.7 268.5,76.3 269.0,77.0 269.5,77.6 270.0,78.3 270.4,78.9 270.9,79.6 271.4,80.3 271.9,80.9 272.4,81.6 272.8,82.3 273.3,83.0 273.8,83.7 274.3,84.3 274.8,85.0 275.2,85.7 275.7,86.4 276.2,87.1 276.7,87.8 277.1,88.4 277.6,89.1 278.1,89.8 278.6,90.5 279.1,91.1 279.5,91.8 280.0,92.4 280.5,93.1 281.0,93.7 281.4,94.4 281.9,95.0 282.4,95.6 282.9,96.2 283.4,96.8 283.8,97.4 284.3,98.0 284.8,98.6 285.3,99.2 285.8,99.8 286.2,100.3 286.7,100.9 287.2,101.4 287.7,102.0 288.1,102.5 288.6,103.0 289.1,103.6 289.6,104.1 290.1,104.6 290.5,105.0 291.0,105.5 291.5,106.0 292.0,106.5 292.4,106.9 292.9,107.4 293.4,107.8 293.9,108.2 294.4,108.6 294.8,109.1 295.3,109.5 295.8,109.9 296.3,110.2 296.7,110.6 297.2,111.0 297.7,111.3 298.2,111.7 298.7,112.0 299.1,112.3 299.6,112.7 300.1,113.0 300.6,113.3 301.1,113.6 301.5,113.8 302.0,114.1 302.5,114.4 303.0,114.6 303.4,114.9 303.9,115.1 304.4,115.3 304.9,115.6 305.4,115.8 305.8,116.0 306.3,116.2 306.8,116.4 307.3,116.6 307.7,116.8 308.2,117.0 308.7,117.1 309.2,117.3 309.7,117.5 310.1,117.6 310.6,117.8 311.1,118.0 311.6,118.1 312.1,118.3 312.5,118.4 313.0,118.5 313.5,118.7 314.0,118.8 314.4,118.9 314.9,119.0 315.4,119.2 315.9,119.3 316.4,119.4 316.8,119.5 317.3,119.6 317.8,119.7 318.3,119.8 318.7,119.9 319.2,120.0 319.7,120.1 320.2,120.1 320.7,120.2 321.1,120.3 321.6,120.4 322.1,120.4 322.6,120.5 323.0,120.6 323.5,120.6 324.0,120.7 324.5,120.8 325.0,120.8 325.4,120.9 325.9,120.9 326.4,121.0 326.9,121.1 327.4,121.1 327.8,121.2 328.3,121.2 328.8,121.3 329.3,121.3 329.7,121.3 330.2,121.4 330.7,121.4 331.2,121.5 331.7,121.5 332.1,121.5 332.6,121.6 333.1,121.6 333.6,121.6 334.0,121.7 334.5,121.7 335.0,121.7 335.5,121.8 336.0,121.8 336.4,121.8 336.9,121.8 337.4,121.8 337.9,121.9 338.4,121.9 338.8,121.9 339.3,121.9 339.8,121.9 340.3,121.9 340.7,121.9 341.2,122.0 341.7,122.0 342.2,122.0 342.7,122.0 343.1,122.0 343.6,122.0 344.1,122.0 344.6,122.0 345.0,122.0 345.5,122.0 346.0,122.0 346.5,122.0 347.0,122.0 347.4,122.1 347.9,122.1 348.4,122.1 348.9,122.1 349.4,122.1 349.8,122.1 350.3,122.1 350.8,122.1 351.3,122.1 351.7,122.1 352.2,122.1 352.7,122.1 353.2,122.1 353.7,122.1 354.1,122.1 354.6,122.1 355.1,122.1 355.6,122.1 356.0,122.1 356.5,122.2 357.0,122.2 357.5,122.2 358.0,122.2 358.4,122.2 358.9,122.2 359.4,122.2 359.9,122.2 360.3,122.2 360.8,122.2 361.3,122.2 361.8,122.2 362.3,122.2 362.7,122.2 363.2,122.2 363.7,122.2 364.2,122.2 364.7,122.2 365.1,122.2 365.6,122.2 366.1,122.2 366.6,122.2 367.0,122.2 367.5,122.2 368.0,122.2"/>
<path d="M177.2,14.5 177.7,14.6 178.2,14.6 178.6,14.7 179.1,14.8 179.6,14.9 180.1,14.9 180.5,15.0 181.0,15.1 181.5,15.2 182.0,15.3 182.5,15.5 182.9,15.6 183.4,15.7 183.9,15.8 184.4,15.9 184.9,16.1 185.3,16.2 185.8,16.3 186.3,16.5 186.8,16.6 187.2,16.8 187.7,16.9 188.2,17.1 188.7,17.2 189.2,17.4 189.6,17.6 190.1,17.7 190.6,17.9 191.1,18.1 191.5,18.3 192.0,18.4 192.5,18.6 193.0,18.8 193.5,19.0 193.9,19.2 194.4,19.4 194.9,19.6 195.4,19.8 195.8,20.1 196.3,20.3 196.8,20.5 197.3,20.7 197.8,21.0 198.2,21.2 198.7,21.4 199.2,21.7 199.7,21.9 200.2,22.2 200.6,22.4 201.1,22.7 201.6,22.9 202.1,23.2 202.5,23.4 203.0,23.7 203.5,24.0 204.0,24.3 204.5,24.5 204.9,24.8 205.4,25.1 205.9,25.4 206.4,25.7 206.8,26.0 207.3,26.3 207.8,26.6 208.3,27.0 208.8,27.3 209.2,27.6 209.7,27.9 210.2,28.3 210.7,28.6 211.2,28.9 211.6,29.3 212.1,29.6 212.6,30.0 213.1,30.3 213.5,30.7 214.0,31.0 214.5,31.4 215.0,31.8 215.5,32.1 215.9,32.5 216.4,32.9 216.9,33.2 217.4,33.6 217.8,34.0 218.3,34.4 218.8,34.8 219.3,35.2 219.8,35.6 220.2,36.0 220.7,36.4 221.2,36.8 221.7,37.2 222.2,37.6 222.6,38.1 223.1,38.5 223.6,38.9 224.1,39.4 224.5,39.8 225.0,40.3 225.5,40.7 226.0,41.2 226.5,41.7 226.9,42.1 227.4,42.6 227.9,43.1 228.4,43.6 228.8,44.1 229.3,44.6 229.8,45.1 230.3,45.7 230.8,46.2 231.2,46.7 231.7,47.3 232.2,47.8 232.7,48.4 233.1,49.0 233.6,49.5 234.1,50.1 234.6,50.7 235.1,51.3 235.5,51.9 236.0,52.5 236.5,53.2 237.0,53.8 237.5,54.5 237.9,55.1 238.4,55.8 238.9,56.5 239.4,57.2 239.8,57.9 240.3,58.7 240.8,59.4 241.3,60.2 241.8,61.0 242.2,61.8 242.7,62.6 243.2,63.4 243.7,64.3 244.1,65.1 244.6,66.0 245.1,66.8 245.6,67.7 246.1,68.6 246.5,69.5 247.0,70.4 247.5,71.3 248.0,72.1 248.5,73.0 248.9,73.9 249.4,74.7 249.9,75.6 250.4,76.5 250.8,77.3 251.3,78.1 251.8,79.0 252.3,79.8 252.8,80.6 253.2,81.4 253.7,82.2 254.2,83.0 254.7,83.7 255.1,84.5 255.6,85.3 256.1,86.0 256.6,86.8 257.1,87.5 257.5,88.2 258.0,89.0 258.5,89.7 259.0,90.4 259.4,91.1 259.9,91.7 260.4,92.4 260.9,93.1 261.4,93.7 261.8,94.4 262.3,95.0 262.8,95.6 263.3,96.2 263.8,96.8 264.2,97.4 264.7,98.0 265.2,98.5 265.7,99.1 266.1,99.6 266.6,100.2 267.1,100.7 267.6,101.2 268.1,101.7 268.5,102.3 269.0,102.8 269.5,103.3 270.0,103.8 270.4,104.2 270.9,104.7 271.4,105.2 271.9,105.7 272.4,106.1 272.8,106.6 273.3,107.1 273.8,107.5 274.3,107.9 274.8,108.4 275.2,108.8 275.7,109.2 276.2,109.7 276.7,110.1 277.1,110.5 277.6,110.9 278.1,111.3 278.6,111.6 279.1,112.0 279.5,112.4 280.0,112.8 280.5,113.1 281.0,113.5 281.4,113.8 281.9,114.2 282.4,114.5 282.9,114.8 283.4,115.1 283.8,115.5 284.3,115.8 284.8,116.1 285.3,116.3 285.8,116.6 286.2,116.9 286.7,117.1 287.2,117.4 287.7,117.6 288.1,117.9 288.6,118.1 289.1,118.3 289.6,118.5 290.1,118.7 290.5,118.9 291.0,119.1 291.5,119.3 292.0,119.4 292.4,119.6 292.9,119.7 293.4,119.9 293.9,120.0 294.4,120.2 294.8,120.3 295.3,120.4 295.8,120.5 296.3,120.6 296.7,120.7 297.2,120.8 297.7,120.9 298.2,121.0 298.7,121.1 299.1,121.2 299.6,121.2 300.1,121.3 300.6,121.4 301.1,121.4 301.5,121.5 302.0,121.5 302.5,121.6 303.0,121.6 303.4,121.7 303.9,121.7 304.4,121.7 304.9,121.8 305.4,121.8 305.8,121.8 306.3,121.9 306.8,121.9 307.3,121.9 307.7,121.9 308.2,122.0 308.7,122.0 309.2,122.0 309.7,122.0 310.1,122.0 310.6,122.0 311.1,122.1 311.6,122.1 312.1,122.1 312.5,122.1 313.0,122.1 313.5,122.1 314.0,122.1 314.4,122.1 314.9,122.1 315.4,122.1 315.9,122.1 316.4,122.1 316.8,122.1 317.3,122.1 317.8,122.1 318.3,122.1 318.7,122.1 319.2,122.1 319.7,122.1 320.2,122.1 320.7,122.1 321.1,122.1 321.6,122.1 322.1,122.1 322.6,122.1 323.0,122.1 323.5,122.1 324.0,122.1 324.5,122.1 325.0,122.1 325.4,122.1 325.9,122.1 326.4,122.2 326.9,122.2 327.4,122.2 327.8,122.2 328.3,122.2 328.8,122.2 329.3,122.2 329.7,122.2 330.2,122.2 330.7,122.2 331.2,122.2 331.7,122.2 332.1,122.2 332.6,122.2 333.1,122.2 333.6,122.2 334.0,122.2 334.5,122.2 335.0,122.2 335.5,122.2 336.0,122.2 336.4,122.2 336.9,122.2 337.4,122.2 337.9,122.2 338.4,122.2 338.8,122.2 339.3,122.2 339.8,122.2 340.3,122.2 340.7,122.2 341.2,122.2 341.7,122.2 342.2,122.2 342.7,122.2 343.1,122.2 343.6,122.2 344.1,122.2 344.6,122.2 345.0,122.2 345.5,122.2 346.0,122.2 346.5,122.2 347.0,122.2 347.4,122.2 347.9,122.2 348.4,122.2 348.9,122.2 349.4,122.2 349.8,122.2 350.3,122.2 350.8,122.2 351.3,122.2 351.7,122.2 352.2,122.2 352.7,122.2 353.2,122.2 353.7,122.2 354.1,122.2 354.6,122.2 355.1,122.2 355.6,122.2 356.0,122.2 356.5,122.2 357.0,122.2 357.5,122.2 358.0,122.2 358.4,122.2 358.9,122.2 359.4,122.2 359.9,122.2 360.3,122.2 360.8,122.2 361.3,122.2 361.8,122.2 362.3,122.2 362.7,122.2 363.2,122.2 363.7,122.2 364.2,122.2 364.7,122.2 365.1,122.2 365.6,122.2 366.1,122.2 366.6,122.2 367.0,122.2 367.5,122.2 368.0,122.2" stroke-dasharray="2.1 2.1"/>
</g>
<g clip-path="url(#cl)" fill="none" stroke="#00f" stroke-width="2.35">
<path d="M57.6,122.0 57.6,122.5 57.6,123.0 57.6,123.4 57.6,123.9 57.6,124.4 57.6,124.9 57.6,125.4 57.6,125.8 57.6,126.3 57.6,126.8 57.6,127.3 57.6,127.8 57.6,128.3 57.6,128.7 57.6,129.2 57.6,129.7 57.7,130.2 57.7,130.7 57.7,131.1 57.7,131.6 57.7,132.1 57.7,132.6 57.7,133.1 57.7,133.5 57.7,134.0 57.7,134.5 57.7,135.0 57.7,135.5 57.7,136.0 57.7,136.4 57.7,136.9 57.8,137.4 57.8,137.9 57.8,138.4 57.8,138.8 57.8,139.3 57.8,139.8 57.8,140.3 57.8,140.8 57.8,141.2 57.8,141.7 57.9,142.2 57.9,142.7 57.9,143.2 57.9,143.7 57.9,144.1 57.9,144.6 58.0,145.1 58.0,145.6 58.0,146.1 58.0,146.5 58.0,147.0 58.0,147.5 58.1,148.0 58.1,148.5 58.1,148.9 58.1,149.4 58.2,149.9 58.2,150.4 58.2,150.9 58.3,151.4 58.3,151.8 58.3,152.3 58.3,152.8 58.4,153.3 58.4,153.8 58.5,154.2 58.5,154.7 58.5,155.2 58.6,155.7 58.6,156.2 58.7,156.6 58.7,157.1 58.8,157.6 58.8,158.1 58.9,158.6 59.0,159.1 59.0,159.5 59.1,160.0 59.2,160.5 59.3,161.0 59.4,161.5 59.5,161.9 59.6,162.4 59.7,162.9 59.8,163.4 60.0,163.9 60.1,164.3 60.2,164.8 60.4,165.3 60.5,165.8 60.7,166.3 60.9,166.8 61.0,167.2 61.2,167.7 61.4,168.2 61.5,168.7 61.7,169.2 61.9,169.6 62.1,170.1 62.3,170.6 62.5,171.1 62.7,171.6 62.9,172.0 63.1,172.5 63.4,173.0 63.6,173.5 63.8,174.0 64.1,174.5 64.3,174.9 64.6,175.4 64.9,175.9 65.1,176.4 65.4,176.9 65.7,177.3 66.0,177.8 66.3,178.3 66.6,178.8 66.9,179.3 67.2,179.7 67.5,180.2 67.9,180.7 68.2,181.2 68.6,181.7 68.9,182.2 69.3,182.6 69.6,183.1 70.0,183.6 70.4,184.1 70.8,184.6 71.2,185.0 71.6,185.5 72.0,186.0 72.4,186.5 72.8,187.0 73.3,187.4 73.7,187.9 74.2,188.4 74.6,188.9 75.1,189.4 75.6,189.8 76.1,190.3 76.6,190.8 77.1,191.3 77.6,191.8 78.1,192.3 78.6,192.7 79.2,193.2 79.7,193.7 80.3,194.2 80.8,194.7 81.4,195.1 82.0,195.6 82.5,196.1 83.1,196.6 83.7,197.1 84.3,197.5 85.0,198.0 85.6,198.5 86.2,199.0 86.9,199.5 87.5,200.0 88.2,200.4 88.8,200.9 89.5,201.4 90.2,201.9 90.9,202.4 91.6,202.8 92.3,203.3 93.0,203.8 93.7,204.3 94.4,204.8 95.2,205.2 95.9,205.7 96.6,206.2 97.4,206.7 98.1,207.2 98.9,207.7 99.6,208.1 100.3,208.6 101.1,209.1 101.8,209.6 102.6,210.1 103.3,210.5 104.0,211.0 104.8,211.5 105.5,212.0 106.2,212.5 106.9,212.9 107.7,213.4 108.4,213.9 109.1,214.4 109.8,214.9 110.5,215.4 111.2,215.8 111.9,216.3 112.6,216.8 113.3,217.3 114.0,217.8 114.6,218.2 115.3,218.7 116.0,219.2 116.6,219.7 117.3,220.2 117.9,220.6 118.5,221.1 119.2,221.6 119.8,222.1 120.4,222.6 121.0,223.1 121.6,223.5 122.2,224.0 122.7,224.5 123.3,225.0 123.9,225.5 124.4,225.9 124.9,226.4 125.5,226.9 126.0,227.4 126.5,227.9 127.0,228.3 127.4,228.8 127.9,229.3 128.4,229.8 128.8,230.3 129.2,230.8 129.6,231.2 130.0,231.7 130.4,232.2 130.8,232.7 131.1,233.2 131.5,233.6 131.8,234.1 132.1,234.6 132.4,235.1 132.6,235.6 132.9,236.0 133.1,236.5 133.4,237.0 133.6,237.5 133.7,238.0 133.9,238.5 134.1,238.9 134.2,239.4 134.4,239.9 134.5,240.4 134.6,240.9 134.7,241.3 134.8,241.8 134.9,242.3 134.9,242.8 135.0,243.3 135.0,243.7 135.0,244.2 135.0,244.7 135.0,245.2 135.0,245.7 135.0,246.2 134.9,246.6 134.9,247.1 134.8,247.6 134.7,248.1 134.7,248.6 134.6,249.0 134.5,249.5 134.4,250.0 134.3,250.5 134.2,251.0 134.0,251.4 133.9,251.9 133.8,252.4 133.6,252.9 133.5,253.4 133.3,253.8 133.2,254.3 133.0,254.8 132.8,255.3 132.6,255.8 132.4,256.3 132.2,256.7 132.0,257.2 131.8,257.7 131.6,258.2 131.4,258.7 131.1,259.1 130.9,259.6 130.6,260.1 130.4,260.6 130.1,261.1 129.9,261.5 129.6,262.0 129.3,262.5 129.1,263.0 128.8,263.5 128.5,264.0 128.2,264.4 127.9,264.9 127.6,265.4 127.3,265.9 127.0,266.4 126.7,266.8 126.3,267.3 126.0,267.8 125.7,268.3 125.3,268.8 125.0,269.2 124.7,269.7 124.3,270.2 124.0,270.7 123.6,271.2 123.3,271.7 123.0,272.1 122.6,272.6 122.3,273.1 121.9,273.6 121.6,274.1 121.2,274.5 120.8,275.0 120.5,275.5 120.1,276.0 119.8,276.5 119.4,276.9 119.1,277.4 118.7,277.9 118.4,278.4 118.0,278.9 117.7,279.4 117.4,279.8 117.0,280.3 116.7,280.8 116.4,281.3 116.1,281.8 115.8,282.2 115.5,282.7 115.2,283.2 114.9,283.7 114.6,284.2 114.3,284.6 114.0,285.1 113.7,285.6 113.5,286.1 113.2,286.6 112.9,287.1 112.7,287.5 112.4,288.0 112.2,288.5 111.9,289.0 111.7,289.5 111.4,289.9 111.2,290.4 111.0,290.9 110.7,291.4 110.5,291.9 110.3,292.3 110.1,292.8 109.9,293.3 109.7,293.8 109.4,294.3 109.2,294.8 109.0,295.2 108.8,295.7 108.7,296.2 108.5,296.7 108.3,297.2 108.1,297.6 107.9,298.1 107.7,298.6 107.6,299.1 107.4,299.6 107.2,300.0 107.1,300.5 106.9,301.0 106.8,301.5 106.7,302.0 106.5,302.5 106.4,302.9 106.3,303.4 106.2,303.9 106.1,304.4 106.0,304.9 105.9,305.3 105.8,305.8 105.7,306.3 105.6,306.8 105.5,307.3 105.5,307.7 105.4,308.2 105.3,308.7 105.3,309.2 105.2,309.7 105.2,310.2 105.1,310.6 105.1,311.1 105.0,311.6 105.0,312.1 104.9,312.6 104.9,313.0 104.9,313.5 104.9,314.0"/>
<path d="M57.5,122.0 57.5,122.5 57.5,123.0 57.5,123.4 57.5,123.9 57.5,124.4 57.5,124.9 57.5,125.4 57.5,125.8 57.5,126.3 57.5,126.8 57.5,127.3 57.5,127.8 57.5,128.3 57.5,128.7 57.5,129.2 57.5,129.7 57.5,130.2 57.5,130.7 57.5,131.1 57.5,131.6 57.5,132.1 57.5,132.6 57.5,133.1 57.5,133.5 57.5,134.0 57.5,134.5 57.5,135.0 57.5,135.5 57.5,136.0 57.5,136.4 57.5,136.9 57.5,137.4 57.5,137.9 57.5,138.4 57.5,138.8 57.5,139.3 57.5,139.8 57.5,140.3 57.5,140.8 57.5,141.2 57.5,141.7 57.5,142.2 57.5,142.7 57.5,143.2 57.5,143.7 57.5,144.1 57.5,144.6 57.5,145.1 57.5,145.6 57.5,146.1 57.5,146.5 57.5,147.0 57.5,147.5 57.5,148.0 57.5,148.5 57.5,148.9 57.5,149.4 57.5,149.9 57.5,150.4 57.5,150.9 57.5,151.4 57.5,151.8 57.5,152.3 57.5,152.8 57.5,153.3 57.5,153.8 57.5,154.2 57.5,154.7 57.5,155.2 57.5,155.7 57.5,156.2 57.5,156.6 57.6,157.1 57.6,157.6 57.6,158.1 57.6,158.6 57.6,159.1 57.6,159.5 57.6,160.0 57.6,160.5 57.6,161.0 57.6,161.5 57.6,161.9 57.6,162.4 57.6,162.9 57.6,163.4 57.6,163.9 57.6,164.3 57.6,164.8 57.6,165.3 57.6,165.8 57.6,166.3 57.6,166.8 57.6,167.2 57.6,167.7 57.6,168.2 57.6,168.7 57.6,169.2 57.6,169.6 57.6,170.1 57.6,170.6 57.6,171.1 57.6,171.6 57.7,172.0 57.7,172.5 57.7,173.0 57.7,173.5 57.7,174.0 57.7,174.5 57.8,174.9 57.8,175.4 57.8,175.9 57.8,176.4 57.9,176.9 57.9,177.3 57.9,177.8 58.0,178.3 58.0,178.8 58.0,179.3 58.1,179.7 58.1,180.2 58.1,180.7 58.2,181.2 58.2,181.7 58.3,182.2 58.3,182.6 58.4,183.1 58.4,183.6 58.5,184.1 58.5,184.6 58.6,185.0 58.7,185.5 58.7,186.0 58.8,186.5 58.9,187.0 58.9,187.4 59.0,187.9 59.1,188.4 59.2,188.9 59.2,189.4 59.3,189.8 59.4,190.3 59.5,190.8 59.7,191.3 59.8,191.8 59.9,192.3 60.1,192.7 60.2,193.2 60.4,193.7 60.6,194.2 60.8,194.7 61.0,195.1 61.2,195.6 61.4,196.1 61.7,196.6 61.9,197.1 62.2,197.5 62.4,198.0 62.7,198.5 63.0,199.0 63.3,199.5 63.6,200.0 63.9,200.4 64.2,200.9 64.5,201.4 64.9,201.9 65.2,202.4 65.6,202.8 65.9,203.3 66.3,203.8 66.7,204.3 67.1,204.8 67.5,205.2 67.9,205.7 68.4,206.2 68.8,206.7 69.2,207.2 69.7,207.7 70.2,208.1 70.6,208.6 71.1,209.1 71.6,209.6 72.1,210.1 72.6,210.5 73.1,211.0 73.6,211.5 74.1,212.0 74.6,212.5 75.1,212.9 75.7,213.4 76.2,213.9 76.7,214.4 77.3,214.9 77.9,215.4 78.4,215.8 79.0,216.3 79.6,216.8 80.1,217.3 80.7,217.8 81.3,218.2 81.9,218.7 82.5,219.2 83.1,219.7 83.7,220.2 84.3,220.6 84.9,221.1 85.5,221.6 86.1,222.1 86.8,222.6 87.4,223.1 88.0,223.5 88.6,224.0 89.3,224.5 89.9,225.0 90.5,225.5 91.1,225.9 91.8,226.4 92.4,226.9 93.0,227.4 93.7,227.9 94.3,228.3 94.9,228.8 95.6,229.3 96.2,229.8 96.9,230.3 97.5,230.8 98.1,231.2 98.8,231.7 99.4,232.2 100.1,232.7 100.7,233.2 101.3,233.6 102.0,234.1 102.6,234.6 103.3,235.1 103.9,235.6 104.5,236.0 105.2,236.5 105.8,237.0 106.5,237.5 107.1,238.0 107.7,238.5 108.4,238.9 109.0,239.4 109.6,239.9 110.3,240.4 110.9,240.9 111.6,241.3 112.2,241.8 112.9,242.3 113.5,242.8 114.2,243.3 114.8,243.7 115.5,244.2 116.1,244.7 116.8,245.2 117.4,245.7 118.1,246.2 118.8,246.6 119.4,247.1 120.1,247.6 120.7,248.1 121.4,248.6 122.1,249.0 122.7,249.5 123.3,250.0 124.0,250.5 124.6,251.0 125.2,251.4 125.8,251.9 126.4,252.4 127.0,252.9 127.6,253.4 128.2,253.8 128.7,254.3 129.3,254.8 129.8,255.3 130.3,255.8 130.9,256.3 131.4,256.7 131.9,257.2 132.4,257.7 132.9,258.2 133.3,258.7 133.8,259.1 134.3,259.6 134.7,260.1 135.2,260.6 135.6,261.1 136.1,261.5 136.5,262.0 136.9,262.5 137.4,263.0 137.8,263.5 138.2,264.0 138.6,264.4 139.0,264.9 139.4,265.4 139.8,265.9 140.2,266.4 140.6,266.8 141.0,267.3 141.3,267.8 141.7,268.3 142.0,268.8 142.4,269.2 142.7,269.7 143.0,270.2 143.4,270.7 143.7,271.2 144.0,271.7 144.3,272.1 144.5,272.6 144.8,273.1 145.1,273.6 145.3,274.1 145.6,274.5 145.8,275.0 146.0,275.5 146.3,276.0 146.5,276.5 146.7,276.9 146.9,277.4 147.1,277.9 147.3,278.4 147.5,278.9 147.6,279.4 147.8,279.8 148.0,280.3 148.1,280.8 148.3,281.3 148.4,281.8 148.6,282.2 148.7,282.7 148.8,283.2 149.0,283.7 149.1,284.2 149.2,284.6 149.3,285.1 149.4,285.6 149.5,286.1 149.6,286.6 149.7,287.1 149.8,287.5 149.9,288.0 150.0,288.5 150.0,289.0 150.1,289.5 150.2,289.9 150.3,290.4 150.3,290.9 150.4,291.4 150.5,291.9 150.5,292.3 150.6,292.8 150.6,293.3 150.7,293.8 150.7,294.3 150.8,294.8 150.8,295.2 150.8,295.7 150.9,296.2 150.9,296.7 150.9,297.2 150.9,297.6 151.0,298.1 151.0,298.6 151.0,299.1 151.0,299.6 151.0,300.0 151.0,300.5 151.1,301.0 151.1,301.5 151.1,302.0 151.1,302.5 151.1,302.9 151.1,303.4 151.1,303.9 151.1,304.4 151.1,304.9 151.1,305.3 151.1,305.8 151.1,306.3 151.2,306.8 151.2,307.3 151.2,307.7 151.2,308.2 151.2,308.7 151.2,309.2 151.2,309.7 151.2,310.2 151.2,310.6 151.2,311.1 151.2,311.6 151.2,312.1 151.2,312.6 151.2,313.0 151.2,313.5 151.2,314.0" stroke-dasharray="2.1 2.1"/>
</g>
<rect x="177.2" y="122.06" width="191.04" height="191.04" fill="none" stroke="#000" stroke-width="2.2"/>
<path d="M209.04,313.1v-6.9M209.04,122.06v6.9M177.2,281.26h6.9M368.24,281.26h-6.9M240.88,313.1v-6.9M240.88,122.06v6.9M177.2,249.42h6.9M368.24,249.42h-6.9M272.72,313.1v-6.9M272.72,122.06v6.9M177.2,217.58h6.9M368.24,217.58h-6.9M304.56,313.1v-6.9M304.56,122.06v6.9M177.2,185.74h6.9M368.24,185.74h-6.9M336.40,313.1v-6.9M336.40,122.06v6.9M177.2,153.90h6.9M368.24,153.90h-6.9" stroke="#000" stroke-width="2.0" fill="none"/>
<rect x="373.1" y="122.06" width="9.70" height="191.04" fill="url(#cb)" stroke="#000" stroke-width="2"/>
<g filter="url(#idn)">
<text x="211.04" y="332.00" font-family="Liberation Serif, serif" font-size="18.3" text-anchor="middle" >2</text>
<text x="242.88" y="332.00" font-family="Liberation Serif, serif" font-size="18.3" text-anchor="middle" >4</text>
<text x="274.72" y="332.00" font-family="Liberation Serif, serif" font-size="18.3" text-anchor="middle" >6</text>
<text x="306.56" y="332.00" font-family="Liberation Serif, serif" font-size="18.3" text-anchor="middle" >8</text>
<text x="339.20" y="332.00" font-family="Liberation Serif, serif" font-size="18.3" text-anchor="middle" >10</text>
<text x="371.04" y="332.00" font-family="Liberation Serif, serif" font-size="18.3" text-anchor="middle" >12</text>
<text x="47.00" y="318.30" font-family="Liberation Serif, serif" font-size="18.3" text-anchor="end" >0</text>
<text x="47.00" y="286.46" font-family="Liberation Serif, serif" font-size="18.3" text-anchor="end" >2</text>
<text x="47.00" y="254.62" font-family="Liberation Serif, serif" font-size="18.3" text-anchor="end" >4</text>
<text x="47.00" y="222.78" font-family="Liberation Serif, serif" font-size="18.3" text-anchor="end" >6</text>
<text x="47.00" y="190.94" font-family="Liberation Serif, serif" font-size="18.3" text-anchor="end" >8</text>
<text x="47.00" y="159.10" font-family="Liberation Serif, serif" font-size="18.3" text-anchor="end" >10</text>
<text x="47.00" y="127.26" font-family="Liberation Serif, serif" font-size="18.3" text-anchor="end" >12</text>
<text x="59.40" y="332.00" font-family="Liberation Serif, serif" font-size="18.3" text-anchor="middle" >0</text>
<text x="106.90" y="332.00" font-family="Liberation Serif, serif" font-size="18.3" text-anchor="middle" >0.1</text>
<text x="154.90" y="332.00" font-family="Liberation Serif, serif" font-size="18.3" text-anchor="middle" >0.2</text>
<text x="170.00" y="31.63" font-family="Liberation Serif, serif" font-size="18.3" text-anchor="end" >0.2</text>
<text x="170.00" y="79.50" font-family="Liberation Serif, serif" font-size="18.3" text-anchor="end" >0.1</text>
<text x="393.20" y="127.06" font-family="Liberation Serif, serif" font-size="18.3" text-anchor="start" >10</text>
<text x="393.20" y="165.27" font-family="Liberation Serif, serif" font-size="18.3" text-anchor="start" >5</text>
<text x="393.20" y="203.48" font-family="Liberation Serif, serif" font-size="18.3" text-anchor="start" >0</text>
<text x="389.10" y="241.68" font-family="Liberation Serif, serif" font-size="18.3" text-anchor="start" >-5</text>
<text x="389.10" y="279.89" font-family="Liberation Serif, serif" font-size="18.3" text-anchor="start" >-10</text>
<text x="389.10" y="318.10" font-family="Liberation Serif, serif" font-size="18.3" text-anchor="start" >-15</text>
<text x="264.40" y="353.60" font-family="Liberation Serif, serif" font-size="19.3" text-anchor="start" font-style="italic">ϕ</text>
<text x="274.00" y="357.80" font-family="Liberation Serif, serif" font-size="14.5" text-anchor="start" font-style="italic">I</text>
<text x="2.60" y="222.60" font-family="Liberation Serif, serif" font-size="19.3" text-anchor="start" font-style="italic">ϕ</text>
<text x="13.20" y="225.90" font-family="Liberation Serif, serif" font-size="14.5" text-anchor="start" font-style="italic">F</text>
<path d="M76.90,54.40V73.80M129.10,54.40V73.80" stroke="#000" stroke-width="1.1" fill="none"/>
<text x="79.50" y="69.40" font-family="Liberation Serif, serif" font-size="20.5" text-anchor="start" >Ψ</text>
<text x="96.10" y="69.10" font-family="Liberation Serif, serif" font-size="22" text-anchor="start" >(</text>
<text x="102.50" y="69.40" font-family="Liberation Serif, serif" font-size="20" text-anchor="start" font-style="italic">ϕ</text>
<text x="112.80" y="72.40" font-family="Liberation Serif, serif" font-size="14" text-anchor="start" font-style="italic">I</text>
<text x="119.50" y="69.10" font-family="Liberation Serif, serif" font-size="22" text-anchor="start" >)</text>
<text x="132.10" y="62.80" font-family="Liberation Serif, serif" font-size="14.3" text-anchor="start" >2</text>
<path d="M84.10,340.30V359.70M139.30,340.30V359.70" stroke="#000" stroke-width="1.1" fill="none"/>
<text x="86.70" y="355.30" font-family="Liberation Serif, serif" font-size="20.5" text-anchor="start" >Ψ</text>
<text x="103.30" y="355.00" font-family="Liberation Serif, serif" font-size="22" text-anchor="start" >(</text>
<text x="109.70" y="355.30" font-family="Liberation Serif, serif" font-size="20" text-anchor="start" font-style="italic">ϕ</text>
<text x="120.00" y="358.30" font-family="Liberation Serif, serif" font-size="14" text-anchor="start" font-style="italic">F</text>
<text x="129.70" y="355.00" font-family="Liberation Serif, serif" font-size="22" text-anchor="start" >)</text>
<text x="142.30" y="348.70" font-family="Liberation Serif, serif" font-size="14.3" text-anchor="start" >2</text>
<text x="250.20" y="26.50" font-family="Liberation Serif, serif" font-size="17.8" text-anchor="start" font-style="italic">g</text>
<text x="258.80" y="19.50" font-family="Liberation Serif, serif" font-size="13.4" text-anchor="start" font-style="italic">T</text>
<path d="M269.30,14.70h8.4M269.30,17.50h8.4" stroke="#000" stroke-width="0.9" fill="none"/>
<text x="278.40" y="19.70" font-family="Liberation Serif, serif" font-size="13.6" text-anchor="start" >0</text>
<path d="M291.00,19.70H303.40M291.00,23.70H303.40M293.40,29.20L301.80,13.10" stroke="#000" stroke-width="0.95" fill="none"/>
<text x="308.00" y="26.50" font-family="Liberation Serif, serif" font-size="19" text-anchor="start" >0</text>
<path d="M327.80,21.20h27.4" stroke="#f00" stroke-width="2.35" fill="none"/>
<text x="250.20" y="44.30" font-family="Liberation Serif, serif" font-size="17.8" text-anchor="start" font-style="italic">g</text>
<text x="258.80" y="37.30" font-family="Liberation Serif, serif" font-size="13.4" text-anchor="start" font-style="italic">T</text>
<path d="M269.30,32.50h8.4M269.30,35.30h8.4" stroke="#000" stroke-width="0.9" fill="none"/>
<text x="278.40" y="37.50" font-family="Liberation Serif, serif" font-size="13.6" text-anchor="start" >0</text>
<path d="M291.00,37.50H303.40M291.00,41.50H303.40" stroke="#000" stroke-width="0.95" fill="none"/>
<text x="308.00" y="44.30" font-family="Liberation Serif, serif" font-size="19" text-anchor="start" >0</text>
<path d="M327.80,39.00h27.4" stroke="#f00" stroke-width="2.35" fill="none" stroke-dasharray="2.1 2.1"/>
<text x="66.30" y="147.80" font-family="Liberation Serif, serif" font-size="17.8" text-anchor="start" font-style="italic">g</text>
<text x="74.90" y="140.80" font-family="Liberation Serif, serif" font-size="13.4" text-anchor="start" font-style="italic">T</text>
<path d="M85.40,136.00h8.4M85.40,138.80h8.4" stroke="#000" stroke-width="0.9" fill="none"/>
<text x="94.50" y="141.00" font-family="Liberation Serif, serif" font-size="13.6" text-anchor="start" >0</text>
<path d="M107.10,141.00H119.50M107.10,145.00H119.50M109.50,150.50L117.90,134.40" stroke="#000" stroke-width="0.95" fill="none"/>
<text x="124.10" y="147.80" font-family="Liberation Serif, serif" font-size="19" text-anchor="start" >0</text>
<path d="M143.90,142.50h27.4" stroke="#00f" stroke-width="2.35" fill="none"/>
<text x="66.30" y="165.40" font-family="Liberation Serif, serif" font-size="17.8" text-anchor="start" font-style="italic">g</text>
<text x="74.90" y="158.40" font-family="Liberation Serif, serif" font-size="13.4" text-anchor="start" font-style="italic">T</text>
<path d="M85.40,153.60h8.4M85.40,156.40h8.4" stroke="#000" stroke-width="0.9" fill="none"/>
<text x="94.50" y="158.60" font-family="Liberation Serif, serif" font-size="13.6" text-anchor="start" >0</text>
<path d="M107.10,158.60H119.50M107.10,162.60H119.50" stroke="#000" stroke-width="0.95" fill="none"/>
<text x="124.10" y="165.40" font-family="Liberation Serif, serif" font-size="19" text-anchor="start" >0</text>
<path d="M143.90,160.10h27.4" stroke="#00f" stroke-width="2.35" fill="none" stroke-dasharray="2.1 2.1"/>
<text x="289.20" y="71.70" font-family="Liberation Serif, serif" font-size="13" text-anchor="start" >76</text>
<text x="301.80" y="78.50" font-family="Liberation Serif, serif" font-size="19" text-anchor="start" >Ge</text>
<text x="129.40" y="207.90" font-family="Liberation Serif, serif" font-size="13" text-anchor="start" >76</text>
<text x="142.00" y="214.70" font-family="Liberation Serif, serif" font-size="19" text-anchor="start" >Se</text>
</g>
</svg>
</body></html>
